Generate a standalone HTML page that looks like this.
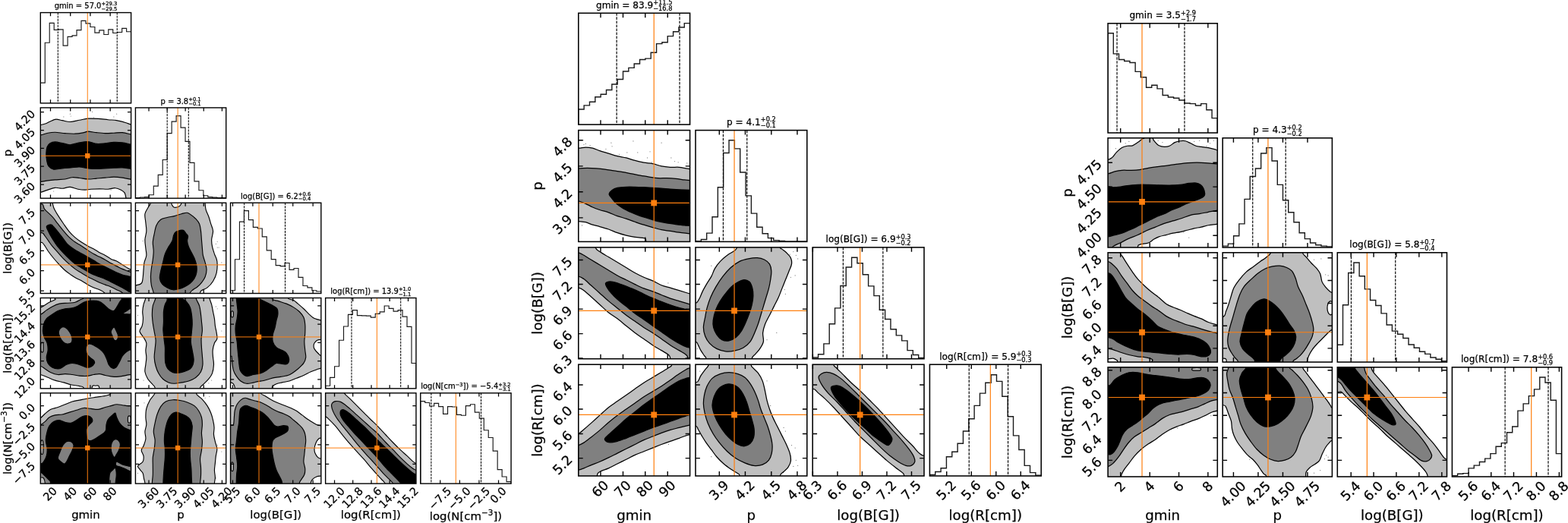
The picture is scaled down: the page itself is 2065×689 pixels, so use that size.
<!DOCTYPE html>
<html><head><meta charset="utf-8"><title>corner plots</title>
<style>
html,body{margin:0;padding:0;background:#fff;}
body{width:2065px;height:689px;overflow:hidden;}
svg{display:block;}
.t{font-family:"DejaVu Sans","Liberation Sans",sans-serif;fill:#000;stroke:#000;stroke-width:0.25px;}
</style></head><body>
<svg width="2065" height="689" viewBox="0 0 2065 689">
<defs><clipPath id="c1"><rect x="53.3" y="16.6" width="119.3" height="119.3"/></clipPath><clipPath id="c2"><rect x="178.42" y="141.9" width="119.3" height="119.3"/></clipPath><clipPath id="c3"><rect x="303.54" y="267.2" width="119.3" height="119.3"/></clipPath><clipPath id="c4"><rect x="428.66" y="392.5" width="119.3" height="119.3"/></clipPath><clipPath id="c5"><rect x="553.78" y="517.8" width="119.3" height="119.3"/></clipPath><clipPath id="c6"><rect x="53.3" y="141.9" width="119.3" height="119.3"/></clipPath><clipPath id="c7"><rect x="53.3" y="267.2" width="119.3" height="119.3"/></clipPath><clipPath id="c8"><rect x="53.3" y="392.5" width="119.3" height="119.3"/></clipPath><clipPath id="c9"><rect x="53.3" y="517.8" width="119.3" height="119.3"/></clipPath><clipPath id="c10"><rect x="178.42" y="267.2" width="119.3" height="119.3"/></clipPath><clipPath id="c11"><rect x="178.42" y="392.5" width="119.3" height="119.3"/></clipPath><clipPath id="c12"><rect x="178.42" y="517.8" width="119.3" height="119.3"/></clipPath><clipPath id="c13"><rect x="303.54" y="392.5" width="119.3" height="119.3"/></clipPath><clipPath id="c14"><rect x="303.54" y="517.8" width="119.3" height="119.3"/></clipPath><clipPath id="c15"><rect x="428.66" y="517.8" width="119.3" height="119.3"/></clipPath><clipPath id="c16"><rect x="761.8" y="17.3" width="146.8" height="146.8"/></clipPath><clipPath id="c17"><rect x="916" y="171.6" width="146.8" height="146.8"/></clipPath><clipPath id="c18"><rect x="1070.2" y="325.9" width="146.8" height="146.8"/></clipPath><clipPath id="c19"><rect x="1224.4" y="480.2" width="146.8" height="146.8"/></clipPath><clipPath id="c20"><rect x="761.8" y="171.6" width="146.8" height="146.8"/></clipPath><clipPath id="c21"><rect x="761.8" y="325.9" width="146.8" height="146.8"/></clipPath><clipPath id="c22"><rect x="761.8" y="480.2" width="146.8" height="146.8"/></clipPath><clipPath id="c23"><rect x="916" y="325.9" width="146.8" height="146.8"/></clipPath><clipPath id="c24"><rect x="916" y="480.2" width="146.8" height="146.8"/></clipPath><clipPath id="c25"><rect x="1070.2" y="480.2" width="146.8" height="146.8"/></clipPath><clipPath id="c26"><rect x="1459.1" y="30.8" width="144.2" height="144.2"/></clipPath><clipPath id="c27"><rect x="1610.2" y="181.8" width="144.2" height="144.2"/></clipPath><clipPath id="c28"><rect x="1761.3" y="332.8" width="144.2" height="144.2"/></clipPath><clipPath id="c29"><rect x="1912.4" y="483.8" width="144.2" height="144.2"/></clipPath><clipPath id="c30"><rect x="1459.1" y="181.8" width="144.2" height="144.2"/></clipPath><clipPath id="c31"><rect x="1459.1" y="332.8" width="144.2" height="144.2"/></clipPath><clipPath id="c32"><rect x="1459.1" y="483.8" width="144.2" height="144.2"/></clipPath><clipPath id="c33"><rect x="1610.2" y="332.8" width="144.2" height="144.2"/></clipPath><clipPath id="c34"><rect x="1610.2" y="483.8" width="144.2" height="144.2"/></clipPath><clipPath id="c35"><rect x="1761.3" y="483.8" width="144.2" height="144.2"/></clipPath></defs>
<g clip-path="url(#c1)">
<path d="M53.3,135.9 V109.11 H59.27 V56.28 H65.23 V30.43 H71.19 V39.3 H77.16 V38.92 H83.12 V60.06 H89.09 V48.36 H95.06 V46.85 H101.02 V39.68 H106.98 V27.42 H112.95 V30.81 H118.91 V35.53 H124.88 V43.08 H130.84 V39.87 H136.81 V45.53 H142.77 V38.92 H148.74 V43.45 H154.7 V42.51 H160.67 V37.42 H166.63 V41.75 H172.6 V135.9" fill="none" stroke="#1a1a1a" stroke-width="1.15" stroke-linejoin="miter"/>
<line x1="76.3" y1="16.6" x2="76.3" y2="135.9" stroke="#000" stroke-width="1.05" stroke-dasharray="2.9 1.19"/>
<line x1="154.23" y1="16.6" x2="154.23" y2="135.9" stroke="#000" stroke-width="1.05" stroke-dasharray="2.9 1.19"/>
<line x1="115.26" y1="16.6" x2="115.26" y2="135.9" stroke="#ff7f0e" stroke-width="1"/>
</g>
<path d="M66.49,135.9v-4.6 M66.49,16.6v4.6 M92.72,135.9v-4.6 M92.72,16.6v4.6 M118.94,135.9v-4.6 M118.94,16.6v4.6 M145.17,135.9v-4.6 M145.17,16.6v4.6" stroke="#000" stroke-width="1.26" fill="none"/>
<rect x="53.3" y="16.6" width="119.3" height="119.3" fill="none" stroke="#000" stroke-width="1.4"/>
<g clip-path="url(#c2)">
<path d="M178.42,261.2 V260.53 H184.39 V259.96 H190.35 V259.58 H196.32 V256.75 H202.28 V245.06 H208.25 V230.34 H214.21 V210.53 H220.18 V175.62 H226.14 V160.15 H232.11 V152.6 H238.07 V168.08 H244.04 V186.38 H250 V214.3 H255.97 V238.83 H261.93 V250.72 H267.9 V257.7 H273.86 V259.58 H279.83 V260.15 H285.79 V260.53 H291.75 V260.53 H297.72 V261.2" fill="none" stroke="#1a1a1a" stroke-width="1.15" stroke-linejoin="miter"/>
<line x1="220.17" y1="141.9" x2="220.17" y2="261.2" stroke="#000" stroke-width="1.05" stroke-dasharray="2.9 1.19"/>
<line x1="248.28" y1="141.9" x2="248.28" y2="261.2" stroke="#000" stroke-width="1.05" stroke-dasharray="2.9 1.19"/>
<line x1="234.13" y1="141.9" x2="234.13" y2="261.2" stroke="#ff7f0e" stroke-width="1"/>
</g>
<path d="M196.02,261.2v-4.6 M196.02,141.9v4.6 M220.17,261.2v-4.6 M220.17,141.9v4.6 M244.13,261.2v-4.6 M244.13,141.9v4.6 M268.28,261.2v-4.6 M268.28,141.9v4.6 M292.43,261.2v-4.6 M292.43,141.9v4.6" stroke="#000" stroke-width="1.26" fill="none"/>
<rect x="178.42" y="141.9" width="119.3" height="119.3" fill="none" stroke="#000" stroke-width="1.4"/>
<g clip-path="url(#c3)">
<path d="M303.54,386.5 V382.7 H309.5 V341.75 H315.47 V292.13 H321.44 V277.6 H327.4 V289.68 H333.37 V299.3 H339.33 V301 H345.3 V311.94 H351.26 V329.87 H357.23 V341.57 H363.19 V349.68 H369.16 V350.62 H375.12 V346.47 H381.09 V355.34 H387.05 V353.45 H393.02 V365.34 H398.98 V376.47 H404.95 V378.92 H410.91 V382.7 H416.88 V384.02 H422.84 V386.5" fill="none" stroke="#1a1a1a" stroke-width="1.15" stroke-linejoin="miter"/>
<line x1="321.58" y1="267.2" x2="321.58" y2="386.5" stroke="#000" stroke-width="1.05" stroke-dasharray="2.9 1.19"/>
<line x1="375.55" y1="267.2" x2="375.55" y2="386.5" stroke="#000" stroke-width="1.05" stroke-dasharray="2.9 1.19"/>
<line x1="341.02" y1="267.2" x2="341.02" y2="386.5" stroke="#ff7f0e" stroke-width="1"/>
</g>
<path d="M306.49,386.5v-4.6 M306.49,267.2v4.6 M332.91,386.5v-4.6 M332.91,267.2v4.6 M359.32,386.5v-4.6 M359.32,267.2v4.6 M385.74,386.5v-4.6 M385.74,267.2v4.6 M412.15,386.5v-4.6 M412.15,267.2v4.6" stroke="#000" stroke-width="1.26" fill="none"/>
<rect x="303.54" y="267.2" width="119.3" height="119.3" fill="none" stroke="#000" stroke-width="1.4"/>
<g clip-path="url(#c4)">
<path d="M428.66,511.8 V508.26 H434.62 V497.32 H440.59 V482.79 H446.56 V448.26 H452.52 V429.96 H458.49 V414.3 H464.45 V408.64 H470.42 V415.62 H476.38 V415.81 H482.35 V416.19 H488.31 V418.08 H494.28 V413.36 H500.24 V410.91 H506.21 V402.98 H512.17 V406.38 H518.13 V410.15 H524.1 V408.64 H530.07 V417.13 H536.03 V430.34 H542 V478.45 H547.96 V511.8" fill="none" stroke="#1a1a1a" stroke-width="1.15" stroke-linejoin="miter"/>
<line x1="463" y1="392.5" x2="463" y2="511.8" stroke="#000" stroke-width="1.05" stroke-dasharray="2.9 1.19"/>
<line x1="527.72" y1="392.5" x2="527.72" y2="511.8" stroke="#000" stroke-width="1.05" stroke-dasharray="2.9 1.19"/>
<line x1="496.4" y1="392.5" x2="496.4" y2="511.8" stroke="#ff7f0e" stroke-width="1"/>
</g>
<path d="M440.55,511.8v-4.6 M440.55,392.5v4.6 M464.7,511.8v-4.6 M464.7,392.5v4.6 M489.04,511.8v-4.6 M489.04,392.5v4.6 M513.19,511.8v-4.6 M513.19,392.5v4.6 M537.53,511.8v-4.6 M537.53,392.5v4.6" stroke="#000" stroke-width="1.26" fill="none"/>
<rect x="428.66" y="392.5" width="119.3" height="119.3" fill="none" stroke="#000" stroke-width="1.4"/>
<g clip-path="url(#c5)">
<path d="M553.78,637.1 V528.6 H559.75 V530.49 H565.71 V535.02 H571.67 V531.43 H577.64 V535.58 H583.61 V545.4 H589.57 V535.58 H595.53 V535.96 H601.5 V546.34 H607.46 V547.28 H613.43 V534.64 H619.39 V532.75 H625.36 V543.13 H631.32 V551.06 H637.29 V566.72 H643.25 V576.53 H649.22 V594.08 H655.18 V618.6 H661.15 V628.04 H667.11 V634.64 H673.08 V637.1" fill="none" stroke="#1a1a1a" stroke-width="1.15" stroke-linejoin="miter"/>
<line x1="567.87" y1="517.8" x2="567.87" y2="637.1" stroke="#000" stroke-width="1.05" stroke-dasharray="2.9 1.19"/>
<line x1="633.53" y1="517.8" x2="633.53" y2="637.1" stroke="#000" stroke-width="1.05" stroke-dasharray="2.9 1.19"/>
<line x1="600.32" y1="517.8" x2="600.32" y2="637.1" stroke="#ff7f0e" stroke-width="1"/>
</g>
<path d="M579.75,637.1v-4.6 M579.75,517.8v4.6 M605.42,637.1v-4.6 M605.42,517.8v4.6 M630.98,637.1v-4.6 M630.98,517.8v4.6 M656.55,637.1v-4.6 M656.55,517.8v4.6" stroke="#000" stroke-width="1.26" fill="none"/>
<rect x="553.78" y="517.8" width="119.3" height="119.3" fill="none" stroke="#000" stroke-width="1.4"/>
<g clip-path="url(#c6)">
<path d="M83.85,153.92h0.01 M92.34,150.15h0.01 M93.28,152.98h0.01 M121.58,147.32h0.01 M123.47,154.87h0.01 M149.89,153.92h0.01 M153.66,150.15h0.01 M146.11,250.15h0.01 M70.64,252.04h0.01" stroke="#000" stroke-opacity="0.5" stroke-width="1.12" stroke-linecap="round" fill="none"/>
<path d="M40.45,167.13 C42.59,151.79 49.82,165.47 53.28,164.68 C56.74,163.89 58,163.64 61.21,162.42 C64.42,161.19 69.07,157.95 72.53,157.32 C75.99,156.69 78.66,158.11 81.96,158.64 C85.26,159.18 88.57,160.59 92.34,160.53 C96.11,160.47 100.67,158.99 104.6,158.26 C108.53,157.54 111.84,156.5 115.92,156.19 C120.01,155.87 124.73,156.13 129.13,156.38 C133.53,156.63 138.25,157.32 142.34,157.7 C146.43,158.08 149.89,158.01 153.66,158.64 C157.43,159.27 161.77,160.53 164.98,161.47 C168.19,162.42 169.76,163.36 172.91,164.3 C176.05,165.25 182.03,149.21 183.85,167.13 C185.67,185.06 186.68,254.4 183.85,271.85 C181.02,289.3 169.86,273.67 166.87,271.85 C163.88,270.03 166.4,263.89 165.92,260.91 C165.45,257.92 165.14,255.72 164.04,253.92 C162.94,252.13 161.36,251.19 159.32,250.15 C157.28,249.11 154.6,247.86 151.77,247.7 C148.94,247.54 145.8,249.02 142.34,249.21 C138.88,249.4 134.79,248.83 131.02,248.83 C127.25,248.83 122.84,248.99 119.7,249.21 C116.55,249.43 114.98,250.15 112.15,250.15 C109.32,250.15 106.02,249.84 102.72,249.21 C99.42,248.58 95.8,246.53 92.34,246.38 C88.88,246.22 85.26,248.11 81.96,248.26 C78.66,248.42 75.67,247.01 72.53,247.32 C69.38,247.64 66.3,249.14 63.09,250.15 C59.89,251.16 57.06,252.26 53.28,253.36 C49.51,254.46 42.59,271.13 40.45,256.75 C38.31,242.38 38.31,182.48 40.45,167.13Z" fill="#bfbfbf" stroke="#000" stroke-width="1.15" stroke-linejoin="round"/>
<path d="M40.45,179.4 C42.59,168.92 49.51,178.58 53.28,177.89 C57.06,177.19 59.89,175.84 63.09,175.25 C66.3,174.65 68.75,174.24 72.53,174.3 C76.3,174.36 81.33,175.31 85.74,175.62 C90.14,175.94 94.86,176.35 98.94,176.19 C103.03,176.03 107.43,175.18 110.26,174.68 C113.09,174.18 113.09,173.17 115.92,173.17 C118.75,173.17 123.47,174.27 127.25,174.68 C131.02,175.09 134.79,175.53 138.57,175.62 C142.34,175.72 146.11,175.4 149.89,175.25 C153.66,175.09 157.37,174.36 161.21,174.68 C165.04,174.99 169.13,176.35 172.91,177.13 C176.68,177.92 182.03,169.11 183.85,179.4 C185.67,189.68 185.67,229.33 183.85,238.83 C182.03,248.33 176.68,237.16 172.91,236.38 C169.13,235.59 165.04,234.65 161.21,234.11 C157.37,233.58 153.66,233.17 149.89,233.17 C146.11,233.17 142.34,233.8 138.57,234.11 C134.79,234.43 131.02,234.74 127.25,235.06 C123.47,235.37 119.7,236.09 115.92,236 C112.15,235.91 108.06,234.87 104.6,234.49 C101.14,234.11 98.31,233.48 95.17,233.74 C92.03,233.99 89.51,235.47 85.74,236 C81.96,236.53 76.3,236.63 72.53,236.94 C68.75,237.26 66.3,237.48 63.09,237.89 C59.89,238.3 57.06,238.92 53.28,239.4 C49.51,239.87 42.59,250.72 40.45,240.72 C38.31,230.72 38.31,189.87 40.45,179.4Z" fill="#808080" stroke="#000" stroke-width="1.15" stroke-linejoin="round"/>
<path d="M183.85,192.6 C182.03,187.04 176.68,191.13 172.91,190.34 C169.13,189.55 165.04,188.39 161.21,187.89 C157.37,187.38 153.66,187.16 149.89,187.32 C146.11,187.48 142.34,188.48 138.57,188.83 C134.79,189.18 131.02,189.77 127.25,189.4 C123.47,189.02 119.7,186.82 115.92,186.57 C112.15,186.31 108.53,187.19 104.6,187.89 C100.67,188.58 96.11,190.62 92.34,190.72 C88.57,190.81 85.26,189.08 81.96,188.45 C78.66,187.82 75.2,186.88 72.53,186.94 C69.86,187.01 67.65,187.73 65.92,188.83 C64.19,189.93 63,191.35 62.15,193.55 C61.3,195.75 60.92,199.05 60.83,202.04 C60.74,205.03 61.05,208.64 61.58,211.47 C62.12,214.3 62.53,217.07 64.04,219.02 C65.55,220.97 67.65,222.7 70.64,223.17 C73.63,223.64 78.19,222.23 81.96,221.85 C85.74,221.47 89.51,221.22 93.28,220.91 C97.06,220.59 100.83,219.81 104.6,219.96 C108.38,220.12 112.15,221.44 115.92,221.85 C119.7,222.26 123.47,222.42 127.25,222.42 C131.02,222.42 134.79,222.04 138.57,221.85 C142.34,221.66 146.11,221.44 149.89,221.28 C153.66,221.13 157.37,220.72 161.21,220.91 C165.04,221.09 169.13,221.94 172.91,222.42 C176.68,222.89 182.03,228.7 183.85,223.74 C185.67,218.77 185.67,198.17 183.85,192.6Z" fill="#000000" stroke="#000" stroke-width="1.15" stroke-linejoin="round"/>
<path d="M115.26,141.9V261.2 M53.3,205.25H172.6" stroke="#ff7f0e" stroke-width="1" fill="none"/>
<rect x="112.06" y="202.05" width="6.4" height="6.4" fill="#ff7f0e"/>
</g>
<path d="M66.49,261.2v-4.6 M66.49,141.9v4.6 M92.72,261.2v-4.6 M92.72,141.9v4.6 M118.94,261.2v-4.6 M118.94,141.9v4.6 M145.17,261.2v-4.6 M145.17,141.9v4.6 M53.3,147.7h4.6 M172.6,147.7h-4.6 M53.3,171.66h4.6 M172.6,171.66h-4.6 M53.3,195.43h4.6 M172.6,195.43h-4.6 M53.3,219.21h4.6 M172.6,219.21h-4.6 M53.3,243.17h4.6 M172.6,243.17h-4.6" stroke="#000" stroke-width="1.26" fill="none"/>
<rect x="53.3" y="141.9" width="119.3" height="119.3" fill="none" stroke="#000" stroke-width="1.4"/>
<g clip-path="url(#c7)">
<path d="M40.45,253.45 C44.86,243.39 62.09,256.85 66.87,259.11 C71.65,261.38 68.44,264.52 69.13,267.04 C69.82,269.55 69.82,271.44 71.02,274.21 C72.21,276.97 74.16,280.18 76.3,283.64 C78.44,287.1 81.33,291.35 83.85,294.96 C86.36,298.58 88.88,302.35 91.4,305.34 C93.91,308.33 96.43,310.69 98.94,312.89 C101.46,315.09 103.66,316.66 106.49,318.55 C109.32,320.43 113.09,322.64 115.92,324.21 C118.75,325.78 120.96,326.57 123.47,327.98 C125.99,329.4 128.5,331.28 131.02,332.7 C133.53,334.11 136.05,335.06 138.57,336.47 C141.08,337.89 143.6,339.93 146.11,341.19 C148.63,342.45 151.14,342.76 153.66,344.02 C156.18,345.28 158.69,347.16 161.21,348.74 C163.72,350.31 166.81,352.35 168.75,353.45 C170.7,354.55 170.39,354.08 172.91,355.34 C175.42,356.6 182.03,354.08 183.85,361 C185.67,367.92 190.77,390.87 183.85,396.85 C176.93,402.82 150.04,398.67 142.34,396.85 C134.64,395.03 139.51,388.42 137.62,385.91 C135.74,383.39 133.38,382.92 131.02,381.75 C128.66,380.59 125.99,380.03 123.47,378.92 C120.96,377.82 118.44,376.57 115.92,375.15 C113.41,373.74 110.89,371.85 108.38,370.43 C105.86,369.02 103.35,368.08 100.83,366.66 C98.31,365.25 95.8,363.67 93.28,361.94 C90.77,360.21 88.25,358.48 85.74,356.28 C83.22,354.08 80.7,351.41 78.19,348.74 C75.67,346.06 73,343.08 70.64,340.25 C68.28,337.42 65.92,334.43 64.04,331.75 C62.15,329.08 60.67,326.19 59.32,324.21 C57.97,322.23 56.93,320.65 55.92,319.87 C54.92,319.08 55.86,319.55 53.28,319.49 C50.7,319.43 42.59,330.5 40.45,319.49 C38.31,308.48 36.05,263.52 40.45,253.45Z" fill="#bfbfbf" stroke="#000" stroke-width="1.15" stroke-linejoin="round"/>
<path d="M40.45,268.55 C42.59,262.26 50.61,268.77 53.28,268.92 C55.96,269.08 55.64,268.45 56.49,269.49 C57.34,270.53 57.28,273.42 58.38,275.15 C59.48,276.88 61.21,277.98 63.09,279.87 C64.98,281.75 67.5,283.96 69.7,286.47 C71.9,288.99 73.94,291.97 76.3,294.96 C78.66,297.95 81.49,301.57 83.85,304.4 C86.21,307.23 88.25,309.74 90.45,311.94 C92.65,314.14 94.7,315.87 97.06,317.6 C99.42,319.33 101.46,320.28 104.6,322.32 C107.75,324.36 112.78,327.82 115.92,329.87 C119.07,331.91 120.96,333.17 123.47,334.58 C125.99,336 128.5,337.1 131.02,338.36 C133.53,339.62 136.05,340.72 138.57,342.13 C141.08,343.55 143.6,345.43 146.11,346.85 C148.63,348.26 151.14,349.36 153.66,350.62 C156.18,351.88 158.69,353.3 161.21,354.4 C163.72,355.5 166.81,356.44 168.75,357.23 C170.7,358.01 170.39,358.01 172.91,359.11 C175.42,360.21 182.03,357.54 183.85,363.83 C185.67,370.12 186.99,391.35 183.85,396.85 C180.7,402.35 168.75,398.67 164.98,396.85 C161.21,395.03 163.09,388.42 161.21,385.91 C159.32,383.39 156.18,383.08 153.66,381.75 C151.14,380.43 148.63,379.08 146.11,377.98 C143.6,376.88 141.08,376.09 138.57,375.15 C136.05,374.21 133.53,373.42 131.02,372.32 C128.5,371.22 125.99,369.81 123.47,368.55 C120.96,367.29 118.75,366.35 115.92,364.77 C113.09,363.2 109.32,360.84 106.49,359.11 C103.66,357.38 101.46,356.22 98.94,354.4 C96.43,352.57 93.91,350.37 91.4,348.17 C88.88,345.97 86.36,343.77 83.85,341.19 C81.33,338.61 78.82,335.53 76.3,332.7 C73.79,329.87 70.8,326.72 68.75,324.21 C66.71,321.69 65.61,319.81 64.04,317.6 C62.47,315.4 60.58,312.73 59.32,311 C58.06,309.27 57.5,307.95 56.49,307.23 C55.48,306.5 55.96,306.75 53.28,306.66 C50.61,306.57 42.59,313.01 40.45,306.66 C38.31,300.31 38.31,274.84 40.45,268.55Z" fill="#808080" stroke="#000" stroke-width="1.15" stroke-linejoin="round"/>
<path d="M61.21,298.74 C61.27,297.57 62.37,296.91 63.47,296.47 C64.57,296.03 66.62,295.72 67.81,296.09 C69.01,296.47 69.23,297.19 70.64,298.74 C72.06,300.28 74.26,302.82 76.3,305.34 C78.35,307.86 80.86,311.16 82.91,313.83 C84.95,316.5 86.21,319.02 88.57,321.38 C90.92,323.74 93.75,325.78 97.06,327.98 C100.36,330.18 105.23,332.79 108.38,334.58 C111.52,336.38 113.41,337.32 115.92,338.74 C118.44,340.15 120.96,341.57 123.47,343.08 C125.99,344.58 128.5,346.38 131.02,347.79 C133.53,349.21 136.05,350.31 138.57,351.57 C141.08,352.82 143.6,354.08 146.11,355.34 C148.63,356.6 151.14,358.01 153.66,359.11 C156.18,360.21 158.69,361.16 161.21,361.94 C163.72,362.73 166.81,363.36 168.75,363.83 C170.7,364.3 170.39,363.99 172.91,364.77 C175.42,365.56 182.03,363.2 183.85,368.55 C185.67,373.89 185.11,392.76 183.85,396.85 C182.59,400.94 178.13,394.9 176.3,393.08 C174.48,391.25 174.16,387.48 172.91,385.91 C171.65,384.33 170.7,384.81 168.75,383.64 C166.81,382.48 163.72,380.34 161.21,378.92 C158.69,377.51 156.18,376.41 153.66,375.15 C151.14,373.89 148.63,372.64 146.11,371.38 C143.6,370.12 141.08,368.7 138.57,367.6 C136.05,366.5 133.53,365.72 131.02,364.77 C128.5,363.83 125.99,363.04 123.47,361.94 C120.96,360.84 118.75,359.74 115.92,358.17 C113.09,356.6 109.32,354.24 106.49,352.51 C103.66,350.78 101.46,349.68 98.94,347.79 C96.43,345.91 93.91,343.55 91.4,341.19 C88.88,338.83 86.36,336.31 83.85,333.64 C81.33,330.97 78.35,327.67 76.3,325.15 C74.26,322.64 73.16,320.91 71.58,318.55 C70.01,316.19 68.28,313.52 66.87,311 C65.45,308.48 64.04,305.5 63.09,303.45 C62.15,301.41 61.14,299.9 61.21,298.74Z" fill="#000000" stroke="#000" stroke-width="1.15" stroke-linejoin="round"/>
<path d="M115.26,267.2V386.5 M53.3,348.92H172.6" stroke="#ff7f0e" stroke-width="1" fill="none"/>
<rect x="112.06" y="345.72" width="6.4" height="6.4" fill="#ff7f0e"/>
</g>
<path d="M66.49,386.5v-4.6 M66.49,267.2v4.6 M92.72,386.5v-4.6 M92.72,267.2v4.6 M118.94,386.5v-4.6 M118.94,267.2v4.6 M145.17,386.5v-4.6 M145.17,267.2v4.6 M53.3,277.6h4.6 M172.6,277.6h-4.6 M53.3,304.02h4.6 M172.6,304.02h-4.6 M53.3,330.43h4.6 M172.6,330.43h-4.6 M53.3,356.66h4.6 M172.6,356.66h-4.6 M53.3,383.08h4.6 M172.6,383.08h-4.6" stroke="#000" stroke-width="1.26" fill="none"/>
<rect x="53.3" y="267.2" width="119.3" height="119.3" fill="none" stroke="#000" stroke-width="1.4"/>
<g clip-path="url(#c8)">
<path d="M40.45,378.45 C64.35,354.55 159.95,354.55 183.85,378.45 C207.75,402.35 207.75,497.95 183.85,521.85 C159.95,545.75 64.35,545.75 40.45,521.85 C16.55,497.95 16.55,402.35 40.45,378.45Z" fill="#bfbfbf" stroke="#000" stroke-width="1.15" stroke-linejoin="round"/>
<path d="M40.45,378.45 C45.64,373.74 66.4,376.19 71.58,378.45 C76.77,380.72 71.36,389.36 71.58,392.04 C71.81,394.71 74.01,393.45 72.91,394.49 C71.81,395.53 67.56,396.85 64.98,398.26 C62.4,399.68 59.38,401.88 57.43,402.98 C55.48,404.08 56.11,404.24 53.28,404.87 C50.45,405.5 42.59,411.16 40.45,406.75 C38.31,402.35 35.26,383.17 40.45,378.45Z" fill="#ffffff" stroke="#000" stroke-width="1.15" stroke-linejoin="round"/>
<path d="M40.45,491.66 C42.59,486.94 49.51,492.6 53.28,493.55 C57.06,494.49 59.89,496.06 63.09,497.32 C66.3,498.58 69.07,499.99 72.53,501.09 C75.99,502.19 80.39,502.98 83.85,503.92 C87.31,504.87 89.82,505.97 93.28,506.75 C96.74,507.54 101.77,507.95 104.6,508.64 C107.43,509.33 109.16,508.7 110.26,510.91 C111.36,513.11 122.84,520.03 111.21,521.85 C99.57,523.67 52.25,526.88 40.45,521.85 C28.66,516.82 38.31,496.38 40.45,491.66Z" fill="#ffffff" stroke="#000" stroke-width="1.15" stroke-linejoin="round"/>
<path d="M121.58,521.85 C120.14,519.71 120.89,511.28 121.58,509.02 C122.28,506.75 124.29,508.26 125.74,508.26 C127.18,508.26 129.51,506.75 130.26,509.02 C131.02,511.28 131.71,519.71 130.26,521.85 C128.82,523.99 123.03,523.99 121.58,521.85Z" fill="#ffffff" stroke="#000" stroke-width="1.15" stroke-linejoin="round"/>
<path d="M40.45,416.19 C42.59,405.18 49.82,415.56 53.28,414.3 C56.74,413.04 58.63,410.37 61.21,408.64 C63.79,406.91 65.92,405.34 68.75,403.92 C71.58,402.51 74.73,400.94 78.19,400.15 C81.65,399.36 86.05,399.52 89.51,399.21 C92.97,398.89 96.11,399.05 98.94,398.26 C101.77,397.48 104.6,395.53 106.49,394.49 C108.38,393.45 109.32,394.71 110.26,392.04 C111.21,389.36 99.89,380.72 112.15,378.45 C124.42,376.19 171.9,359.43 183.85,378.45 C195.8,397.48 185.67,473.42 183.85,492.6 C182.03,511.79 175.42,493.33 172.91,493.55 C170.39,493.77 170.7,493.61 168.75,493.92 C166.81,494.24 163.72,495.03 161.21,495.43 C158.69,495.84 156.18,496.31 153.66,496.38 C151.14,496.44 148.63,496.13 146.11,495.81 C143.6,495.5 141.08,495.03 138.57,494.49 C136.05,493.96 133.53,492.76 131.02,492.6 C128.5,492.45 126.3,493.08 123.47,493.55 C120.64,494.02 117.18,495.18 114.04,495.43 C110.89,495.69 107.75,495.37 104.6,495.06 C101.46,494.74 98.31,493.96 95.17,493.55 C92.03,493.14 88.88,492.6 85.74,492.6 C82.59,492.6 79.45,493.86 76.3,493.55 C73.16,493.23 69.7,491.97 66.87,490.72 C64.04,489.46 61.58,487.42 59.32,486 C57.06,484.58 56.43,483.17 53.28,482.23 C50.14,481.28 42.59,491.35 40.45,480.34 C38.31,469.33 38.31,427.19 40.45,416.19Z" fill="#808080" stroke="#000" stroke-width="1.15" stroke-linejoin="round"/>
<path d="M54.23,452.42 C54.64,450.59 56.21,451.16 56.68,452.04 C57.15,452.92 57.06,455.81 57.06,457.7 C57.06,459.58 57.15,462.48 56.68,463.36 C56.21,464.24 54.64,464.81 54.23,462.98 C53.82,461.16 53.82,454.24 54.23,452.42Z" fill="#bfbfbf" stroke="#000" stroke-width="1.15" stroke-linejoin="round"/>
<path d="M56.49,436.94 C56.33,434.11 56.65,430.34 57.43,427.51 C58.22,424.68 59.32,422.16 61.21,419.96 C63.09,417.76 66.24,416.03 68.75,414.3 C71.27,412.57 73.47,410.84 76.3,409.58 C79.13,408.33 82.59,407.38 85.74,406.75 C88.88,406.13 92.34,406.44 95.17,405.81 C98,405.18 100.2,404.24 102.72,402.98 C105.23,401.72 107.75,399.36 110.26,398.26 C112.78,397.16 114.98,396.69 117.81,396.38 C120.64,396.06 124.73,396.06 127.25,396.38 C129.76,396.69 131.02,397.16 132.91,398.26 C134.79,399.36 136.68,401.41 138.57,402.98 C140.45,404.55 142.34,406.6 144.23,407.7 C146.11,408.8 148.31,410.06 149.89,409.58 C151.46,409.11 152.4,406.75 153.66,404.87 C154.92,402.98 156.18,400.4 157.43,398.26 C158.69,396.13 160.26,395.34 161.21,392.04 C162.15,388.74 159.32,380.72 163.09,378.45 C166.87,376.19 180.39,364.93 183.85,378.45 C187.31,391.97 185.67,445.91 183.85,459.58 C182.03,473.26 175.74,459.9 172.91,460.53 C170.08,461.16 168.82,461.94 166.87,463.36 C164.92,464.77 162.78,466.82 161.21,469.02 C159.64,471.22 158.85,474.05 157.43,476.57 C156.02,479.08 154.29,482.7 152.72,484.11 C151.14,485.53 149.57,485.69 148,485.06 C146.43,484.43 144.54,482.38 143.28,480.34 C142.03,478.3 141.55,475.31 140.45,472.79 C139.35,470.28 138.25,467.45 136.68,465.25 C135.11,463.04 133.22,461.31 131.02,459.58 C128.82,457.86 125.67,455.97 123.47,454.87 C121.27,453.77 119.38,452.82 117.81,452.98 C116.24,453.14 114.82,454.4 114.04,455.81 C113.25,457.23 112.94,459.58 113.09,461.47 C113.25,463.36 113.88,465.4 114.98,467.13 C116.08,468.86 118.28,470.59 119.7,471.85 C121.11,473.11 122.69,473.58 123.47,474.68 C124.26,475.78 125.04,477.04 124.42,478.45 C123.79,479.87 121.43,482.23 119.7,483.17 C117.97,484.11 116.55,484.58 114.04,484.11 C111.52,483.64 107.75,481.28 104.6,480.34 C101.46,479.4 98,478.45 95.17,478.45 C92.34,478.45 89.82,479.4 87.62,480.34 C85.42,481.28 83.85,483.17 81.96,484.11 C80.08,485.06 78.5,486 76.3,486 C74.1,486 70.96,485.37 68.75,484.11 C66.55,482.86 64.35,480.65 63.09,478.45 C61.84,476.25 61.21,473.74 61.21,470.91 C61.21,468.08 62.94,464.62 63.09,461.47 C63.25,458.33 62.94,454.87 62.15,452.04 C61.36,449.21 59.32,447.01 58.38,444.49 C57.43,441.97 56.65,439.77 56.49,436.94Z" fill="#000000" stroke="#000" stroke-width="1.15" stroke-linejoin="round"/>
<path d="M77.25,436.94 C77.56,434.74 79.6,432.23 81.02,431.28 C82.43,430.34 84.01,430.34 85.74,431.28 C87.47,432.23 89.89,434.74 91.4,436.94 C92.91,439.14 94.32,442.13 94.79,444.49 C95.26,446.85 95.26,449.68 94.23,451.09 C93.19,452.51 90.45,453.14 88.57,452.98 C86.68,452.82 84.48,451.57 82.91,450.15 C81.33,448.74 80.08,446.69 79.13,444.49 C78.19,442.29 76.93,439.14 77.25,436.94Z" fill="#808080" stroke="#000" stroke-width="1.15" stroke-linejoin="round"/>
<path d="M146.11,436.94 C146.43,435.06 148.79,431.6 149.89,431.28 C150.99,430.97 151.77,433.17 152.72,435.06 C153.66,436.94 155.39,440.4 155.55,442.6 C155.7,444.81 154.6,447.48 153.66,448.26 C152.72,449.05 150.83,448.26 149.89,447.32 C148.94,446.38 148.63,444.33 148,442.6 C147.37,440.87 145.8,438.83 146.11,436.94Z" fill="#808080" stroke="#000" stroke-width="1.15" stroke-linejoin="round"/>
<path d="M183.85,404.87 C182.03,403.52 175.74,405.03 172.91,405.81 C170.08,406.6 168.66,408.33 166.87,409.58 C165.08,410.84 161.84,412.64 162.15,413.36 C162.47,414.08 166.96,413.83 168.75,413.92 C170.55,414.02 170.39,413.92 172.91,413.92 C175.42,413.92 182.03,415.43 183.85,413.92 C185.67,412.42 185.67,406.22 183.85,404.87Z" fill="#808080" stroke="#000" stroke-width="1.15" stroke-linejoin="round"/>
<path d="M115.26,392.5V511.8 M53.3,443.92H172.6" stroke="#ff7f0e" stroke-width="1" fill="none"/>
<rect x="112.06" y="440.72" width="6.4" height="6.4" fill="#ff7f0e"/>
</g>
<path d="M66.49,511.8v-4.6 M66.49,392.5v4.6 M92.72,511.8v-4.6 M92.72,392.5v4.6 M118.94,511.8v-4.6 M118.94,392.5v4.6 M145.17,511.8v-4.6 M145.17,392.5v4.6 M53.3,402.98h4.6 M172.6,402.98h-4.6 M53.3,427.13h4.6 M172.6,427.13h-4.6 M53.3,451.47h4.6 M172.6,451.47h-4.6 M53.3,475.62h4.6 M172.6,475.62h-4.6 M53.3,499.77h4.6 M172.6,499.77h-4.6" stroke="#000" stroke-width="1.26" fill="none"/>
<rect x="53.3" y="392.5" width="119.3" height="119.3" fill="none" stroke="#000" stroke-width="1.4"/>
<g clip-path="url(#c9)">
<path d="M40.45,504.45 C64.35,480.55 159.95,480.55 183.85,504.45 C207.75,528.35 207.75,623.95 183.85,647.85 C159.95,671.75 64.35,671.75 40.45,647.85 C16.55,623.95 16.55,528.35 40.45,504.45Z" fill="#bfbfbf" stroke="#000" stroke-width="1.15" stroke-linejoin="round"/>
<path d="M40.45,504.45 C58.38,495.33 130.39,502.25 148,504.45 C165.61,506.65 147.06,514.99 146.11,517.66 C145.17,520.33 144.54,519.7 142.34,520.49 C140.14,521.28 136.05,521.84 132.91,522.38 C129.76,522.91 126.62,523.23 123.47,523.7 C120.33,524.17 117.18,524.64 114.04,525.21 C110.89,525.77 107.75,526.47 104.6,527.09 C101.46,527.72 98.31,528.04 95.17,528.98 C92.03,529.92 88.88,531.5 85.74,532.75 C82.59,534.01 79.45,535.43 76.3,536.53 C73.16,537.63 69.7,537.94 66.87,539.36 C64.04,540.77 61.58,543.13 59.32,545.02 C57.06,546.91 56.43,548.32 53.28,550.68 C50.14,553.04 42.59,566.87 40.45,559.17 C38.31,551.47 22.53,513.57 40.45,504.45Z" fill="#ffffff" stroke="#000" stroke-width="1.15" stroke-linejoin="round"/>
<path d="M40.45,568.6 C42.59,557.13 50.14,562.31 53.28,560.11 C56.43,557.91 57.37,557.13 59.32,555.4 C61.27,553.67 62.78,551.15 64.98,549.74 C67.18,548.32 69.7,547.53 72.53,546.91 C75.36,546.28 78.82,546.59 81.96,545.96 C85.11,545.33 88.25,544.08 91.4,543.13 C94.54,542.19 97.69,541.25 100.83,540.3 C103.97,539.36 107.12,537.79 110.26,537.47 C113.41,537.16 116.55,538.1 119.7,538.42 C122.84,538.73 125.99,539.67 129.13,539.36 C132.28,539.04 135.74,537.31 138.57,536.53 C141.4,535.74 143.6,535.27 146.11,534.64 C148.63,534.01 151.14,532.91 153.66,532.75 C156.18,532.6 158.69,533.38 161.21,533.7 C163.72,534.01 166.81,534.48 168.75,534.64 C170.7,534.8 170.39,534.64 172.91,534.64 C175.42,534.64 182.03,515.77 183.85,534.64 C185.67,553.51 204.6,628.98 183.85,647.85 C163.09,666.72 80.08,649.74 59.32,647.85 C38.57,645.96 59.64,639.52 59.32,636.53 C59.01,633.54 58.44,631.18 57.43,629.92 C56.43,628.67 56.11,629.14 53.28,628.98 C50.45,628.82 42.59,639.04 40.45,628.98 C38.31,618.92 38.31,580.08 40.45,568.6Z" fill="#808080" stroke="#000" stroke-width="1.15" stroke-linejoin="round"/>
<path d="M54.04,581.81 C54.48,579.3 56.24,579.3 56.68,581.81 C57.12,584.33 57.12,594.39 56.68,596.91 C56.24,599.42 54.48,599.42 54.04,596.91 C53.6,594.39 53.6,584.33 54.04,581.81Z" fill="#bfbfbf" stroke="#000" stroke-width="1.15" stroke-linejoin="round"/>
<path d="M168.75,548.79 C169.26,547.53 171.27,547.53 171.77,548.79 C172.28,550.05 172.28,555.08 171.77,556.34 C171.27,557.6 169.26,557.6 168.75,556.34 C168.25,555.08 168.25,550.05 168.75,548.79Z" fill="#bfbfbf" stroke="#000" stroke-width="1.15" stroke-linejoin="round"/>
<path d="M62.15,568.6 C62.94,565.46 63.57,563.26 64.98,561.06 C66.4,558.86 68.44,556.65 70.64,555.4 C72.84,554.14 75.67,553.35 78.19,553.51 C80.7,553.67 83.22,555.71 85.74,556.34 C88.25,556.97 90.77,557.75 93.28,557.28 C95.8,556.81 98.31,554.92 100.83,553.51 C103.35,552.09 105.86,549.74 108.38,548.79 C110.89,547.85 113.88,547.53 115.92,547.85 C117.97,548.16 119.7,549.42 120.64,550.68 C121.58,551.94 122.06,553.98 121.58,555.4 C121.11,556.81 119.07,557.6 117.81,559.17 C116.55,560.74 114.67,562.63 114.04,564.83 C113.41,567.03 113.88,570.18 114.04,572.38 C114.19,574.58 114.19,576.62 114.98,578.04 C115.77,579.45 117.03,580.87 118.75,580.87 C120.48,580.87 123.31,579.14 125.36,578.04 C127.4,576.94 129.13,575.52 131.02,574.26 C132.91,573.01 135.26,571.75 136.68,570.49 C138.09,569.23 138.94,568.6 139.51,566.72 C140.08,564.83 139.6,561.53 140.08,559.17 C140.55,556.81 141.02,554.61 142.34,552.57 C143.66,550.52 146.43,548.32 148,546.91 C149.57,545.49 150.83,543.6 151.77,544.08 C152.72,544.55 152.72,547.53 153.66,549.74 C154.6,551.94 155.86,555.08 157.43,557.28 C159.01,559.48 161.21,561.53 163.09,562.94 C164.98,564.36 167.12,565.14 168.75,565.77 C170.39,566.4 170.39,566.4 172.91,566.72 C175.42,567.03 182.03,554.14 183.85,567.66 C185.67,581.18 203.19,634.48 183.85,647.85 C164.51,661.21 87.15,649.67 67.81,647.85 C48.47,646.03 68.6,639.74 67.81,636.91 C67.03,634.08 64.82,632.82 63.09,630.87 C61.36,628.92 59.07,626.62 57.43,625.21 C55.8,623.79 56.11,623.01 53.28,622.38 C50.45,621.75 42.59,623.48 40.45,621.43 C38.31,619.39 38.31,611.84 40.45,610.11 C42.59,608.38 50.45,611.37 53.28,611.06 C56.11,610.74 56.11,609.96 57.43,608.23 C58.75,606.5 60.42,603.51 61.21,600.68 C61.99,597.85 62.31,594.7 62.15,591.25 C61.99,587.79 60.26,583.7 60.26,579.92 C60.26,576.15 61.36,571.75 62.15,568.6Z" fill="#000000" stroke="#000" stroke-width="1.15" stroke-linejoin="round"/>
<path d="M76.3,603.51 C76.14,601.31 78.03,597.85 79.13,595.02 C80.23,592.19 81.49,588.73 82.91,586.53 C84.32,584.33 85.89,582.6 87.62,581.81 C89.35,581.03 91.71,581.03 93.28,581.81 C94.86,582.6 96.74,584.64 97.06,586.53 C97.37,588.42 96.11,590.77 95.17,593.13 C94.23,595.49 92.65,598.16 91.4,600.68 C90.14,603.19 88.72,606.5 87.62,608.23 C86.52,609.96 86.05,611.06 84.79,611.06 C83.53,611.06 81.49,609.48 80.08,608.23 C78.66,606.97 76.46,605.71 76.3,603.51Z" fill="#808080" stroke="#000" stroke-width="1.15" stroke-linejoin="round"/>
<path d="M146.11,591.25 C145.96,588.73 146.27,585.74 147.06,583.7 C147.84,581.65 149.42,579.61 150.83,578.98 C152.25,578.35 154.29,578.82 155.55,579.92 C156.81,581.03 158.22,583.38 158.38,585.58 C158.53,587.79 157.43,590.77 156.49,593.13 C155.55,595.49 153.66,598.16 152.72,599.74 C151.77,601.31 151.62,602.72 150.83,602.57 C150.04,602.41 148.79,600.68 148,598.79 C147.21,596.91 146.27,593.76 146.11,591.25Z" fill="#808080" stroke="#000" stroke-width="1.15" stroke-linejoin="round"/>
<path d="M153.66,608.23 C155.08,608.07 158.69,611.06 161.21,612 C163.72,612.94 166.81,613.42 168.75,613.89 C170.7,614.36 170.39,614.52 172.91,614.83 C175.42,615.14 182.03,614.36 183.85,615.77 C185.67,617.19 185.67,622.38 183.85,623.32 C182.03,624.26 176.05,622.38 172.91,621.43 C169.76,620.49 167.56,618.76 164.98,617.66 C162.4,616.56 159.48,615.62 157.43,614.83 C155.39,614.04 153.35,614.04 152.72,612.94 C152.09,611.84 152.25,608.38 153.66,608.23Z" fill="#808080" stroke="#000" stroke-width="1.15" stroke-linejoin="round"/>
<path d="M144.23,647.85 C142.91,644.08 143.6,629.92 144.23,625.21 C144.86,620.49 146.74,620.96 148,619.55 C149.26,618.13 150.89,615.77 151.77,616.72 C152.65,617.66 153.22,621.84 153.28,625.21 C153.35,628.57 152.34,633.13 152.15,636.91 C151.96,640.68 153.47,646.03 152.15,647.85 C150.83,649.67 145.55,651.62 144.23,647.85Z" fill="#808080" stroke="#000" stroke-width="1.15" stroke-linejoin="round"/>
<path d="M115.26,517.8V637.1 M53.3,590.11H172.6" stroke="#ff7f0e" stroke-width="1" fill="none"/>
<rect x="112.06" y="586.91" width="6.4" height="6.4" fill="#ff7f0e"/>
</g>
<path d="M66.49,637.1v-4.6 M66.49,517.8v4.6 M92.72,637.1v-4.6 M92.72,517.8v4.6 M118.94,637.1v-4.6 M118.94,517.8v4.6 M145.17,637.1v-4.6 M145.17,517.8v4.6 M53.3,534.64h4.6 M172.6,534.64h-4.6 M53.3,560.11h4.6 M172.6,560.11h-4.6 M53.3,585.77h4.6 M172.6,585.77h-4.6 M53.3,611.43h4.6 M172.6,611.43h-4.6" stroke="#000" stroke-width="1.26" fill="none"/>
<rect x="53.3" y="517.8" width="119.3" height="119.3" fill="none" stroke="#000" stroke-width="1.4"/>
<g clip-path="url(#c10)">
<path d="M211.3,281.75h0.01 M286.21,318.55h0.01 M284.32,321.38h0.01 M286.21,326.09h0.01 M288.09,326.09h0.01 M291.87,345.91h0.01 M188.09,317.6h0.01" stroke="#000" stroke-opacity="0.5" stroke-width="1.12" stroke-linecap="round" fill="none"/>
<path d="M198.47,253.45 C186.52,255.72 198.94,263.89 198.47,267.04 C198,270.18 196.9,269.87 195.64,272.32 C194.38,274.77 191.55,278.3 190.92,281.75 C190.3,285.21 191.55,289.3 191.87,293.08 C192.18,296.85 192.97,300.62 192.81,304.4 C192.65,308.17 191.08,311.94 190.92,315.72 C190.77,319.49 191.55,323.58 191.87,327.04 C192.18,330.5 193.13,333.33 192.81,336.47 C192.5,339.62 190.61,342.76 189.98,345.91 C189.35,349.05 189.35,351.88 189.04,355.34 C188.72,358.8 188.57,363.67 188.09,366.66 C187.62,369.65 187.84,371.69 186.21,373.26 C184.57,374.84 181.74,375.47 178.28,376.09 C174.82,376.72 167.59,373.58 165.45,377.04 C163.31,380.5 149.1,393.55 165.45,396.85 C181.81,400.15 247.21,398.67 263.57,396.85 C279.92,395.03 263.25,388.26 263.57,385.91 C263.88,383.55 263.88,383.86 265.45,382.7 C267.03,381.53 270.48,380.97 273,378.92 C275.52,376.88 278.5,373.74 280.55,370.43 C282.59,367.13 284.38,363.52 285.26,359.11 C286.14,354.71 286.3,348.11 285.83,344.02 C285.36,339.93 283.47,337.73 282.43,334.58 C281.4,331.44 280.23,328.3 279.6,325.15 C278.97,322.01 278.5,319.18 278.66,315.72 C278.82,312.26 280.7,307.86 280.55,304.4 C280.39,300.94 278.66,298.11 277.72,294.96 C276.77,291.82 275.99,288.67 274.89,285.53 C273.79,282.38 271.9,279.18 271.11,276.09 C270.33,273.01 270.33,270.81 270.17,267.04 C270.01,263.26 282.12,255.72 270.17,253.45 C258.22,251.19 210.42,251.19 198.47,253.45Z" fill="#bfbfbf" stroke="#000" stroke-width="1.15" stroke-linejoin="round"/>
<path d="M225.83,253.45 C223.69,255.72 225.67,264.21 225.83,267.04 C225.99,269.87 226.14,269.4 226.77,270.43 C227.4,271.47 228.19,272.95 229.6,273.26 C231.02,273.58 233.85,272.95 235.26,272.32 C236.68,271.69 237.53,270.37 238.09,269.49 C238.66,268.61 238.57,269.71 238.66,267.04 C238.75,264.36 240.8,255.72 238.66,253.45 C236.52,251.19 227.97,251.19 225.83,253.45Z" fill="#ffffff" stroke="#000" stroke-width="1.15" stroke-linejoin="round"/>
<path d="M211.68,289.3 C214.04,287.57 217.18,287.26 220.17,286.47 C223.16,285.69 226.46,285.37 229.6,284.58 C232.75,283.8 236.21,282.48 239.04,281.75 C241.87,281.03 244.38,279.93 246.58,280.25 C248.79,280.56 250.36,282.29 252.25,283.64 C254.13,284.99 256.18,286.47 257.91,288.36 C259.64,290.25 261.52,292.29 262.62,294.96 C263.72,297.64 264.04,300.94 264.51,304.4 C264.98,307.86 265.14,311.94 265.45,315.72 C265.77,319.49 266.08,323.58 266.4,327.04 C266.71,330.5 266.71,333.33 267.34,336.47 C267.97,339.62 269.38,342.76 270.17,345.91 C270.96,349.05 272.06,352.19 272.06,355.34 C272.06,358.48 271.27,361.94 270.17,364.77 C269.07,367.6 267.18,370.12 265.45,372.32 C263.72,374.52 261.68,376.41 259.79,377.98 C257.91,379.55 255.7,380.43 254.13,381.75 C252.56,383.08 251.14,383.39 250.36,385.91 C249.57,388.42 257.28,395.03 249.42,396.85 C241.55,398.67 211.05,398.67 203.19,396.85 C195.33,395.03 202.87,389.36 202.25,385.91 C201.62,382.45 200.04,379.62 199.42,376.09 C198.79,372.57 198.47,368.55 198.47,364.77 C198.47,361 198.94,357.23 199.42,353.45 C199.89,349.68 200.83,345.91 201.3,342.13 C201.77,338.36 202.25,334.58 202.25,330.81 C202.25,327.04 201.14,323.26 201.3,319.49 C201.46,315.72 202.4,311.94 203.19,308.17 C203.97,304.4 204.6,299.99 206.02,296.85 C207.43,293.7 209.32,291.03 211.68,289.3Z" fill="#808080" stroke="#000" stroke-width="1.15" stroke-linejoin="round"/>
<path d="M231.49,305.34 C232.91,304.24 235.42,303.77 237.15,303.45 C238.88,303.14 240.61,302.82 241.87,303.45 C243.13,304.08 243.75,305.97 244.7,307.23 C245.64,308.48 247.21,309.27 247.53,311 C247.84,312.73 246.43,315.25 246.58,317.6 C246.74,319.96 247.53,322.64 248.47,325.15 C249.42,327.67 250.99,330.18 252.25,332.7 C253.5,335.21 254.92,337.42 256.02,340.25 C257.12,343.08 258.38,346.53 258.85,349.68 C259.32,352.82 259.32,356.28 258.85,359.11 C258.38,361.94 257.43,364.3 256.02,366.66 C254.6,369.02 252.56,371.38 250.36,373.26 C248.16,375.15 245.33,376.72 242.81,377.98 C240.3,379.24 237.78,380.18 235.26,380.81 C232.75,381.44 230.23,382.07 227.72,381.75 C225.2,381.44 222.53,380.18 220.17,378.92 C217.81,377.67 215.2,376.25 213.57,374.21 C211.93,372.16 210.67,369.49 210.36,366.66 C210.04,363.83 210.99,360.69 211.68,357.23 C212.37,353.77 213.57,349.68 214.51,345.91 C215.45,342.13 216.08,338.04 217.34,334.58 C218.6,331.13 220.48,327.98 222.06,325.15 C223.63,322.32 225.67,320.12 226.77,317.6 C227.87,315.09 227.87,312.1 228.66,310.06 C229.45,308.01 230.08,306.44 231.49,305.34Z" fill="#000000" stroke="#000" stroke-width="1.15" stroke-linejoin="round"/>
<path d="M234.13,267.2V386.5 M178.42,348.92H297.72" stroke="#ff7f0e" stroke-width="1" fill="none"/>
<rect x="230.93" y="345.72" width="6.4" height="6.4" fill="#ff7f0e"/>
</g>
<path d="M196.02,386.5v-4.6 M196.02,267.2v4.6 M220.17,386.5v-4.6 M220.17,267.2v4.6 M244.13,386.5v-4.6 M244.13,267.2v4.6 M268.28,386.5v-4.6 M268.28,267.2v4.6 M292.43,386.5v-4.6 M292.43,267.2v4.6 M178.42,277.6h4.6 M297.72,277.6h-4.6 M178.42,304.02h4.6 M297.72,304.02h-4.6 M178.42,330.43h4.6 M297.72,330.43h-4.6 M178.42,356.66h4.6 M297.72,356.66h-4.6 M178.42,383.08h4.6 M297.72,383.08h-4.6" stroke="#000" stroke-width="1.26" fill="none"/>
<rect x="178.42" y="267.2" width="119.3" height="119.3" fill="none" stroke="#000" stroke-width="1.4"/>
<g clip-path="url(#c11)">
<path d="M181.49,415.25h0.01 M284.32,403.92h0.01 M286.21,406.75h0.01 M291.87,436h0.01 M278.66,501.09h0.01 M274.89,504.87h0.01 M189.04,501.09h0.01" stroke="#000" stroke-opacity="0.5" stroke-width="1.12" stroke-linecap="round" fill="none"/>
<path d="M191.87,378.45 C177.87,380.72 192.34,388.26 191.87,392.04 C191.4,395.81 189.73,398.01 189.04,401.09 C188.35,404.18 187.81,407.38 187.72,410.53 C187.62,413.67 188.57,416.82 188.47,419.96 C188.38,423.11 187.91,426.63 187.15,429.4 C186.4,432.16 183.63,434.05 183.94,436.57 C184.26,439.08 187.56,441.91 189.04,444.49 C190.52,447.07 192.34,449.21 192.81,452.04 C193.28,454.87 191.87,458.33 191.87,461.47 C191.87,464.62 192.81,467.76 192.81,470.91 C192.81,474.05 192.18,477.19 191.87,480.34 C191.55,483.48 190.45,486.63 190.92,489.77 C191.4,492.92 192.97,496.38 194.7,499.21 C196.43,502.04 199.73,504.81 201.3,506.75 C202.87,508.7 203.5,508.39 204.13,510.91 C204.76,513.42 195.33,520.03 205.08,521.85 C214.82,523.67 252.87,523.67 262.62,521.85 C272.37,520.03 262.78,513.42 263.57,510.91 C264.35,508.39 265.45,508.7 267.34,506.75 C269.23,504.81 272.84,501.72 274.89,499.21 C276.93,496.69 278.5,494.81 279.6,491.66 C280.7,488.52 281.33,483.8 281.49,480.34 C281.65,476.88 280.77,474.05 280.55,470.91 C280.33,467.76 279.86,464.62 280.17,461.47 C280.48,458.33 281.49,454.55 282.43,452.04 C283.38,449.52 285.36,448.58 285.83,446.38 C286.3,444.18 285.67,441.66 285.26,438.83 C284.86,436 283.85,432.54 283.38,429.4 C282.91,426.25 282.91,423.11 282.43,419.96 C281.96,416.82 281.18,413.67 280.55,410.53 C279.92,407.38 279.45,404.18 278.66,401.09 C277.87,398.01 276.3,395.81 275.83,392.04 C275.36,388.26 289.82,380.72 275.83,378.45 C261.84,376.19 205.86,376.19 191.87,378.45Z" fill="#bfbfbf" stroke="#000" stroke-width="1.15" stroke-linejoin="round"/>
<path d="M206.02,378.45 C197.37,380.72 205.86,387.95 205.08,392.04 C204.29,396.13 202.09,399.27 201.3,402.98 C200.52,406.69 200.36,410.53 200.36,414.3 C200.36,418.08 200.83,421.85 201.3,425.62 C201.77,429.4 202.56,433.17 203.19,436.94 C203.82,440.72 204.92,444.49 205.08,448.26 C205.23,452.04 204.45,455.81 204.13,459.58 C203.82,463.36 203.03,467.13 203.19,470.91 C203.35,474.68 204.13,478.77 205.08,482.23 C206.02,485.69 207.28,488.83 208.85,491.66 C210.42,494.49 212.31,497.16 214.51,499.21 C216.71,501.25 219.54,502.92 222.06,503.92 C224.57,504.93 226.77,505.25 229.6,505.25 C232.43,505.25 235.89,504.46 239.04,503.92 C242.18,503.39 245.33,503.14 248.47,502.04 C251.62,500.94 255.23,499.36 257.91,497.32 C260.58,495.28 263,492.6 264.51,489.77 C266.02,486.94 266.65,483.8 266.96,480.34 C267.28,476.88 266.65,472.79 266.4,469.02 C266.14,465.25 265.67,461.47 265.45,457.7 C265.23,453.92 264.92,450.15 265.08,446.38 C265.23,442.6 266.33,438.83 266.4,435.06 C266.46,431.28 265.77,427.19 265.45,423.74 C265.14,420.28 264.98,417.76 264.51,414.3 C264.04,410.84 263.72,406.69 262.62,402.98 C261.52,399.27 258.85,396.13 257.91,392.04 C256.96,387.95 265.61,380.72 256.96,378.45 C248.31,376.19 214.67,376.19 206.02,378.45Z" fill="#808080" stroke="#000" stroke-width="1.15" stroke-linejoin="round"/>
<path d="M223,378.45 C220.33,380.72 223,388.26 222.06,392.04 C221.11,395.81 218.44,398.01 217.34,401.09 C216.24,404.18 215.77,406.75 215.45,410.53 C215.14,414.3 215.55,419.65 215.45,423.74 C215.36,427.82 214.79,431.28 214.89,435.06 C214.98,438.83 215.61,442.6 216.02,446.38 C216.43,450.15 217.12,453.92 217.34,457.7 C217.56,461.47 217.25,465.56 217.34,469.02 C217.43,472.48 217.28,475.62 217.91,478.45 C218.53,481.28 219.48,483.96 221.11,486 C222.75,488.04 225.36,489.84 227.72,490.72 C230.08,491.6 232.75,491.5 235.26,491.28 C237.78,491.06 240.3,490.28 242.81,489.4 C245.33,488.52 248.47,487.51 250.36,486 C252.25,484.49 253.35,482.54 254.13,480.34 C254.92,478.14 255.23,475.94 255.08,472.79 C254.92,469.65 253.82,465.25 253.19,461.47 C252.56,457.7 251.46,453.92 251.3,450.15 C251.14,446.38 251.93,442.6 252.25,438.83 C252.56,435.06 253.13,431.28 253.19,427.51 C253.25,423.74 253.09,419.96 252.62,416.19 C252.15,412.42 251.68,408.17 250.36,404.87 C249.04,401.57 246.58,398.52 244.7,396.38 C242.81,394.24 240.14,395.03 239.04,392.04 C237.94,389.05 240.77,380.72 238.09,378.45 C235.42,376.19 225.67,376.19 223,378.45Z" fill="#000000" stroke="#000" stroke-width="1.15" stroke-linejoin="round"/>
<path d="M234.13,392.5V511.8 M178.42,443.92H297.72" stroke="#ff7f0e" stroke-width="1" fill="none"/>
<rect x="230.93" y="440.72" width="6.4" height="6.4" fill="#ff7f0e"/>
</g>
<path d="M196.02,511.8v-4.6 M196.02,392.5v4.6 M220.17,511.8v-4.6 M220.17,392.5v4.6 M244.13,511.8v-4.6 M244.13,392.5v4.6 M268.28,511.8v-4.6 M268.28,392.5v4.6 M292.43,511.8v-4.6 M292.43,392.5v4.6 M178.42,402.98h4.6 M297.72,402.98h-4.6 M178.42,427.13h4.6 M297.72,427.13h-4.6 M178.42,451.47h4.6 M297.72,451.47h-4.6 M178.42,475.62h4.6 M297.72,475.62h-4.6 M178.42,499.77h4.6 M297.72,499.77h-4.6" stroke="#000" stroke-width="1.26" fill="none"/>
<rect x="178.42" y="392.5" width="119.3" height="119.3" fill="none" stroke="#000" stroke-width="1.4"/>
<g clip-path="url(#c12)">
<path d="M270.17,524.26h0.01 M275.83,522.38h0.01 M286.21,586.53h0.01 M291.87,595.02h0.01 M181.49,623.32h0.01 M284.32,629.92h0.01 M189.98,530.87h0.01" stroke="#000" stroke-opacity="0.5" stroke-width="1.12" stroke-linecap="round" fill="none"/>
<path d="M205.08,504.45 C195.96,506.65 205.39,513.89 204.13,517.66 C202.87,521.43 199.42,523.64 197.53,527.09 C195.64,530.55 193.75,534.64 192.81,538.42 C191.87,542.19 191.87,546.28 191.87,549.74 C191.87,553.19 192.97,556.03 192.81,559.17 C192.65,562.31 191.08,565.46 190.92,568.6 C190.77,571.75 192.18,574.89 191.87,578.04 C191.55,581.18 189.98,584.96 189.04,587.47 C188.09,589.99 186.21,590.93 186.21,593.13 C186.21,595.33 188.72,598.16 189.04,600.68 C189.35,603.19 189.35,606.03 188.09,608.23 C186.84,610.43 182.12,612.16 181.49,613.89 C180.86,615.62 183.22,617.03 184.32,618.6 C185.42,620.18 187.21,621.28 188.09,623.32 C188.97,625.36 189.13,628.67 189.6,630.87 C190.08,633.07 190.7,633.7 190.92,636.53 C191.14,639.36 175.67,645.96 190.92,647.85 C206.18,649.74 267.18,649.74 282.43,647.85 C297.69,645.96 282.28,639.67 282.43,636.53 C282.59,633.38 283.38,631.81 283.38,628.98 C283.38,626.15 282.43,622.69 282.43,619.55 C282.43,616.4 283.06,613.26 283.38,610.11 C283.69,606.97 283.91,603.82 284.32,600.68 C284.73,597.53 285.99,594.39 285.83,591.25 C285.67,588.1 284.1,584.96 283.38,581.81 C282.65,578.67 281.71,575.52 281.49,572.38 C281.27,569.23 282.21,566.09 282.06,562.94 C281.9,559.8 281.27,556.65 280.55,553.51 C279.82,550.36 278.97,547.22 277.72,544.08 C276.46,540.93 275.04,537.79 273,534.64 C270.96,531.5 267.65,527.57 265.45,525.21 C263.25,522.85 260.89,521.75 259.79,520.49 C258.69,519.23 259.01,520.33 258.85,517.66 C258.69,514.99 267.81,506.65 258.85,504.45 C249.89,502.25 214.19,502.25 205.08,504.45Z" fill="#bfbfbf" stroke="#000" stroke-width="1.15" stroke-linejoin="round"/>
<path d="M200.36,647.85 C189.82,645.96 200.2,640.3 200.36,636.53 C200.52,632.75 201.14,628.98 201.3,625.21 C201.46,621.43 201.3,617.66 201.3,613.89 C201.3,610.11 200.99,606.34 201.3,602.57 C201.62,598.79 202.72,595.02 203.19,591.25 C203.66,587.47 204.29,583.7 204.13,579.92 C203.97,576.15 202.25,572.38 202.25,568.6 C202.25,564.83 203.35,561.06 204.13,557.28 C204.92,553.51 205.7,549.58 206.96,545.96 C208.22,542.35 209.79,538.42 211.68,535.58 C213.57,532.75 215.61,530.46 218.28,528.98 C220.96,527.5 224.57,526.97 227.72,526.72 C230.86,526.47 234.01,526.94 237.15,527.47 C240.3,528.01 243.44,528.73 246.58,529.92 C249.73,531.12 253.5,532.75 256.02,534.64 C258.53,536.53 260.11,538.73 261.68,541.25 C263.25,543.76 264.67,546.75 265.45,549.74 C266.24,552.72 266.4,555.71 266.4,559.17 C266.4,562.63 265.45,566.72 265.45,570.49 C265.45,574.26 266.4,578.04 266.4,581.81 C266.4,585.58 265.92,589.36 265.45,593.13 C264.98,596.91 263.72,600.68 263.57,604.45 C263.41,608.23 264.35,612 264.51,615.77 C264.67,619.55 264.67,623.64 264.51,627.09 C264.35,630.55 263.72,633.07 263.57,636.53 C263.41,639.99 274.1,645.96 263.57,647.85 C253.03,649.74 210.89,649.74 200.36,647.85Z" fill="#808080" stroke="#000" stroke-width="1.15" stroke-linejoin="round"/>
<path d="M214.89,647.85 C208.6,645.96 214.79,640.3 214.89,636.53 C214.98,632.75 215.2,628.98 215.45,625.21 C215.7,621.43 216.08,617.66 216.4,613.89 C216.71,610.11 217.18,606.34 217.34,602.57 C217.5,598.79 217.5,594.7 217.34,591.25 C217.18,587.79 216.49,584.96 216.4,581.81 C216.3,578.67 216.46,575.52 216.77,572.38 C217.09,569.23 217.56,566.09 218.28,562.94 C219.01,559.8 219.86,556.34 221.11,553.51 C222.37,550.68 224.1,547.69 225.83,545.96 C227.56,544.23 229.6,543.38 231.49,543.13 C233.38,542.88 234.95,543.67 237.15,544.45 C239.35,545.24 242.5,546.5 244.7,547.85 C246.9,549.2 248.94,550.36 250.36,552.57 C251.77,554.77 252.87,557.75 253.19,561.06 C253.5,564.36 252.56,568.6 252.25,572.38 C251.93,576.15 251.62,579.92 251.3,583.7 C250.99,587.47 250.45,591.25 250.36,595.02 C250.26,598.79 250.48,602.57 250.74,606.34 C250.99,610.11 251.62,613.89 251.87,617.66 C252.12,621.43 252.12,625.84 252.25,628.98 C252.37,632.13 252.56,633.38 252.62,636.53 C252.69,639.67 258.91,645.96 252.62,647.85 C246.33,649.74 221.18,649.74 214.89,647.85Z" fill="#000000" stroke="#000" stroke-width="1.15" stroke-linejoin="round"/>
<path d="M234.13,517.8V637.1 M178.42,590.11H297.72" stroke="#ff7f0e" stroke-width="1" fill="none"/>
<rect x="230.93" y="586.91" width="6.4" height="6.4" fill="#ff7f0e"/>
</g>
<path d="M196.02,637.1v-4.6 M196.02,517.8v4.6 M220.17,637.1v-4.6 M220.17,517.8v4.6 M244.13,637.1v-4.6 M244.13,517.8v4.6 M268.28,637.1v-4.6 M268.28,517.8v4.6 M292.43,637.1v-4.6 M292.43,517.8v4.6 M178.42,534.64h4.6 M297.72,534.64h-4.6 M178.42,560.11h4.6 M297.72,560.11h-4.6 M178.42,585.77h4.6 M297.72,585.77h-4.6 M178.42,611.43h4.6 M297.72,611.43h-4.6" stroke="#000" stroke-width="1.26" fill="none"/>
<rect x="178.42" y="517.8" width="119.3" height="119.3" fill="none" stroke="#000" stroke-width="1.4"/>
<g clip-path="url(#c13)">
<path d="M416.87,490.72h0.01" stroke="#000" stroke-opacity="0.5" stroke-width="1.12" stroke-linecap="round" fill="none"/>
<path d="M290.45,378.45 C314.35,354.55 409.95,354.55 433.85,378.45 C457.75,402.35 457.75,497.95 433.85,521.85 C409.95,545.75 314.35,545.75 290.45,521.85 C266.55,497.95 266.55,402.35 290.45,378.45Z" fill="#bfbfbf" stroke="#000" stroke-width="1.15" stroke-linejoin="round"/>
<path d="M379.13,378.45 C370.01,380.72 378.5,389.36 379.13,392.04 C379.76,394.71 381.65,393.92 382.91,394.49 C384.16,395.06 385.11,394.49 386.68,395.43 C388.25,396.38 390.14,398.26 392.34,400.15 C394.54,402.04 397.37,404.4 399.89,406.75 C402.4,409.11 405.23,412.26 407.43,414.3 C409.64,416.35 411.21,417.92 413.09,419.02 C414.98,420.12 417.03,420.43 418.75,420.91 C420.48,421.38 420.96,421.63 423.47,421.85 C425.99,422.07 432.12,429.46 433.85,422.23 C435.58,414.99 442.97,385.75 433.85,378.45 C424.73,371.16 388.25,376.19 379.13,378.45Z" fill="#ffffff" stroke="#000" stroke-width="1.15" stroke-linejoin="round"/>
<path d="M433.85,447.32 C432.12,443.7 426.14,447.16 423.47,447.32 C420.8,447.48 419.38,447.48 417.81,448.26 C416.24,449.05 414.82,450.78 414.04,452.04 C413.25,453.3 413.09,454.55 413.09,455.81 C413.09,457.07 413.09,458.01 414.04,459.58 C414.98,461.16 417.18,463.67 418.75,465.25 C420.33,466.82 420.96,468.39 423.47,469.02 C425.99,469.65 432.12,472.64 433.85,469.02 C435.58,465.4 435.58,450.94 433.85,447.32Z" fill="#ffffff" stroke="#000" stroke-width="1.15" stroke-linejoin="round"/>
<path d="M433.85,485.06 C432.12,478.92 426.3,484.74 423.47,485.06 C420.64,485.37 419.23,486.16 416.87,486.94 C414.51,487.73 412.15,488.52 409.32,489.77 C406.49,491.03 403.03,493.08 399.89,494.49 C396.74,495.91 393.6,497.01 390.45,498.26 C387.31,499.52 384.16,501.09 381.02,502.04 C377.87,502.98 374.42,503.3 371.58,503.92 C368.75,504.55 366.08,505.03 364.04,505.81 C361.99,506.6 360.26,507.79 359.32,508.64 C358.38,509.49 358.6,508.7 358.38,510.91 C358.16,513.11 345.42,520.03 358,521.85 C370.58,523.67 421.21,527.98 433.85,521.85 C446.49,515.72 435.58,491.19 433.85,485.06Z" fill="#ffffff" stroke="#000" stroke-width="1.15" stroke-linejoin="round"/>
<path d="M290.45,502.98 C292.65,499.99 300.83,503.45 303.66,503.92 C306.49,504.4 306.49,504.65 307.43,505.81 C308.38,506.97 308.94,508.23 309.32,510.91 C309.7,513.58 312.84,520.03 309.7,521.85 C306.55,523.67 293.66,524.99 290.45,521.85 C287.25,518.7 288.25,505.97 290.45,502.98Z" fill="#ffffff" stroke="#000" stroke-width="1.15" stroke-linejoin="round"/>
<path d="M290.45,378.45 C301.62,363.36 346.11,375.94 357.43,378.45 C368.75,380.97 356.96,390.56 358.38,393.55 C359.79,396.53 362.78,395.28 365.92,396.38 C369.07,397.48 373.79,398.74 377.25,400.15 C380.7,401.57 383.85,403.14 386.68,404.87 C389.51,406.6 392.03,408.33 394.23,410.53 C396.43,412.73 398.63,415.25 399.89,418.08 C401.14,420.91 401.46,424.05 401.77,427.51 C402.09,430.97 401.93,435.06 401.77,438.83 C401.62,442.6 400.83,446.38 400.83,450.15 C400.83,453.92 401.46,458.01 401.77,461.47 C402.09,464.93 403.03,468.08 402.72,470.91 C402.4,473.74 401.62,475.94 399.89,478.45 C398.16,480.97 394.86,483.8 392.34,486 C389.82,488.2 386.99,490.25 384.79,491.66 C382.59,493.08 381.65,493.7 379.13,494.49 C376.62,495.28 372.53,495.91 369.7,496.38 C366.87,496.85 364.67,496.85 362.15,497.32 C359.64,497.79 357.12,498.52 354.6,499.21 C352.09,499.9 349.57,500.91 347.06,501.47 C344.54,502.04 342.03,502.1 339.51,502.6 C336.99,503.11 334.48,504.05 331.96,504.49 C329.45,504.93 326.93,505.65 324.42,505.25 C321.9,504.84 319.07,503.67 316.87,502.04 C314.67,500.4 312.78,497.79 311.21,495.43 C309.64,493.08 308.31,490.72 307.43,487.89 C306.55,485.06 306.3,481.28 305.92,478.45 C305.55,475.62 305.55,472.48 305.17,470.91 C304.79,469.33 306.11,469.33 303.66,469.02 C301.21,468.7 292.65,484.11 290.45,469.02 C288.25,453.92 279.29,393.55 290.45,378.45Z" fill="#808080" stroke="#000" stroke-width="1.15" stroke-linejoin="round"/>
<path d="M304.6,410.53 C305.01,409.43 306.65,409.43 307.06,410.53 C307.47,411.63 307.47,416.03 307.06,417.13 C306.65,418.23 305.01,418.23 304.6,417.13 C304.19,416.03 304.19,411.63 304.6,410.53Z" fill="#bfbfbf" stroke="#000" stroke-width="1.15" stroke-linejoin="round"/>
<path d="M310.26,378.45 C305.39,380.72 310.89,388.26 311.21,392.04 C311.52,395.81 311.84,398.01 312.15,401.09 C312.47,404.18 313.09,407.38 313.09,410.53 C313.09,413.67 312.62,416.82 312.15,419.96 C311.68,423.11 310.58,426.25 310.26,429.4 C309.95,432.54 309.95,435.37 310.26,438.83 C310.58,442.29 311.68,446.38 312.15,450.15 C312.62,453.92 312.78,458.01 313.09,461.47 C313.41,464.93 313.72,467.76 314.04,470.91 C314.35,474.05 314.51,477.35 314.98,480.34 C315.45,483.33 315.3,486.31 316.87,488.83 C318.44,491.35 321.58,494.65 324.42,495.43 C327.25,496.22 330.7,494.18 333.85,493.55 C336.99,492.92 340.45,492.6 343.28,491.66 C346.11,490.72 348.31,489.46 350.83,487.89 C353.35,486.31 356.18,483.8 358.38,482.23 C360.58,480.65 361.84,478.92 364.04,478.45 C366.24,477.98 369.23,479.24 371.58,479.4 C373.94,479.55 376.68,480.5 378.19,479.4 C379.7,478.3 380.8,475.15 380.64,472.79 C380.48,470.43 378.75,467.13 377.25,465.25 C375.74,463.36 373.79,462.73 371.58,461.47 C369.38,460.21 366.08,459.58 364.04,457.7 C361.99,455.81 360.11,452.98 359.32,450.15 C358.53,447.32 358.85,443.86 359.32,440.72 C359.79,437.57 361.36,434.43 362.15,431.28 C362.94,428.14 363.41,424.68 364.04,421.85 C364.67,419.02 365.77,416.82 365.92,414.3 C366.08,411.79 366.24,408.8 364.98,406.75 C363.72,404.71 360.74,403.45 358.38,402.04 C356.02,400.62 353.35,399.52 350.83,398.26 C348.31,397.01 344.86,395.53 343.28,394.49 C341.71,393.45 341.87,394.71 341.4,392.04 C340.92,389.36 345.64,380.72 340.45,378.45 C335.26,376.19 315.14,376.19 310.26,378.45Z" fill="#000000" stroke="#000" stroke-width="1.15" stroke-linejoin="round"/>
<path d="M341.02,392.5V511.8 M303.54,443.92H422.84" stroke="#ff7f0e" stroke-width="1" fill="none"/>
<rect x="337.82" y="440.72" width="6.4" height="6.4" fill="#ff7f0e"/>
</g>
<path d="M306.49,511.8v-4.6 M306.49,392.5v4.6 M332.91,511.8v-4.6 M332.91,392.5v4.6 M359.32,511.8v-4.6 M359.32,392.5v4.6 M385.74,511.8v-4.6 M385.74,392.5v4.6 M412.15,511.8v-4.6 M412.15,392.5v4.6 M303.54,402.98h4.6 M422.84,402.98h-4.6 M303.54,427.13h4.6 M422.84,427.13h-4.6 M303.54,451.47h4.6 M422.84,451.47h-4.6 M303.54,475.62h4.6 M422.84,475.62h-4.6 M303.54,499.77h4.6 M422.84,499.77h-4.6" stroke="#000" stroke-width="1.26" fill="none"/>
<rect x="303.54" y="392.5" width="119.3" height="119.3" fill="none" stroke="#000" stroke-width="1.4"/>
<g clip-path="url(#c14)">
<path d="M416.87,557.28h0.01" stroke="#000" stroke-opacity="0.5" stroke-width="1.12" stroke-linecap="round" fill="none"/>
<path d="M290.45,504.45 C314.35,480.55 409.95,480.55 433.85,504.45 C457.75,528.35 457.75,623.95 433.85,647.85 C409.95,671.75 314.35,671.75 290.45,647.85 C266.55,623.95 266.55,528.35 290.45,504.45Z" fill="#bfbfbf" stroke="#000" stroke-width="1.15" stroke-linejoin="round"/>
<path d="M342.34,504.45 C327.25,506.65 342.18,514.83 343.28,517.66 C344.38,520.49 346.74,520.02 348.94,521.43 C351.14,522.85 353.97,524.74 356.49,526.15 C359.01,527.57 361.21,528.67 364.04,529.92 C366.87,531.18 370.33,532.44 373.47,533.7 C376.62,534.96 380.08,536.21 382.91,537.47 C385.74,538.73 387.94,539.67 390.45,541.25 C392.97,542.82 395.48,545.02 398,546.91 C400.52,548.79 403.03,550.84 405.55,552.57 C408.06,554.3 410.89,556.03 413.09,557.28 C415.3,558.54 417.03,559.55 418.75,560.11 C420.48,560.68 420.96,560.52 423.47,560.68 C425.99,560.84 432.12,570.43 433.85,561.06 C435.58,551.69 449.1,513.89 433.85,504.45 C418.6,495.02 357.43,502.25 342.34,504.45Z" fill="#ffffff" stroke="#000" stroke-width="1.15" stroke-linejoin="round"/>
<path d="M433.85,577.09 C432.12,572.53 425.83,576.94 423.47,577.09 C421.11,577.25 420.96,576.94 419.7,578.04 C418.44,579.14 416.87,581.5 415.92,583.7 C414.98,585.9 414.19,589.04 414.04,591.25 C413.88,593.45 414.19,595.02 414.98,596.91 C415.77,598.79 417.34,601.31 418.75,602.57 C420.17,603.82 420.96,604.14 423.47,604.45 C425.99,604.77 432.12,609.01 433.85,604.45 C435.58,599.89 435.58,581.65 433.85,577.09Z" fill="#ffffff" stroke="#000" stroke-width="1.15" stroke-linejoin="round"/>
<path d="M409.32,647.85 C405.23,645.96 409.01,639.2 409.32,636.53 C409.64,633.86 409.95,633.23 411.21,631.81 C412.47,630.4 414.82,628.82 416.87,628.04 C418.91,627.25 420.64,627.31 423.47,627.09 C426.3,626.87 432.12,623.26 433.85,626.72 C435.58,630.18 437.94,644.33 433.85,647.85 C429.76,651.37 413.41,649.74 409.32,647.85Z" fill="#ffffff" stroke="#000" stroke-width="1.15" stroke-linejoin="round"/>
<path d="M290.45,560.11 C292.65,545.49 300.83,560.27 303.66,560.11 C306.49,559.96 306.65,560.9 307.43,559.17 C308.22,557.44 308.06,552.88 308.38,549.74 C308.69,546.59 308.69,543.13 309.32,540.3 C309.95,537.47 310.89,534.96 312.15,532.75 C313.41,530.55 315.14,528.51 316.87,527.09 C318.6,525.68 320.48,524.42 322.53,524.26 C324.57,524.11 326.93,525.52 329.13,526.15 C331.33,526.78 333.38,527.41 335.74,528.04 C338.09,528.67 340.77,528.98 343.28,529.92 C345.8,530.87 348.31,532.28 350.83,533.7 C353.35,535.11 355.86,537 358.38,538.42 C360.89,539.83 363.41,541.09 365.92,542.19 C368.44,543.29 370.96,543.92 373.47,545.02 C375.99,546.12 378.82,547.38 381.02,548.79 C383.22,550.21 384.79,551.94 386.68,553.51 C388.57,555.08 390.45,556.5 392.34,558.23 C394.23,559.96 396.49,561.84 398,563.89 C399.51,565.93 400.61,567.82 401.4,570.49 C402.18,573.16 402.65,576.78 402.72,579.92 C402.78,583.07 402.09,586.21 401.77,589.36 C401.46,592.5 401.14,595.65 400.83,598.79 C400.52,601.94 399.73,605.08 399.89,608.23 C400.04,611.37 401.62,614.83 401.77,617.66 C401.93,620.49 401.77,622.69 400.83,625.21 C399.89,627.72 397.21,630.87 396.11,632.75 C395.01,634.64 394.6,634.01 394.23,636.53 C393.85,639.04 411.14,645.96 393.85,647.85 C376.55,649.74 307.69,662.47 290.45,647.85 C273.22,633.23 288.25,574.74 290.45,560.11Z" fill="#808080" stroke="#000" stroke-width="1.15" stroke-linejoin="round"/>
<path d="M304.6,610.11 C305.01,608.54 306.65,608.54 307.06,610.11 C307.47,611.69 307.47,617.97 307.06,619.55 C306.65,621.12 305.01,621.12 304.6,619.55 C304.19,617.97 304.19,611.69 304.6,610.11Z" fill="#bfbfbf" stroke="#000" stroke-width="1.15" stroke-linejoin="round"/>
<path d="M311.21,647.85 C301.08,645.96 311.14,640.3 311.21,636.53 C311.27,632.75 311.33,628.98 311.58,625.21 C311.84,621.43 312.72,617.66 312.72,613.89 C312.72,610.11 311.99,606.34 311.58,602.57 C311.18,598.79 310.26,595.02 310.26,591.25 C310.26,587.47 311.18,583.7 311.58,579.92 C311.99,576.15 312.21,572.38 312.72,568.6 C313.22,564.83 314.16,561.06 314.6,557.28 C315.04,553.51 314.98,549.11 315.36,545.96 C315.74,542.82 315.52,540.36 316.87,538.42 C318.22,536.47 321.27,534.58 323.47,534.26 C325.67,533.95 327.72,535.68 330.08,536.53 C332.43,537.38 335.11,538.26 337.62,539.36 C340.14,540.46 342.81,541.56 345.17,543.13 C347.53,544.7 349.89,546.91 351.77,548.79 C353.66,550.68 354.92,552.57 356.49,554.45 C358.06,556.34 359.64,558.86 361.21,560.11 C362.78,561.37 363.88,561.91 365.92,562 C367.97,562.09 371.27,560.68 373.47,560.68 C375.67,560.68 378.25,560.84 379.13,562 C380.01,563.16 379.7,566.09 378.75,567.66 C377.81,569.23 375.3,570.33 373.47,571.43 C371.65,572.53 369.7,573.32 367.81,574.26 C365.92,575.21 363.66,575.84 362.15,577.09 C360.64,578.35 359.45,579.45 358.75,581.81 C358.06,584.17 357.91,588.1 358,591.25 C358.09,594.39 358.79,597.53 359.32,600.68 C359.86,603.82 360.42,606.97 361.21,610.11 C361.99,613.26 362.94,616.72 364.04,619.55 C365.14,622.38 366.71,624.89 367.81,627.09 C368.91,629.3 370.01,631.18 370.64,632.75 C371.27,634.33 371.36,634.01 371.58,636.53 C371.81,639.04 382.03,645.96 371.96,647.85 C361.9,649.74 321.33,649.74 311.21,647.85Z" fill="#000000" stroke="#000" stroke-width="1.15" stroke-linejoin="round"/>
<path d="M341.02,517.8V637.1 M303.54,590.11H422.84" stroke="#ff7f0e" stroke-width="1" fill="none"/>
<rect x="337.82" y="586.91" width="6.4" height="6.4" fill="#ff7f0e"/>
</g>
<path d="M306.49,637.1v-4.6 M306.49,517.8v4.6 M332.91,637.1v-4.6 M332.91,517.8v4.6 M359.32,637.1v-4.6 M359.32,517.8v4.6 M385.74,637.1v-4.6 M385.74,517.8v4.6 M412.15,637.1v-4.6 M412.15,517.8v4.6 M303.54,534.64h4.6 M422.84,534.64h-4.6 M303.54,560.11h4.6 M422.84,560.11h-4.6 M303.54,585.77h4.6 M422.84,585.77h-4.6 M303.54,611.43h4.6 M422.84,611.43h-4.6" stroke="#000" stroke-width="1.26" fill="none"/>
<rect x="303.54" y="517.8" width="119.3" height="119.3" fill="none" stroke="#000" stroke-width="1.4"/>
<g clip-path="url(#c15)">
<path d="M415.45,504.45 C420.8,498.16 441.24,502.25 447.53,504.45 C453.82,506.65 450.99,514.2 453.19,517.66 C455.39,521.12 457.91,522.38 460.74,525.21 C463.57,528.04 467.03,531.5 470.17,534.64 C473.31,537.79 476.46,540.93 479.6,544.08 C482.75,547.22 486.21,550.74 489.04,553.51 C491.87,556.28 493.44,557.47 496.58,560.68 C499.73,563.89 504.45,569.08 507.91,572.75 C511.36,576.43 514.19,579.52 517.34,582.75 C520.48,585.99 523.63,589.2 526.77,592.19 C529.92,595.18 533.38,598.07 536.21,600.68 C539.04,603.29 541.71,606.12 543.75,607.85 C545.8,609.58 545.96,609.11 548.47,611.06 C550.99,613.01 557.12,613.42 558.85,619.55 C560.58,625.68 566.4,643.13 558.85,647.85 C551.3,652.57 522.21,649.74 513.57,647.85 C504.92,645.96 508.85,639.3 506.96,636.53 C505.08,633.76 503.97,633.13 502.25,631.25 C500.52,629.36 498.79,627.63 496.58,625.21 C494.38,622.79 491.87,620.02 489.04,616.72 C486.21,613.42 482.75,609.01 479.6,605.4 C476.46,601.78 473.31,598.48 470.17,595.02 C467.03,591.56 463.88,588.26 460.74,584.64 C457.59,581.03 454.45,577.19 451.3,573.32 C448.16,569.45 444.86,564.89 441.87,561.43 C438.88,557.97 435.58,554.67 433.38,552.57 C431.18,550.46 431.65,550.52 428.66,548.79 C425.67,547.06 417.65,549.58 415.45,542.19 C413.25,534.8 410.11,510.74 415.45,504.45Z" fill="#bfbfbf" stroke="#000" stroke-width="1.15" stroke-linejoin="round"/>
<path d="M436.58,534.64 C436.46,532.85 436.84,531.87 437.72,530.87 C438.6,529.86 440.08,528.86 441.87,528.6 C443.66,528.35 446.27,528.51 448.47,529.36 C450.67,530.21 453.03,532.19 455.08,533.7 C457.12,535.21 458.22,536.21 460.74,538.42 C463.25,540.62 467.03,544.08 470.17,546.91 C473.31,549.74 476.46,552.57 479.6,555.4 C482.75,558.23 486.21,561.37 489.04,563.89 C491.87,566.4 493.44,567.35 496.58,570.49 C499.73,573.64 504.45,579.14 507.91,582.75 C511.36,586.37 514.19,588.95 517.34,592.19 C520.48,595.43 523.63,599.04 526.77,602.19 C529.92,605.33 533.38,608.54 536.21,611.06 C539.04,613.57 541.71,615.81 543.75,617.28 C545.8,618.76 545.96,618.29 548.47,619.92 C550.99,621.56 557.12,622.44 558.85,627.09 C560.58,631.75 564.67,644.39 558.85,647.85 C553.03,651.31 530.86,649.74 523.94,647.85 C517.03,645.96 519.32,639.36 517.34,636.53 C515.36,633.7 514.19,633.07 512.06,630.87 C509.92,628.67 507.09,626.09 504.51,623.32 C501.93,620.55 499.16,617.16 496.58,614.26 C494.01,611.37 491.87,609.08 489.04,605.96 C486.21,602.85 482.43,598.76 479.6,595.58 C476.77,592.41 474.57,589.89 472.06,586.91 C469.54,583.92 467.03,580.77 464.51,577.66 C461.99,574.55 459.48,571.37 456.96,568.23 C454.45,565.08 451.77,561.87 449.42,558.79 C447.06,555.71 444.64,552.6 442.81,549.74 C440.99,546.87 439.51,544.14 438.47,541.62 C437.43,539.11 436.71,536.43 436.58,534.64Z" fill="#808080" stroke="#000" stroke-width="1.15" stroke-linejoin="round"/>
<path d="M448.09,543.13 C448.22,541.94 448.57,540.84 449.42,540.3 C450.26,539.77 451.3,539.14 453.19,539.92 C455.08,540.71 457.91,542.75 460.74,545.02 C463.57,547.28 467.03,550.68 470.17,553.51 C473.31,556.34 476.46,559.01 479.6,562 C482.75,564.99 486.21,568.6 489.04,571.43 C491.87,574.26 493.44,575.93 496.58,578.98 C499.73,582.03 504.45,586.43 507.91,589.74 C511.36,593.04 514.19,595.71 517.34,598.79 C520.48,601.87 523.63,605.24 526.77,608.23 C529.92,611.21 533.38,614.26 536.21,616.72 C539.04,619.17 541.71,621.43 543.75,622.94 C545.8,624.45 545.96,624.14 548.47,625.77 C550.99,627.41 557.12,629.08 558.85,632.75 C560.58,636.43 562.62,645.33 558.85,647.85 C555.08,650.36 541.4,649.74 536.21,647.85 C531.02,645.96 529.92,639.3 527.72,636.53 C525.52,633.76 525.04,633.38 523,631.25 C520.96,629.11 518.28,626.59 515.45,623.7 C512.62,620.81 509.16,617.41 506.02,613.89 C502.87,610.36 499.42,605.81 496.58,602.57 C493.75,599.33 491.55,597.13 489.04,594.45 C486.52,591.78 484.01,589.2 481.49,586.53 C478.97,583.86 476.46,581.09 473.94,578.42 C471.43,575.74 468.91,573.23 466.4,570.49 C463.88,567.75 461.21,564.77 458.85,562 C456.49,559.23 453.94,556.31 452.25,553.89 C450.55,551.47 449.35,549.26 448.66,547.47 C447.97,545.68 447.97,544.33 448.09,543.13Z" fill="#000000" stroke="#000" stroke-width="1.15" stroke-linejoin="round"/>
<path d="M496.4,517.8V637.1 M428.66,590.11H547.96" stroke="#ff7f0e" stroke-width="1" fill="none"/>
<rect x="493.2" y="586.91" width="6.4" height="6.4" fill="#ff7f0e"/>
</g>
<path d="M440.55,637.1v-4.6 M440.55,517.8v4.6 M464.7,637.1v-4.6 M464.7,517.8v4.6 M489.04,637.1v-4.6 M489.04,517.8v4.6 M513.19,637.1v-4.6 M513.19,517.8v4.6 M537.53,637.1v-4.6 M537.53,517.8v4.6 M428.66,534.64h4.6 M547.96,534.64h-4.6 M428.66,560.11h4.6 M547.96,560.11h-4.6 M428.66,585.77h4.6 M547.96,585.77h-4.6 M428.66,611.43h4.6 M547.96,611.43h-4.6" stroke="#000" stroke-width="1.26" fill="none"/>
<rect x="428.66" y="517.8" width="119.3" height="119.3" fill="none" stroke="#000" stroke-width="1.4"/>
<text x="71.63" y="11.2" font-size="9.95" class="t">gmin = 57.0</text>
<text x="133.53" y="7.42" font-size="6.77" class="t">+29.3</text>
<text x="133.53" y="13.89" font-size="6.77" class="t">−29.5</text>
<text x="211.45" y="136.5" font-size="9.95" class="t">p = 3.8</text>
<text x="248.26" y="132.72" font-size="6.77" class="t">+0.1</text>
<text x="248.26" y="139.19" font-size="6.77" class="t">−0.1</text>
<text x="317.12" y="261.8" font-size="9.95" class="t">log(B[G]) = 6.2</text>
<text x="392.83" y="258.02" font-size="6.77" class="t">+0.6</text>
<text x="392.83" y="264.49" font-size="6.77" class="t">−0.4</text>
<text x="435.3" y="387.1" font-size="9.95" class="t">log(R[cm]) = 13.9</text>
<text x="524.89" y="383.32" font-size="6.77" class="t">+1.0</text>
<text x="524.89" y="389.79" font-size="6.77" class="t">−1.1</text>
<text x="554.17" y="512.4" font-size="9.95" class="t">log(N[cm</text>
<text x="599.7" y="508.62" font-size="6.77" class="t">−3</text>
<text x="609.68" y="512.4" font-size="9.95" class="t">]) = −5.4</text>
<text x="656.26" y="508.62" font-size="6.77" class="t">+3.2</text>
<text x="656.26" y="515.09" font-size="6.77" class="t">−3.1</text>
<text transform="translate(65.79,650.59) rotate(-45)" x="-9.16" y="5.25" font-size="14.4" class="t">20</text>
<text transform="translate(92.02,650.59) rotate(-45)" x="-9.16" y="5.25" font-size="14.4" class="t">40</text>
<text transform="translate(118.24,650.59) rotate(-45)" x="-9.16" y="5.25" font-size="14.4" class="t">60</text>
<text transform="translate(144.47,650.59) rotate(-45)" x="-9.16" y="5.25" font-size="14.4" class="t">80</text>
<text x="94.17" y="683" font-size="14.9" class="t">gmin</text>
<text transform="translate(195.32,655.45) rotate(-45)" x="-16.03" y="5.25" font-size="14.4" class="t">3.60</text>
<text transform="translate(219.47,655.45) rotate(-45)" x="-16.03" y="5.25" font-size="14.4" class="t">3.75</text>
<text transform="translate(243.43,655.45) rotate(-45)" x="-16.03" y="5.25" font-size="14.4" class="t">3.90</text>
<text transform="translate(267.58,655.45) rotate(-45)" x="-16.03" y="5.25" font-size="14.4" class="t">4.05</text>
<text transform="translate(291.73,655.45) rotate(-45)" x="-16.03" y="5.25" font-size="14.4" class="t">4.20</text>
<text x="233.34" y="683" font-size="14.9" class="t">p</text>
<text transform="translate(305.79,652.21) rotate(-45)" x="-11.45" y="5.25" font-size="14.4" class="t">5.5</text>
<text transform="translate(332.21,652.21) rotate(-45)" x="-11.45" y="5.25" font-size="14.4" class="t">6.0</text>
<text transform="translate(358.62,652.21) rotate(-45)" x="-11.45" y="5.25" font-size="14.4" class="t">6.5</text>
<text transform="translate(385.04,652.21) rotate(-45)" x="-11.45" y="5.25" font-size="14.4" class="t">7.0</text>
<text transform="translate(411.45,652.21) rotate(-45)" x="-11.45" y="5.25" font-size="14.4" class="t">7.5</text>
<text x="329.32" y="683" font-size="14.9" class="t">log(B[G])</text>
<text transform="translate(439.85,655.45) rotate(-45)" x="-16.03" y="5.25" font-size="14.4" class="t">12.0</text>
<text transform="translate(464,655.45) rotate(-45)" x="-16.03" y="5.25" font-size="14.4" class="t">12.8</text>
<text transform="translate(488.34,655.45) rotate(-45)" x="-16.03" y="5.25" font-size="14.4" class="t">13.6</text>
<text transform="translate(512.49,655.45) rotate(-45)" x="-16.03" y="5.25" font-size="14.4" class="t">14.4</text>
<text transform="translate(536.83,655.45) rotate(-45)" x="-16.03" y="5.25" font-size="14.4" class="t">15.2</text>
<text x="448.8" y="683" font-size="14.9" class="t">log(R[cm])</text>
<text transform="translate(579.05,656.47) rotate(-45)" x="-17.48" y="5.25" font-size="14.4" class="t">−7.5</text>
<text transform="translate(604.72,656.47) rotate(-45)" x="-17.48" y="5.25" font-size="14.4" class="t">−5.0</text>
<text transform="translate(630.28,656.47) rotate(-45)" x="-17.48" y="5.25" font-size="14.4" class="t">−2.5</text>
<text transform="translate(655.85,652.21) rotate(-45)" x="-11.45" y="5.25" font-size="14.4" class="t">0.0</text>
<text x="565.83" y="685" font-size="14.9" class="t">log(N[cm</text>
<text x="634.03" y="679.34" font-size="10.43" class="t">−3</text>
<text x="649.4" y="685" font-size="14.9" class="t">])</text>
<text transform="translate(32.25,158.55) rotate(-45)" x="-16.03" y="5.25" font-size="14.4" class="t">4.20</text>
<text transform="translate(32.25,182.51) rotate(-45)" x="-16.03" y="5.25" font-size="14.4" class="t">4.05</text>
<text transform="translate(32.25,206.28) rotate(-45)" x="-16.03" y="5.25" font-size="14.4" class="t">3.90</text>
<text transform="translate(32.25,230.05) rotate(-45)" x="-16.03" y="5.25" font-size="14.4" class="t">3.75</text>
<text transform="translate(32.25,254.02) rotate(-45)" x="-16.03" y="5.25" font-size="14.4" class="t">3.60</text>
<g transform="translate(14.7,201.55) rotate(-90)">
<text x="-4.73" y="0" font-size="14.9" class="t">p</text>
</g>
<text transform="translate(35.49,285.21) rotate(-45)" x="-11.45" y="5.25" font-size="14.4" class="t">7.5</text>
<text transform="translate(35.49,311.63) rotate(-45)" x="-11.45" y="5.25" font-size="14.4" class="t">7.0</text>
<text transform="translate(35.49,338.04) rotate(-45)" x="-11.45" y="5.25" font-size="14.4" class="t">6.5</text>
<text transform="translate(35.49,364.27) rotate(-45)" x="-11.45" y="5.25" font-size="14.4" class="t">6.0</text>
<text transform="translate(35.49,390.68) rotate(-45)" x="-11.45" y="5.25" font-size="14.4" class="t">5.5</text>
<g transform="translate(14.7,326.85) rotate(-90)">
<text x="-33.87" y="0" font-size="14.9" class="t">log(B[G])</text>
</g>
<text transform="translate(32.25,413.83) rotate(-45)" x="-16.03" y="5.25" font-size="14.4" class="t">15.2</text>
<text transform="translate(32.25,437.98) rotate(-45)" x="-16.03" y="5.25" font-size="14.4" class="t">14.4</text>
<text transform="translate(32.25,462.32) rotate(-45)" x="-16.03" y="5.25" font-size="14.4" class="t">13.6</text>
<text transform="translate(32.25,486.47) rotate(-45)" x="-16.03" y="5.25" font-size="14.4" class="t">12.8</text>
<text transform="translate(32.25,510.62) rotate(-45)" x="-16.03" y="5.25" font-size="14.4" class="t">12.0</text>
<g transform="translate(14.7,452.15) rotate(-90)">
<text x="-39.51" y="0" font-size="14.9" class="t">log(R[cm])</text>
</g>
<text transform="translate(35.49,542.25) rotate(-45)" x="-11.45" y="5.25" font-size="14.4" class="t">0.0</text>
<text transform="translate(31.23,571.99) rotate(-45)" x="-17.48" y="5.25" font-size="14.4" class="t">−2.5</text>
<text transform="translate(31.23,597.65) rotate(-45)" x="-17.48" y="5.25" font-size="14.4" class="t">−5.0</text>
<text transform="translate(31.23,623.31) rotate(-45)" x="-17.48" y="5.25" font-size="14.4" class="t">−7.5</text>
<g transform="translate(14.7,577.45) rotate(-90)">
<text x="-47.6" y="0" font-size="14.9" class="t">log(N[cm</text>
<text x="20.6" y="-5.66" font-size="10.43" class="t">−3</text>
<text x="35.97" y="0" font-size="14.9" class="t">])</text>
</g>
<g clip-path="url(#c16)">
<path d="M761.8,164.1 V143.98 H769.14 V138.87 H776.48 V134.22 H783.82 V127.72 H791.16 V124.24 H798.5 V118.43 H805.84 V111 H813.18 V104.5 H820.52 V94.05 H827.86 V89.4 H835.2 V84.06 H842.54 V78.49 H849.88 V77.1 H857.22 V69.2 H864.56 V57.59 H871.9 V55.73 H879.24 V47.61 H886.58 V41.8 H893.92 V35.99 H901.26 V30.65 H908.6 V164.1" fill="none" stroke="#1a1a1a" stroke-width="1.4" stroke-linejoin="miter"/>
<line x1="812.13" y1="17.3" x2="812.13" y2="164.1" stroke="#000" stroke-width="1.16" stroke-dasharray="3.57 1.47"/>
<line x1="895.03" y1="17.3" x2="895.03" y2="164.1" stroke="#000" stroke-width="1.16" stroke-dasharray="3.57 1.47"/>
<line x1="861.24" y1="17.3" x2="861.24" y2="164.1" stroke="#ff7f0e" stroke-width="1.2"/>
</g>
<path d="M790.99,164.1v-5.9 M790.99,17.3v5.9 M820.49,164.1v-5.9 M820.49,17.3v5.9 M849.75,164.1v-5.9 M849.75,17.3v5.9 M879.24,164.1v-5.9 M879.24,17.3v5.9" stroke="#000" stroke-width="1.4" fill="none"/>
<rect x="761.8" y="17.3" width="146.8" height="146.8" fill="none" stroke="#000" stroke-width="1.55"/>
<g clip-path="url(#c17)">
<path d="M916,318.4 V317.8 H923.34 V315.48 H930.68 V307.12 H938.02 V285.75 H945.36 V246.74 H952.7 V201.46 H960.04 V184.74 H967.38 V195.89 H974.72 V227 H982.06 V257.89 H989.4 V281.11 H996.74 V299.22 H1004.08 V307.82 H1011.42 V313.62 H1018.76 V316.64 H1026.1 V317.57 H1033.44 V318.27 H1040.78 V318.27 H1048.12 V318.27 H1055.46 V318.27 H1062.8 V318.4" fill="none" stroke="#1a1a1a" stroke-width="1.4" stroke-linejoin="miter"/>
<line x1="952.43" y1="171.6" x2="952.43" y2="318.4" stroke="#000" stroke-width="1.16" stroke-dasharray="3.57 1.47"/>
<line x1="983.78" y1="171.6" x2="983.78" y2="318.4" stroke="#000" stroke-width="1.16" stroke-dasharray="3.57 1.47"/>
<line x1="967.06" y1="171.6" x2="967.06" y2="318.4" stroke="#ff7f0e" stroke-width="1.2"/>
</g>
<path d="M947.32,318.4v-5.9 M947.32,171.6v5.9 M981.45,318.4v-5.9 M981.45,171.6v5.9 M1015.82,318.4v-5.9 M1015.82,171.6v5.9 M1049.96,318.4v-5.9 M1049.96,171.6v5.9" stroke="#000" stroke-width="1.4" fill="none"/>
<rect x="916" y="171.6" width="146.8" height="146.8" fill="none" stroke="#000" stroke-width="1.55"/>
<g clip-path="url(#c18)">
<path d="M1070.2,472.7 V470.94 H1077.54 V466.76 H1084.88 V452.83 H1092.22 V426.82 H1099.56 V405.92 H1106.9 V376.43 H1114.24 V352.05 H1121.58 V339.27 H1128.92 V346.71 H1136.26 V361.8 H1143.6 V376.89 H1150.94 V389.67 H1158.28 V408.24 H1165.62 V420.55 H1172.96 V433.79 H1180.3 V441.92 H1187.64 V448.88 H1194.98 V461.65 H1202.32 V467.46 H1209.66 V471.41 H1217 V472.7" fill="none" stroke="#1a1a1a" stroke-width="1.4" stroke-linejoin="miter"/>
<line x1="1110.37" y1="325.9" x2="1110.37" y2="472.7" stroke="#000" stroke-width="1.16" stroke-dasharray="3.57 1.47"/>
<line x1="1162.85" y1="325.9" x2="1162.85" y2="472.7" stroke="#000" stroke-width="1.16" stroke-dasharray="3.57 1.47"/>
<line x1="1132.67" y1="325.9" x2="1132.67" y2="472.7" stroke="#ff7f0e" stroke-width="1.2"/>
</g>
<path d="M1070.43,472.7v-5.9 M1070.43,325.9v5.9 M1102.94,472.7v-5.9 M1102.94,325.9v5.9 M1135.45,472.7v-5.9 M1135.45,325.9v5.9 M1167.96,472.7v-5.9 M1167.96,325.9v5.9 M1200.47,472.7v-5.9 M1200.47,325.9v5.9" stroke="#000" stroke-width="1.4" fill="none"/>
<rect x="1070.2" y="325.9" width="146.8" height="146.8" fill="none" stroke="#000" stroke-width="1.55"/>
<g clip-path="url(#c19)">
<path d="M1224.4,627 V625.41 H1231.74 V621.46 H1239.08 V616.82 H1246.42 V601.72 H1253.76 V595.22 H1261.1 V584.3 H1268.44 V568.05 H1275.78 V551.79 H1283.12 V534.38 H1290.46 V518.12 H1297.8 V504.19 H1305.14 V493.74 H1312.48 V502.33 H1319.82 V522.3 H1327.16 V548.78 H1334.5 V573.85 H1341.84 V592.43 H1349.18 V613.33 H1356.52 V622.62 H1363.86 V626.1 H1371.2 V627" fill="none" stroke="#1a1a1a" stroke-width="1.4" stroke-linejoin="miter"/>
<line x1="1276.22" y1="480.2" x2="1276.22" y2="627" stroke="#000" stroke-width="1.16" stroke-dasharray="3.57 1.47"/>
<line x1="1327.54" y1="480.2" x2="1327.54" y2="627" stroke="#000" stroke-width="1.16" stroke-dasharray="3.57 1.47"/>
<line x1="1304.31" y1="480.2" x2="1304.31" y2="627" stroke="#ff7f0e" stroke-width="1.2"/>
</g>
<path d="M1246.72,627v-5.9 M1246.72,480.2v5.9 M1279.24,627v-5.9 M1279.24,480.2v5.9 M1311.75,627v-5.9 M1311.75,480.2v5.9 M1344.26,627v-5.9 M1344.26,480.2v5.9" stroke="#000" stroke-width="1.4" fill="none"/>
<rect x="1224.4" y="480.2" width="146.8" height="146.8" fill="none" stroke="#000" stroke-width="1.55"/>
<g clip-path="url(#c20)">
<path d="M767.77,184.74h0.01 M771.26,189.38h0.01 M777.06,191.71h0.01 M768.93,190.54h0.01 M804.93,188.22h0.01 M806.09,192.87h0.01 M797.96,196.35h0.01 M815.38,203.32h0.01 M825.83,200.99h0.01 M839.76,200.99h0.01 M852.53,207.96h0.01 M858.34,213.77h0.01 M856.02,199.83h0.01 M883.88,207.96h0.01 M888.53,212.61h0.01 M893.17,213.77h0.01 M904.78,214.93h0.01 M766.61,296.9h0.01 M833.96,185.9h0.01 M871.11,188.22h0.01" stroke="#000" stroke-opacity="0.5" stroke-width="1.24" stroke-linecap="round" fill="none"/>
<path d="M745.71,196.35 C748.42,180.48 757.71,195.58 761.97,195.19 C766.22,194.8 768.16,194.03 771.26,194.03 C774.35,194.03 777.45,194.41 780.54,195.19 C783.64,195.96 786.35,197.51 789.83,198.67 C793.32,199.83 797.57,200.99 801.44,202.16 C805.31,203.32 809.18,204.67 813.06,205.64 C816.93,206.61 820.8,206.99 824.67,207.96 C828.54,208.93 832.41,210.4 836.28,211.44 C840.15,212.49 844.02,213.53 847.89,214.23 C851.76,214.93 855.63,214.85 859.5,215.62 C863.37,216.4 867.24,218.1 871.11,218.88 C874.98,219.65 878.85,220.04 882.72,220.27 C886.59,220.5 890.85,220 894.33,220.27 C897.82,220.54 901.22,221.51 903.62,221.89 C906.02,222.28 905.63,222.2 908.73,222.59 C911.83,222.98 919.95,205.95 922.2,224.22 C924.44,242.48 934,314.2 922.2,332.2 C910.39,350.2 863.29,334.52 851.37,332.2 C839.45,329.88 850.87,321.17 850.67,318.27 C850.48,315.36 850.67,315.56 850.21,314.78 C849.75,314.01 850.21,314.01 847.89,313.62 C845.57,313.23 840.15,313.04 836.28,312.46 C832.41,311.88 828.54,311.11 824.67,310.14 C820.8,309.17 816.93,308.01 813.06,306.65 C809.18,305.3 805.31,303.36 801.44,302.01 C797.57,300.66 793.32,299.49 789.83,298.53 C786.35,297.56 783.64,297.17 780.54,296.2 C777.45,295.24 774.35,293.5 771.26,292.72 C768.16,291.95 766.22,291.95 761.97,291.56 C757.71,291.17 748.42,306.27 745.71,290.4 C743,274.53 743,212.22 745.71,196.35Z" fill="#bfbfbf" stroke="#000" stroke-width="1.25" stroke-linejoin="round"/>
<path d="M745.71,222.36 C748.42,215.97 757.32,222.05 761.97,221.89 C766.61,221.74 769.71,221.43 773.58,221.43 C777.45,221.43 781.32,221.62 785.19,221.89 C789.06,222.16 792.93,222.55 796.8,223.06 C800.67,223.56 804.54,224.33 808.41,224.91 C812.28,225.49 816.15,225.88 820.02,226.54 C823.89,227.2 827.76,228.09 831.63,228.86 C835.5,229.63 839.37,230.49 843.24,231.18 C847.11,231.88 850.98,232.46 854.85,233.04 C858.73,233.62 862.6,234.4 866.47,234.67 C870.34,234.94 874.21,234.55 878.08,234.67 C881.95,234.78 885.82,234.98 889.69,235.36 C893.56,235.75 898.13,236.6 901.3,236.99 C904.47,237.38 905.25,237.38 908.73,237.69 C912.21,237.99 919.95,226.89 922.2,238.85 C924.44,250.81 924.44,297.95 922.2,309.44 C919.95,320.94 913.37,308.36 908.73,307.82 C904.09,307.27 898.67,306.77 894.33,306.19 C890,305.61 886.59,304.91 882.72,304.33 C878.85,303.75 874.98,303.48 871.11,302.71 C867.24,301.93 863.37,300.77 859.5,299.69 C855.63,298.6 851.76,297.44 847.89,296.2 C844.02,294.97 840.15,293.61 836.28,292.26 C832.41,290.9 828.54,289.35 824.67,288.08 C820.8,286.8 816.93,285.95 813.06,284.59 C809.18,283.24 805.31,281.3 801.44,279.95 C797.57,278.59 793.32,277.63 789.83,276.47 C786.35,275.3 783.64,274.34 780.54,272.98 C777.45,271.63 774.35,269.69 771.26,268.34 C768.16,266.98 766.22,266.21 761.97,264.85 C757.71,263.5 748.42,267.29 745.71,260.21 C743,253.13 743,228.74 745.71,222.36Z" fill="#808080" stroke="#000" stroke-width="1.25" stroke-linejoin="round"/>
<path d="M802.14,255.57 C802.33,253.94 804.27,251.81 806.09,250.46 C807.91,249.1 809.96,248.13 813.06,247.44 C816.15,246.74 820.8,246.47 824.67,246.28 C828.54,246.08 832.41,246.2 836.28,246.28 C840.15,246.35 844.02,246.55 847.89,246.74 C851.76,246.94 855.63,247.21 859.5,247.44 C863.37,247.67 867.24,247.86 871.11,248.13 C874.98,248.41 878.85,248.79 882.72,249.06 C886.59,249.33 890,249.53 894.33,249.76 C898.67,249.99 904.09,250.26 908.73,250.46 C913.37,250.65 919.95,242.91 922.2,250.92 C924.44,258.93 924.44,290.79 922.2,298.53 C919.95,306.27 912.21,297.64 908.73,297.37 C905.25,297.09 904.47,297.21 901.3,296.9 C898.13,296.59 893.56,296.01 889.69,295.51 C885.82,295 881.95,294.54 878.08,293.88 C874.21,293.22 870.34,292.53 866.47,291.56 C862.6,290.59 858.73,289.24 854.85,288.08 C850.98,286.92 847.11,285.95 843.24,284.59 C839.37,283.24 835.5,281.69 831.63,279.95 C827.76,278.21 823.51,276.27 820.02,274.14 C816.54,272.01 813.25,269.5 810.73,267.18 C808.22,264.85 806.36,262.15 804.93,260.21 C803.5,258.28 801.95,257.19 802.14,255.57Z" fill="#000000" stroke="#000" stroke-width="1.25" stroke-linejoin="round"/>
<path d="M861.24,171.6V318.4 M761.8,267.41H908.6" stroke="#ff7f0e" stroke-width="1.2" fill="none"/>
<rect x="857.34" y="263.51" width="7.8" height="7.8" fill="#ff7f0e"/>
</g>
<path d="M790.99,318.4v-5.9 M790.99,171.6v5.9 M820.49,318.4v-5.9 M820.49,171.6v5.9 M849.75,318.4v-5.9 M849.75,171.6v5.9 M879.24,318.4v-5.9 M879.24,171.6v5.9 M761.8,184.74h5.9 M908.6,184.74h-5.9 M761.8,218.88h5.9 M908.6,218.88h-5.9 M761.8,252.78h5.9 M908.6,252.78h-5.9 M761.8,286.92h5.9 M908.6,286.92h-5.9" stroke="#000" stroke-width="1.4" fill="none"/>
<rect x="761.8" y="171.6" width="146.8" height="146.8" fill="none" stroke="#000" stroke-width="1.55"/>
<g clip-path="url(#c21)">
<path d="M879.93,372.95h0.01" stroke="#000" stroke-opacity="0.5" stroke-width="1.24" stroke-linecap="round" fill="none"/>
<path d="M745.71,310.71 C751.9,299.49 776.48,308.2 782.87,310.71 C789.25,313.23 782.87,322.32 784.03,325.81 C785.19,329.29 786.93,329.48 789.83,331.61 C792.74,333.74 797.57,336.26 801.44,338.58 C805.31,340.9 809.18,343.22 813.06,345.54 C816.93,347.87 820.8,350.19 824.67,352.51 C828.54,354.83 832.41,357.35 836.28,359.48 C840.15,361.61 844.02,363.54 847.89,365.28 C851.76,367.02 855.63,368.19 859.5,369.93 C863.37,371.67 867.24,374.18 871.11,375.73 C874.98,377.28 878.85,378.06 882.72,379.22 C886.59,380.38 890.85,381.65 894.33,382.7 C897.82,383.74 901.22,384.79 903.62,385.49 C906.02,386.18 905.63,386.18 908.73,386.88 C911.83,387.58 919.95,372.95 922.2,389.67 C924.44,406.39 928.58,470.94 922.2,487.2 C915.81,503.45 890.46,489.71 883.88,487.2 C877.3,484.68 883.3,475.39 882.72,472.1 C882.14,468.81 882.33,469.2 880.4,467.46 C878.46,465.72 874.59,463.78 871.11,461.65 C867.63,459.53 863.37,457.2 859.5,454.69 C855.63,452.17 851.76,449.27 847.89,446.56 C844.02,443.85 840.15,441.34 836.28,438.43 C832.41,435.53 828.54,432.24 824.67,429.14 C820.8,426.05 816.93,422.76 813.06,419.85 C809.18,416.95 805.31,414.82 801.44,411.73 C797.57,408.63 793.7,404.76 789.83,401.28 C785.96,397.79 781.71,393.92 778.22,390.83 C774.74,387.73 771.64,384.63 768.93,382.7 C766.22,380.76 765.84,379.99 761.97,379.22 C758.1,378.44 748.42,389.47 745.71,378.06 C743,366.64 739.52,321.94 745.71,310.71Z" fill="#bfbfbf" stroke="#000" stroke-width="1.25" stroke-linejoin="round"/>
<path d="M745.71,326.97 C748.42,322.13 758.1,331.22 761.97,332.77 C765.84,334.32 766.22,334.71 768.93,336.26 C771.64,337.8 774.74,339.93 778.22,342.06 C781.71,344.19 785.96,346.71 789.83,349.03 C793.7,351.35 797.57,353.67 801.44,355.99 C805.31,358.32 809.18,360.83 813.06,362.96 C816.93,365.09 820.8,366.83 824.67,368.77 C828.54,370.7 832.41,372.71 836.28,374.57 C840.15,376.43 844.02,378.36 847.89,379.91 C851.76,381.46 855.63,382.43 859.5,383.86 C863.37,385.29 867.24,386.96 871.11,388.51 C874.98,390.05 878.85,391.79 882.72,393.15 C886.59,394.5 890.85,395.59 894.33,396.63 C897.82,397.68 901.22,398.72 903.62,399.42 C906.02,400.12 905.63,400.12 908.73,400.81 C911.83,401.51 919.95,389.2 922.2,403.6 C924.44,418 924.71,473.27 922.2,487.2 C919.68,501.13 909.81,489.71 907.1,487.2 C904.4,484.68 906.52,475.39 905.94,472.1 C905.36,468.81 905.56,469.2 903.62,467.46 C901.69,465.72 897.82,463.78 894.33,461.65 C890.85,459.53 886.59,457.2 882.72,454.69 C878.85,452.17 874.98,449.27 871.11,446.56 C867.24,443.85 863.37,440.95 859.5,438.43 C855.63,435.92 851.76,433.98 847.89,431.47 C844.02,428.95 840.15,426.05 836.28,423.34 C832.41,420.63 828.54,418.11 824.67,415.21 C820.8,412.31 816.93,409.02 813.06,405.92 C809.18,402.83 805.31,399.92 801.44,396.63 C797.57,393.34 793.7,389.67 789.83,386.18 C785.96,382.7 781.71,378.83 778.22,375.73 C774.74,372.64 771.64,369.54 768.93,367.61 C766.22,365.67 765.84,365.09 761.97,364.12 C758.1,363.15 748.42,367.99 745.71,361.8 C743,355.61 743,331.8 745.71,326.97Z" fill="#808080" stroke="#000" stroke-width="1.25" stroke-linejoin="round"/>
<path d="M797.5,373.41 C797.88,372.25 799.63,371.4 801.44,371.09 C803.26,370.78 805.31,370.86 808.41,371.55 C811.51,372.25 816.15,373.88 820.02,375.27 C823.89,376.66 827.76,378.29 831.63,379.91 C835.5,381.54 839.37,383.2 843.24,385.02 C847.11,386.84 850.98,389.09 854.85,390.83 C858.73,392.57 862.6,393.92 866.47,395.47 C870.34,397.02 874.21,398.68 878.08,400.12 C881.95,401.55 885.82,402.9 889.69,404.06 C893.56,405.22 898.13,406.31 901.3,407.08 C904.47,407.86 905.25,408.13 908.73,408.71 C912.21,409.29 919.95,401.74 922.2,410.57 C924.44,419.39 924.44,453.72 922.2,461.65 C919.95,469.59 911.83,458.95 908.73,458.17 C905.63,457.4 906.02,457.98 903.62,457.01 C901.22,456.04 897.82,454.3 894.33,452.37 C890.85,450.43 886.59,447.91 882.72,445.4 C878.85,442.88 874.98,439.98 871.11,437.27 C867.24,434.56 863.37,431.85 859.5,429.14 C855.63,426.43 851.76,423.73 847.89,421.02 C844.02,418.31 840.15,415.79 836.28,412.89 C832.41,409.99 828.54,406.7 824.67,403.6 C820.8,400.5 816.34,397.21 813.06,394.31 C809.77,391.41 807.25,388.89 804.93,386.18 C802.61,383.47 800.36,380.18 799.12,378.06 C797.88,375.93 797.11,374.57 797.5,373.41Z" fill="#000000" stroke="#000" stroke-width="1.25" stroke-linejoin="round"/>
<path d="M861.24,325.9V472.7 M761.8,409.4H908.6" stroke="#ff7f0e" stroke-width="1.2" fill="none"/>
<rect x="857.34" y="405.5" width="7.8" height="7.8" fill="#ff7f0e"/>
</g>
<path d="M790.99,472.7v-5.9 M790.99,325.9v5.9 M820.49,472.7v-5.9 M820.49,325.9v5.9 M849.75,472.7v-5.9 M849.75,325.9v5.9 M879.24,472.7v-5.9 M879.24,325.9v5.9 M761.8,342.53h5.9 M908.6,342.53h-5.9 M761.8,374.57h5.9 M908.6,374.57h-5.9 M761.8,407.08h5.9 M908.6,407.08h-5.9 M761.8,439.59h5.9 M908.6,439.59h-5.9 M761.8,471.87h5.9 M908.6,471.87h-5.9" stroke="#000" stroke-width="1.4" fill="none"/>
<rect x="761.8" y="325.9" width="146.8" height="146.8" fill="none" stroke="#000" stroke-width="1.55"/>
<g clip-path="url(#c22)">
<path d="M880.4,585.47h0.01" stroke="#000" stroke-opacity="0.5" stroke-width="1.24" stroke-linecap="round" fill="none"/>
<path d="M745.71,583.14 C748.42,571.53 758.1,574.44 761.97,571.53 C765.84,568.63 766.22,568.05 768.93,565.73 C771.64,563.4 774.74,560.7 778.22,557.6 C781.71,554.5 785.96,550.63 789.83,547.15 C793.7,543.67 797.57,539.8 801.44,536.7 C805.31,533.6 809.18,531.28 813.06,528.57 C816.93,525.86 820.8,523.15 824.67,520.44 C828.54,517.73 832.41,515.03 836.28,512.32 C840.15,509.61 844.02,506.7 847.89,504.19 C851.76,501.67 855.63,499.54 859.5,497.22 C863.37,494.9 867.63,492.38 871.11,490.26 C874.59,488.13 878.08,486.11 880.4,484.45 C882.72,482.79 883.88,483.56 885.04,480.27 C886.2,476.98 881.17,467.3 887.37,464.71 C893.56,462.12 916.39,447.29 922.2,464.71 C928,482.13 924.44,551.21 922.2,569.21 C919.95,587.21 911.83,571.92 908.73,572.69 C905.63,573.47 906.02,573.08 903.62,573.85 C901.22,574.63 897.82,576.1 894.33,577.34 C890.85,578.58 886.59,579.93 882.72,581.29 C878.85,582.64 874.98,584 871.11,585.47 C867.24,586.94 863.37,588.56 859.5,590.11 C855.63,591.66 851.76,593.21 847.89,594.75 C844.02,596.3 840.15,597.66 836.28,599.4 C832.41,601.14 828.54,603.27 824.67,605.2 C820.8,607.14 816.93,609.07 813.06,611.01 C809.18,612.95 805.31,615.07 801.44,616.82 C797.57,618.56 792.35,619.83 789.83,621.46 C787.32,623.09 787.12,623.28 786.35,626.57 C785.58,629.86 791.96,638.76 785.19,641.2 C778.42,643.64 752.29,650.87 745.71,641.2 C739.13,631.52 743,594.75 745.71,583.14Z" fill="#bfbfbf" stroke="#000" stroke-width="1.25" stroke-linejoin="round"/>
<path d="M745.71,594.75 C748.42,588.76 758.1,588.56 761.97,586.63 C765.84,584.69 766.22,584.89 768.93,583.14 C771.64,581.4 774.74,578.89 778.22,576.18 C781.71,573.47 785.96,570.18 789.83,566.89 C793.7,563.6 797.57,559.73 801.44,556.44 C805.31,553.15 809.18,550.05 813.06,547.15 C816.93,544.25 820.8,541.73 824.67,539.02 C828.54,536.31 832.41,533.6 836.28,530.89 C840.15,528.18 844.02,525.28 847.89,522.77 C851.76,520.25 855.63,518.12 859.5,515.8 C863.37,513.48 867.24,511.35 871.11,508.83 C874.98,506.32 878.85,503.41 882.72,500.71 C886.59,498 890.85,494.9 894.33,492.58 C897.82,490.26 901.22,488.13 903.62,486.77 C906.02,485.42 905.63,485.8 908.73,484.45 C911.83,483.1 919.95,466.65 922.2,478.64 C924.44,490.64 924.44,542.89 922.2,556.44 C919.95,569.98 911.83,559.15 908.73,559.92 C905.63,560.7 906.02,560.5 903.62,561.08 C901.22,561.66 897.82,562.51 894.33,563.4 C890.85,564.3 886.59,565.26 882.72,566.42 C878.85,567.58 874.98,568.94 871.11,570.37 C867.24,571.8 863.37,573.47 859.5,575.02 C855.63,576.56 851.76,577.92 847.89,579.66 C844.02,581.4 840.15,583.53 836.28,585.47 C832.41,587.4 828.54,589.34 824.67,591.27 C820.8,593.21 816.93,595.14 813.06,597.08 C809.18,599.01 805.31,601.02 801.44,602.88 C797.57,604.74 793.7,606.56 789.83,608.22 C785.96,609.89 781.71,611.44 778.22,612.87 C774.74,614.3 771.64,615.77 768.93,616.82 C766.22,617.86 765.84,618.17 761.97,619.14 C758.1,620.11 748.42,626.69 745.71,622.62 C743,618.56 743,600.75 745.71,594.75Z" fill="#808080" stroke="#000" stroke-width="1.25" stroke-linejoin="round"/>
<path d="M796.34,578.5 C796.34,576.84 798.66,575.4 801.44,572.69 C804.23,569.98 809.18,565.73 813.06,562.24 C816.93,558.76 820.8,555.08 824.67,551.79 C828.54,548.5 832.41,545.6 836.28,542.51 C840.15,539.41 844.02,536.12 847.89,533.22 C851.76,530.31 855.63,527.8 859.5,525.09 C863.37,522.38 867.24,519.67 871.11,516.96 C874.98,514.25 878.85,511.35 882.72,508.83 C886.59,506.32 890.85,503.61 894.33,501.87 C897.82,500.12 901.22,499.16 903.62,498.38 C906.02,497.61 905.63,497.8 908.73,497.22 C911.83,496.64 919.95,487.35 922.2,494.9 C924.44,502.45 924.44,533.91 922.2,542.51 C919.95,551.1 911.83,545.56 908.73,546.45 C905.63,547.34 906.02,547.07 903.62,547.85 C901.22,548.62 897.82,549.86 894.33,551.1 C890.85,552.34 886.59,553.88 882.72,555.28 C878.85,556.67 874.98,558.1 871.11,559.46 C867.24,560.81 863.37,561.97 859.5,563.4 C855.63,564.84 851.76,566.5 847.89,568.05 C844.02,569.6 840.15,571.15 836.28,572.69 C832.41,574.24 828.54,575.91 824.67,577.34 C820.8,578.77 816.93,580.4 813.06,581.29 C809.18,582.18 804.23,583.14 801.44,582.68 C798.66,582.21 796.34,580.16 796.34,578.5Z" fill="#000000" stroke="#000" stroke-width="1.25" stroke-linejoin="round"/>
<path d="M861.24,480.2V627 M761.8,546.45H908.6" stroke="#ff7f0e" stroke-width="1.2" fill="none"/>
<rect x="857.34" y="542.55" width="7.8" height="7.8" fill="#ff7f0e"/>
</g>
<path d="M790.99,627v-5.9 M790.99,480.2v5.9 M820.49,627v-5.9 M820.49,480.2v5.9 M849.75,627v-5.9 M849.75,480.2v5.9 M879.24,627v-5.9 M879.24,480.2v5.9 M761.8,506.98h5.9 M908.6,506.98h-5.9 M761.8,539.02h5.9 M908.6,539.02h-5.9 M761.8,571.53h5.9 M908.6,571.53h-5.9 M761.8,603.58h5.9 M908.6,603.58h-5.9" stroke="#000" stroke-width="1.4" fill="none"/>
<rect x="761.8" y="480.2" width="146.8" height="146.8" fill="none" stroke="#000" stroke-width="1.55"/>
<g clip-path="url(#c23)">
<path d="M936.87,350.19h0.01 M1040.2,335.09h0.01 M1044.85,331.61h0.01 M1048.33,336.26h0.01 M1050.65,340.9h0.01 M1047.17,362.96h0.01 M1041.37,365.28h0.01 M1033.24,381.54h0.01 M1034.4,387.34h0.01 M1022.79,438.43h0.01 M1010.02,447.72h0.01 M918.29,459.33h0.01" stroke="#000" stroke-opacity="0.5" stroke-width="1.24" stroke-linecap="round" fill="none"/>
<path d="M971.7,310.71 C962.41,313.23 971.31,322.52 970.54,325.81 C969.76,329.1 969.18,328.71 967.06,330.45 C964.93,332.19 960.86,333.93 957.77,336.26 C954.67,338.58 951.19,341.48 948.48,344.38 C945.77,347.29 943.45,350.38 941.51,353.67 C939.58,356.96 938.61,360.83 936.87,364.12 C935.12,367.41 933,370.12 931.06,373.41 C929.13,376.7 926.8,380.76 925.26,383.86 C923.71,386.96 922.93,389.67 921.77,391.99 C920.61,394.31 919.26,396.63 918.29,397.79 C917.32,398.96 919.06,398.57 915.97,398.96 C912.87,399.34 902.42,391.79 899.71,400.12 C897,408.44 897,440.56 899.71,448.88 C902.42,457.2 912.68,449.08 915.97,450.04 C919.26,451.01 918.29,452.75 919.45,454.69 C920.61,456.62 921.58,459.33 922.93,461.65 C924.29,463.98 926.42,466.88 927.58,468.62 C928.74,470.36 929.32,469.01 929.9,472.1 C930.48,475.2 921.19,484.68 931.06,487.2 C940.93,489.71 979.25,489.71 989.12,487.2 C998.99,484.68 989.31,475.59 990.28,472.1 C991.24,468.62 993.18,468.43 994.92,466.3 C996.66,464.17 998.99,462.04 1000.73,459.33 C1002.47,456.62 1004.71,453.53 1005.37,450.04 C1006.03,446.56 1004.29,442.3 1004.67,438.43 C1005.06,434.56 1006.22,430.69 1007.69,426.82 C1009.16,422.95 1011.56,419.08 1013.5,415.21 C1015.43,411.34 1017.37,407.47 1019.3,403.6 C1021.24,399.73 1023.37,395.86 1025.11,391.99 C1026.85,388.12 1028.21,384.25 1029.75,380.38 C1031.3,376.51 1032.85,372.64 1034.4,368.77 C1035.95,364.9 1037.69,360.64 1039.04,357.16 C1040.4,353.67 1042.14,350.77 1042.53,347.87 C1042.91,344.96 1042.53,342.25 1041.37,339.74 C1040.2,337.22 1037.5,334.71 1035.56,332.77 C1033.63,330.84 1031.11,329.29 1029.75,328.13 C1028.4,326.97 1028.01,328.71 1027.43,325.81 C1026.85,322.9 1035.56,313.23 1026.27,310.71 C1016.98,308.2 980.99,308.2 971.7,310.71Z" fill="#bfbfbf" stroke="#000" stroke-width="1.25" stroke-linejoin="round"/>
<path d="M928.74,417.53 C929.51,413.28 929.9,410.18 931.06,405.92 C932.22,401.66 933.77,396.63 935.71,391.99 C937.64,387.34 939.96,382.7 942.67,378.06 C945.38,373.41 948.67,368.38 951.96,364.12 C955.25,359.86 958.73,355.8 962.41,352.51 C966.09,349.22 970.15,346.32 974.02,344.38 C977.89,342.45 981.76,341.67 985.63,340.9 C989.5,340.13 993.76,339.55 997.24,339.74 C1000.73,339.93 1003.82,340.71 1006.53,342.06 C1009.24,343.42 1011.95,345.35 1013.5,347.87 C1015.05,350.38 1015.63,353.67 1015.82,357.16 C1016.01,360.64 1015.24,364.9 1014.66,368.77 C1014.08,372.64 1013.31,376.51 1012.34,380.38 C1011.37,384.25 1010.02,388.12 1008.85,391.99 C1007.69,395.86 1006.53,399.73 1005.37,403.6 C1004.21,407.47 1003.05,411.34 1001.89,415.21 C1000.73,419.08 999.76,422.95 998.4,426.82 C997.05,430.69 995.5,434.56 993.76,438.43 C992.02,442.3 990.47,446.75 987.96,450.04 C985.44,453.33 982.15,456.16 978.67,458.17 C975.18,460.18 970.93,461.34 967.06,462.12 C963.18,462.89 959.31,463.28 955.44,462.82 C951.57,462.35 947.32,461.07 943.83,459.33 C940.35,457.59 937.06,455.07 934.54,452.37 C932.03,449.66 930.09,446.56 928.74,443.08 C927.38,439.59 926.42,435.72 926.42,431.47 C926.42,427.21 927.96,421.79 928.74,417.53Z" fill="#808080" stroke="#000" stroke-width="1.25" stroke-linejoin="round"/>
<path d="M939.19,422.18 C939.69,418.31 941.12,412.5 942.67,408.24 C944.22,403.99 945.96,400.7 948.48,396.63 C950.99,392.57 954.67,387.54 957.77,383.86 C960.86,380.18 963.57,377.09 967.06,374.57 C970.54,372.06 975.38,369.35 978.67,368.77 C981.96,368.19 984.78,369.35 986.79,371.09 C988.81,372.83 989.89,376.12 990.74,379.22 C991.59,382.31 991.98,385.99 991.9,389.67 C991.83,393.34 991.13,397.41 990.28,401.28 C989.43,405.15 988.15,409.02 986.79,412.89 C985.44,416.76 983.89,420.63 982.15,424.5 C980.41,428.37 978.47,432.82 976.34,436.11 C974.22,439.4 972.09,442.11 969.38,444.24 C966.67,446.37 963.18,448.3 960.09,448.88 C956.99,449.46 953.51,449.08 950.8,447.72 C948.09,446.37 945.69,443.46 943.83,440.75 C941.98,438.05 940.43,434.56 939.65,431.47 C938.88,428.37 938.69,426.05 939.19,422.18Z" fill="#000000" stroke="#000" stroke-width="1.25" stroke-linejoin="round"/>
<path d="M967.06,325.9V472.7 M916,409.4H1062.8" stroke="#ff7f0e" stroke-width="1.2" fill="none"/>
<rect x="963.16" y="405.5" width="7.8" height="7.8" fill="#ff7f0e"/>
</g>
<path d="M947.32,472.7v-5.9 M947.32,325.9v5.9 M981.45,472.7v-5.9 M981.45,325.9v5.9 M1015.82,472.7v-5.9 M1015.82,325.9v5.9 M1049.96,472.7v-5.9 M1049.96,325.9v5.9 M916,342.53h5.9 M1062.8,342.53h-5.9 M916,374.57h5.9 M1062.8,374.57h-5.9 M916,407.08h5.9 M1062.8,407.08h-5.9 M916,439.59h5.9 M1062.8,439.59h-5.9 M916,471.87h5.9 M1062.8,471.87h-5.9" stroke="#000" stroke-width="1.4" fill="none"/>
<rect x="916" y="325.9" width="146.8" height="146.8" fill="none" stroke="#000" stroke-width="1.55"/>
<g clip-path="url(#c24)">
<path d="M1010.02,501.87h0.01 M1014.66,534.38h0.01 M1032.08,563.4h0.01 M1034.4,568.05h0.01 M1042.53,586.63h0.01 M1047.17,590.11h0.01 M1041.37,600.56h0.01 M1048.33,606.37h0.01 M1050.65,613.33h0.01 M1044.85,614.49h0.01 M936.87,601.72h0.01 M921.77,489.09h0.01" stroke="#000" stroke-opacity="0.5" stroke-width="1.24" stroke-linecap="round" fill="none"/>
<path d="M934.54,464.71 C925.45,467.3 934.35,476.59 933.38,480.27 C932.42,483.95 930.48,484.33 928.74,486.77 C927,489.21 924.48,492.38 922.93,494.9 C921.39,497.42 920.61,500.4 919.45,501.87 C918.29,503.34 919.26,503.34 915.97,503.72 C912.68,504.11 902.42,494.82 899.71,504.19 C897,513.55 897,550.44 899.71,559.92 C902.42,569.4 912.68,560.12 915.97,561.08 C919.26,562.05 918.1,563.6 919.45,565.73 C920.8,567.86 922.35,570.95 924.09,573.85 C925.84,576.76 927.77,580.05 929.9,583.14 C932.03,586.24 934.54,589.34 936.87,592.43 C939.19,595.53 941.12,598.63 943.83,601.72 C946.54,604.82 950.03,608.3 953.12,611.01 C956.22,613.72 959.31,615.85 962.41,617.98 C965.51,620.11 969.76,622.35 971.7,623.78 C973.63,625.21 973.44,623.67 974.02,626.57 C974.6,629.47 966.47,638.76 975.18,641.2 C983.89,643.64 1017.56,643.64 1026.27,641.2 C1034.98,638.76 1026.46,629.86 1027.43,626.57 C1028.4,623.28 1030.34,623.28 1032.08,621.46 C1033.82,619.64 1036.33,617.98 1037.88,615.65 C1039.43,613.33 1040.98,610.62 1041.37,607.53 C1041.75,604.43 1041.17,600.75 1040.2,597.08 C1039.24,593.4 1037.3,589.34 1035.56,585.47 C1033.82,581.6 1031.69,577.73 1029.75,573.85 C1027.82,569.98 1025.88,566.11 1023.95,562.24 C1022.01,558.37 1019.89,554.5 1018.14,550.63 C1016.4,546.76 1014.85,542.89 1013.5,539.02 C1012.14,535.15 1010.98,531.28 1010.02,527.41 C1009.05,523.54 1008.66,520.06 1007.69,515.8 C1006.73,511.54 1005.76,505.93 1004.21,501.87 C1002.66,497.8 1000.53,494.32 998.4,491.42 C996.28,488.51 992.99,486.31 991.44,484.45 C989.89,482.59 989.7,483.56 989.12,480.27 C988.54,476.98 997.05,467.3 987.96,464.71 C978.86,462.12 943.64,462.12 934.54,464.71Z" fill="#bfbfbf" stroke="#000" stroke-width="1.25" stroke-linejoin="round"/>
<path d="M926.42,532.06 C926.34,528.18 926.8,524.31 927.58,520.44 C928.35,516.57 929.32,512.51 931.06,508.83 C932.8,505.16 935.12,501.09 938.03,498.38 C940.93,495.67 944.8,493.85 948.48,492.58 C952.15,491.3 956.22,490.72 960.09,490.72 C963.96,490.72 968.22,491.49 971.7,492.58 C975.18,493.66 978.28,495.09 980.99,497.22 C983.7,499.35 985.83,502.25 987.96,505.35 C990.08,508.45 992.02,512.12 993.76,515.8 C995.5,519.48 997.05,523.54 998.4,527.41 C999.76,531.28 1000.53,535.15 1001.89,539.02 C1003.24,542.89 1004.98,546.76 1006.53,550.63 C1008.08,554.5 1009.82,558.37 1011.18,562.24 C1012.53,566.11 1013.69,569.98 1014.66,573.85 C1015.63,577.73 1016.71,581.6 1016.98,585.47 C1017.25,589.34 1017.06,593.59 1016.29,597.08 C1015.51,600.56 1014.35,603.85 1012.34,606.37 C1010.33,608.88 1007.5,611.01 1004.21,612.17 C1000.92,613.33 996.47,613.72 992.6,613.33 C988.73,612.95 984.86,611.4 980.99,609.85 C977.12,608.3 973.25,606.56 969.38,604.04 C965.51,601.53 961.44,598.24 957.77,594.75 C954.09,591.27 950.41,587.01 947.32,583.14 C944.22,579.27 941.7,575.79 939.19,571.53 C936.67,567.28 934.08,562.24 932.22,557.6 C930.36,552.96 929.01,547.92 928.04,543.67 C927.07,539.41 926.49,535.93 926.42,532.06Z" fill="#808080" stroke="#000" stroke-width="1.25" stroke-linejoin="round"/>
<path d="M938.03,534.38 C937.83,530.12 939,526.44 940.35,522.77 C941.7,519.09 943.64,515.03 946.16,512.32 C948.67,509.61 952.35,507.48 955.44,506.51 C958.54,505.54 961.83,505.74 964.73,506.51 C967.64,507.28 970.54,509.03 972.86,511.16 C975.18,513.28 976.92,516.19 978.67,519.28 C980.41,522.38 981.96,526.06 983.31,529.73 C984.67,533.41 985.63,537.47 986.79,541.34 C987.96,545.21 989.23,549.08 990.28,552.96 C991.32,556.83 992.68,560.7 993.06,564.57 C993.45,568.44 993.45,572.89 992.6,576.18 C991.75,579.47 990.08,582.37 987.96,584.3 C985.83,586.24 982.54,587.59 979.83,587.79 C977.12,587.98 974.41,586.82 971.7,585.47 C968.99,584.11 966.28,581.98 963.57,579.66 C960.86,577.34 958.15,574.82 955.44,571.53 C952.73,568.24 949.64,563.79 947.32,559.92 C944.99,556.05 943.06,552.57 941.51,548.31 C939.96,544.05 938.22,538.63 938.03,534.38Z" fill="#000000" stroke="#000" stroke-width="1.25" stroke-linejoin="round"/>
<path d="M967.06,480.2V627 M916,546.45H1062.8" stroke="#ff7f0e" stroke-width="1.2" fill="none"/>
<rect x="963.16" y="542.55" width="7.8" height="7.8" fill="#ff7f0e"/>
</g>
<path d="M947.32,627v-5.9 M947.32,480.2v5.9 M981.45,627v-5.9 M981.45,480.2v5.9 M1015.82,627v-5.9 M1015.82,480.2v5.9 M1049.96,627v-5.9 M1049.96,480.2v5.9 M916,506.98h5.9 M1062.8,506.98h-5.9 M916,539.02h5.9 M1062.8,539.02h-5.9 M916,571.53h5.9 M1062.8,571.53h-5.9 M916,603.58h5.9 M1062.8,603.58h-5.9" stroke="#000" stroke-width="1.4" fill="none"/>
<rect x="916" y="480.2" width="146.8" height="146.8" fill="none" stroke="#000" stroke-width="1.55"/>
<g clip-path="url(#c25)">
<path d="M1053.71,464.71 C1060.87,456.85 1089.32,462.12 1096.67,464.71 C1104.03,467.3 1097.06,476.98 1097.83,480.27 C1098.61,483.56 1099.38,482.4 1101.32,484.45 C1103.25,486.5 1106.15,489.29 1109.44,492.58 C1112.73,495.87 1117.18,500.51 1121.06,504.19 C1124.93,507.87 1128.8,510.96 1132.67,514.64 C1136.54,518.32 1140.41,522.38 1144.28,526.25 C1148.15,530.12 1152.02,533.8 1155.89,537.86 C1159.76,541.92 1163.63,546.38 1167.5,550.63 C1171.37,554.89 1175.24,559.15 1179.11,563.4 C1182.98,567.66 1186.85,572.11 1190.72,576.18 C1194.59,580.24 1199.24,584.5 1202.33,587.79 C1205.43,591.08 1207.36,593.98 1209.3,595.92 C1211.23,597.85 1212.7,598.7 1213.94,599.4 C1215.18,600.1 1214.02,599.9 1216.73,600.1 C1219.44,600.29 1227.95,593.71 1230.2,600.56 C1232.44,607.41 1236.58,634.43 1230.2,641.2 C1223.81,647.97 1198.46,643.64 1191.88,641.2 C1185.3,638.76 1191.3,629.67 1190.72,626.57 C1190.14,623.47 1190.33,624.44 1188.4,622.62 C1186.46,620.8 1182.59,618.36 1179.11,615.65 C1175.63,612.95 1171.37,609.66 1167.5,606.37 C1163.63,603.08 1159.76,599.4 1155.89,595.92 C1152.02,592.43 1148.15,588.95 1144.28,585.47 C1140.41,581.98 1136.54,578.89 1132.67,575.02 C1128.8,571.15 1124.93,566.5 1121.06,562.24 C1117.18,557.99 1113.31,553.73 1109.44,549.47 C1105.57,545.21 1101.7,540.76 1097.83,536.7 C1093.96,532.64 1089.51,528.18 1086.22,525.09 C1082.93,521.99 1080.22,520.06 1078.09,518.12 C1075.97,516.19 1074.8,514.45 1073.45,513.48 C1072.1,512.51 1073.26,512.59 1069.97,512.32 C1066.68,512.05 1056.42,519.79 1053.71,511.85 C1051,503.92 1046.55,472.57 1053.71,464.71Z" fill="#bfbfbf" stroke="#000" stroke-width="1.25" stroke-linejoin="round"/>
<path d="M1078.09,497.22 C1077.9,494.71 1079.84,493.74 1081.58,492.58 C1083.32,491.42 1085.84,490.26 1088.54,490.26 C1091.25,490.26 1094.74,491.22 1097.83,492.58 C1100.93,493.93 1103.64,495.67 1107.12,498.38 C1110.61,501.09 1114.86,505.16 1118.73,508.83 C1122.6,512.51 1126.47,516.57 1130.34,520.44 C1134.21,524.31 1138.08,528.18 1141.96,532.06 C1145.83,535.93 1149.7,539.8 1153.57,543.67 C1157.44,547.54 1161.31,551.21 1165.18,555.28 C1169.05,559.34 1172.92,563.79 1176.79,568.05 C1180.66,572.31 1184.92,576.76 1188.4,580.82 C1191.88,584.89 1195.17,588.95 1197.69,592.43 C1200.2,595.92 1202.33,599.01 1203.49,601.72 C1204.65,604.43 1205.24,606.75 1204.65,608.69 C1204.07,610.62 1201.95,612.56 1200.01,613.33 C1198.07,614.11 1195.75,614.11 1193.04,613.33 C1190.33,612.56 1187.24,610.82 1183.75,608.69 C1180.27,606.56 1176.01,603.66 1172.14,600.56 C1168.27,597.46 1164.4,593.79 1160.53,590.11 C1156.66,586.43 1152.79,582.37 1148.92,578.5 C1145.05,574.63 1141.18,570.76 1137.31,566.89 C1133.44,563.02 1129.57,559.34 1125.7,555.28 C1121.83,551.21 1117.96,546.76 1114.09,542.51 C1110.22,538.25 1106.35,533.8 1102.48,529.73 C1098.61,525.67 1094.16,521.8 1090.87,518.12 C1087.58,514.45 1084.87,511.16 1082.74,507.67 C1080.61,504.19 1078.29,499.74 1078.09,497.22Z" fill="#808080" stroke="#000" stroke-width="1.25" stroke-linejoin="round"/>
<path d="M1094.35,511.16 C1094.16,508.95 1096.09,508.83 1097.83,508.37 C1099.57,507.9 1102.09,507.52 1104.8,508.37 C1107.51,509.22 1110.61,511.08 1114.09,513.48 C1117.57,515.88 1121.83,519.48 1125.7,522.77 C1129.57,526.06 1133.44,529.54 1137.31,533.22 C1141.18,536.89 1145.05,540.76 1148.92,544.83 C1152.79,548.89 1157.05,553.54 1160.53,557.6 C1164.02,561.66 1167.42,565.73 1169.82,569.21 C1172.22,572.69 1174.93,575.6 1174.93,578.5 C1174.93,581.4 1171.83,585.85 1169.82,586.63 C1167.81,587.4 1165.95,585.08 1162.85,583.14 C1159.76,581.21 1155.11,578.11 1151.24,575.02 C1147.37,571.92 1143.5,568.05 1139.63,564.57 C1135.76,561.08 1131.89,557.79 1128.02,554.12 C1124.15,550.44 1119.89,546.18 1116.41,542.51 C1112.93,538.83 1110.02,535.54 1107.12,532.06 C1104.22,528.57 1101.12,525.09 1098.99,521.61 C1096.87,518.12 1094.54,513.36 1094.35,511.16Z" fill="#000000" stroke="#000" stroke-width="1.25" stroke-linejoin="round"/>
<path d="M1132.67,480.2V627 M1070.2,546.45H1217" stroke="#ff7f0e" stroke-width="1.2" fill="none"/>
<rect x="1128.77" y="542.55" width="7.8" height="7.8" fill="#ff7f0e"/>
</g>
<path d="M1070.43,627v-5.9 M1070.43,480.2v5.9 M1102.94,627v-5.9 M1102.94,480.2v5.9 M1135.45,627v-5.9 M1135.45,480.2v5.9 M1167.96,627v-5.9 M1167.96,480.2v5.9 M1200.47,627v-5.9 M1200.47,480.2v5.9 M1070.2,506.98h5.9 M1217,506.98h-5.9 M1070.2,539.02h5.9 M1217,539.02h-5.9 M1070.2,571.53h5.9 M1217,571.53h-5.9 M1070.2,603.58h5.9 M1217,603.58h-5.9" stroke="#000" stroke-width="1.4" fill="none"/>
<rect x="1070.2" y="480.2" width="146.8" height="146.8" fill="none" stroke="#000" stroke-width="1.55"/>
<text x="784.96" y="10.7" font-size="12.1" class="t">gmin = 83.9</text>
<text x="860.23" y="6.1" font-size="8.23" class="t">+11.5</text>
<text x="860.23" y="13.97" font-size="8.23" class="t">−16.8</text>
<text x="957.03" y="165" font-size="12.1" class="t">p = 4.1</text>
<text x="1001.79" y="160.4" font-size="8.23" class="t">+0.2</text>
<text x="1001.79" y="168.27" font-size="8.23" class="t">−0.1</text>
<text x="1087.57" y="319.3" font-size="12.1" class="t">log(B[G]) = 6.9</text>
<text x="1179.65" y="314.7" font-size="8.23" class="t">+0.3</text>
<text x="1179.65" y="322.57" font-size="8.23" class="t">−0.2</text>
<text x="1237.19" y="473.6" font-size="12.1" class="t">log(R[cm]) = 5.9</text>
<text x="1338.43" y="469" font-size="8.23" class="t">+0.3</text>
<text x="1338.43" y="476.87" font-size="8.23" class="t">−0.3</text>
<text transform="translate(790.19,643.68) rotate(-45)" x="-11.13" y="6.38" font-size="17.5" class="t">60</text>
<text transform="translate(819.69,643.68) rotate(-45)" x="-11.13" y="6.38" font-size="17.5" class="t">70</text>
<text transform="translate(848.95,643.68) rotate(-45)" x="-11.13" y="6.38" font-size="17.5" class="t">80</text>
<text transform="translate(878.44,643.68) rotate(-45)" x="-11.13" y="6.38" font-size="17.5" class="t">90</text>
<text x="812.26" y="684.8" font-size="18.2" class="t">gmin</text>
<text transform="translate(946.52,645.65) rotate(-45)" x="-13.92" y="6.38" font-size="17.5" class="t">3.9</text>
<text transform="translate(980.65,645.65) rotate(-45)" x="-13.92" y="6.38" font-size="17.5" class="t">4.2</text>
<text transform="translate(1015.02,645.65) rotate(-45)" x="-13.92" y="6.38" font-size="17.5" class="t">4.5</text>
<text transform="translate(1049.16,645.65) rotate(-45)" x="-13.92" y="6.38" font-size="17.5" class="t">4.8</text>
<text x="983.62" y="684.8" font-size="18.2" class="t">p</text>
<text transform="translate(1069.63,645.65) rotate(-45)" x="-13.92" y="6.38" font-size="17.5" class="t">6.3</text>
<text transform="translate(1102.14,645.65) rotate(-45)" x="-13.92" y="6.38" font-size="17.5" class="t">6.6</text>
<text transform="translate(1134.65,645.65) rotate(-45)" x="-13.92" y="6.38" font-size="17.5" class="t">6.9</text>
<text transform="translate(1167.16,645.65) rotate(-45)" x="-13.92" y="6.38" font-size="17.5" class="t">7.2</text>
<text transform="translate(1199.67,645.65) rotate(-45)" x="-13.92" y="6.38" font-size="17.5" class="t">7.5</text>
<text x="1102.23" y="684.8" font-size="18.2" class="t">log(B[G])</text>
<text transform="translate(1245.92,645.65) rotate(-45)" x="-13.92" y="6.38" font-size="17.5" class="t">5.2</text>
<text transform="translate(1278.44,645.65) rotate(-45)" x="-13.92" y="6.38" font-size="17.5" class="t">5.6</text>
<text transform="translate(1310.95,645.65) rotate(-45)" x="-13.92" y="6.38" font-size="17.5" class="t">6.0</text>
<text transform="translate(1343.46,645.65) rotate(-45)" x="-13.92" y="6.38" font-size="17.5" class="t">6.4</text>
<text x="1249.54" y="684.8" font-size="18.2" class="t">log(R[cm])</text>
<text transform="translate(740.55,193.29) rotate(-45)" x="-13.92" y="6.38" font-size="17.5" class="t">4.8</text>
<text transform="translate(740.55,227.43) rotate(-45)" x="-13.92" y="6.38" font-size="17.5" class="t">4.5</text>
<text transform="translate(740.55,261.33) rotate(-45)" x="-13.92" y="6.38" font-size="17.5" class="t">4.2</text>
<text transform="translate(740.55,295.47) rotate(-45)" x="-13.92" y="6.38" font-size="17.5" class="t">3.9</text>
<g transform="translate(713.9,245) rotate(-90)">
<text x="-5.78" y="0" font-size="18.2" class="t">p</text>
</g>
<text transform="translate(740.55,351.08) rotate(-45)" x="-13.92" y="6.38" font-size="17.5" class="t">7.5</text>
<text transform="translate(740.55,383.12) rotate(-45)" x="-13.92" y="6.38" font-size="17.5" class="t">7.2</text>
<text transform="translate(740.55,415.63) rotate(-45)" x="-13.92" y="6.38" font-size="17.5" class="t">6.9</text>
<text transform="translate(740.55,448.14) rotate(-45)" x="-13.92" y="6.38" font-size="17.5" class="t">6.6</text>
<text transform="translate(740.55,480.42) rotate(-45)" x="-13.92" y="6.38" font-size="17.5" class="t">6.3</text>
<g transform="translate(713.9,399.3) rotate(-90)">
<text x="-41.37" y="0" font-size="18.2" class="t">log(B[G])</text>
</g>
<text transform="translate(740.55,515.53) rotate(-45)" x="-13.92" y="6.38" font-size="17.5" class="t">6.4</text>
<text transform="translate(740.55,547.57) rotate(-45)" x="-13.92" y="6.38" font-size="17.5" class="t">6.0</text>
<text transform="translate(740.55,580.08) rotate(-45)" x="-13.92" y="6.38" font-size="17.5" class="t">5.6</text>
<text transform="translate(740.55,612.13) rotate(-45)" x="-13.92" y="6.38" font-size="17.5" class="t">5.2</text>
<g transform="translate(713.9,553.6) rotate(-90)">
<text x="-48.26" y="0" font-size="18.2" class="t">log(R[cm])</text>
</g>
<g clip-path="url(#c26)">
<path d="M1459.1,175 V43.74 H1466.31 V70.91 H1473.52 V78.57 H1480.73 V80.43 H1487.94 V82.52 H1495.15 V94.36 H1502.36 V101.79 H1509.57 V115.26 H1516.78 V112.24 H1523.99 V116.89 H1531.2 V125.48 H1538.41 V128.03 H1545.62 V129.2 H1552.83 V131.98 H1560.04 V135.93 H1567.25 V136.63 H1574.46 V138.95 H1581.67 V136.63 H1588.88 V144.75 H1596.09 V155.67 H1603.3 V175" fill="none" stroke="#1a1a1a" stroke-width="1.4" stroke-linejoin="miter"/>
<line x1="1471.04" y1="30.8" x2="1471.04" y2="175" stroke="#000" stroke-width="1.16" stroke-dasharray="3.5 1.44"/>
<line x1="1559.98" y1="30.8" x2="1559.98" y2="175" stroke="#000" stroke-width="1.16" stroke-dasharray="3.5 1.44"/>
<line x1="1504.02" y1="30.8" x2="1504.02" y2="175" stroke="#ff7f0e" stroke-width="1.2"/>
</g>
<path d="M1475.69,175v-5.9 M1475.69,30.8v5.9 M1514.24,175v-5.9 M1514.24,30.8v5.9 M1552.55,175v-5.9 M1552.55,30.8v5.9 M1590.87,175v-5.9 M1590.87,30.8v5.9" stroke="#000" stroke-width="1.4" fill="none"/>
<rect x="1459.1" y="30.8" width="144.2" height="144.2" fill="none" stroke="#000" stroke-width="1.55"/>
<g clip-path="url(#c27)">
<path d="M1610.2,326 V324.16 H1617.41 V321.14 H1624.62 V310.69 H1631.83 V294.9 H1639.04 V262.39 H1646.25 V232.43 H1653.46 V221.98 H1660.67 V202.01 H1667.88 V194.58 H1675.09 V211.99 H1682.3 V243.34 H1689.51 V263.78 H1696.72 V279.8 H1703.93 V292.81 H1711.14 V306.74 H1718.35 V314.64 H1725.56 V319.98 H1732.77 V322.76 H1739.98 V324.16 H1747.19 V324.85 H1754.4 V326" fill="none" stroke="#1a1a1a" stroke-width="1.4" stroke-linejoin="miter"/>
<line x1="1649.75" y1="181.8" x2="1649.75" y2="326" stroke="#000" stroke-width="1.16" stroke-dasharray="3.5 1.44"/>
<line x1="1693.17" y1="181.8" x2="1693.17" y2="326" stroke="#000" stroke-width="1.16" stroke-dasharray="3.5 1.44"/>
<line x1="1669.95" y1="181.8" x2="1669.95" y2="326" stroke="#ff7f0e" stroke-width="1.2"/>
</g>
<path d="M1624.44,326v-5.9 M1624.44,181.8v5.9 M1656.95,326v-5.9 M1656.95,181.8v5.9 M1689.46,326v-5.9 M1689.46,181.8v5.9 M1721.97,326v-5.9 M1721.97,181.8v5.9" stroke="#000" stroke-width="1.4" fill="none"/>
<rect x="1610.2" y="181.8" width="144.2" height="144.2" fill="none" stroke="#000" stroke-width="1.55"/>
<g clip-path="url(#c28)">
<path d="M1761.3,477 V454.26 H1768.51 V401.78 H1775.72 V359.51 H1782.93 V346.04 H1790.14 V363.69 H1797.35 V380.88 H1804.56 V395.51 H1811.77 V402.47 H1818.98 V412.92 H1826.19 V428.02 H1833.4 V436.14 H1840.61 V440.32 H1847.82 V445.43 H1855.03 V454.02 H1862.24 V458.2 H1869.45 V463.31 H1876.66 V466.33 H1883.87 V470.98 H1891.08 V473.3 H1898.29 V475.62 H1905.5 V477" fill="none" stroke="#1a1a1a" stroke-width="1.4" stroke-linejoin="miter"/>
<line x1="1779.45" y1="332.8" x2="1779.45" y2="477" stroke="#000" stroke-width="1.16" stroke-dasharray="3.5 1.44"/>
<line x1="1837.74" y1="332.8" x2="1837.74" y2="477" stroke="#000" stroke-width="1.16" stroke-dasharray="3.5 1.44"/>
<line x1="1800.35" y1="332.8" x2="1800.35" y2="477" stroke="#ff7f0e" stroke-width="1.2"/>
</g>
<path d="M1779.22,477v-5.9 M1779.22,332.8v5.9 M1809.06,477v-5.9 M1809.06,332.8v5.9 M1838.9,477v-5.9 M1838.9,332.8v5.9 M1868.86,477v-5.9 M1868.86,332.8v5.9 M1898.82,477v-5.9 M1898.82,332.8v5.9" stroke="#000" stroke-width="1.4" fill="none"/>
<rect x="1761.3" y="332.8" width="144.2" height="144.2" fill="none" stroke="#000" stroke-width="1.55"/>
<g clip-path="url(#c29)">
<path d="M1912.4,628 V626.62 H1919.61 V624.3 H1926.82 V623.6 H1934.03 V616.87 H1941.24 V613.15 H1948.45 V608.51 H1955.66 V604.1 H1962.87 V597.59 H1970.08 V588.3 H1977.29 V583.66 H1984.5 V569.73 H1991.71 V562.06 H1998.92 V541.16 H2006.13 V531.88 H2013.34 V521.66 H2020.55 V512.83 H2027.76 V497.04 H2034.97 V504.01 H2042.18 V527.23 H2049.39 V597.59 H2056.6 V628" fill="none" stroke="#1a1a1a" stroke-width="1.4" stroke-linejoin="miter"/>
<line x1="1982.1" y1="483.8" x2="1982.1" y2="628" stroke="#000" stroke-width="1.16" stroke-dasharray="3.5 1.44"/>
<line x1="2038.99" y1="483.8" x2="2038.99" y2="628" stroke="#000" stroke-width="1.16" stroke-dasharray="3.5 1.44"/>
<line x1="2016.7" y1="483.8" x2="2016.7" y2="628" stroke="#ff7f0e" stroke-width="1.2"/>
</g>
<path d="M1934.03,628v-5.9 M1934.03,483.8v5.9 M1963.75,628v-5.9 M1963.75,483.8v5.9 M1993.48,628v-5.9 M1993.48,483.8v5.9 M2023.43,628v-5.9 M2023.43,483.8v5.9 M2053.39,628v-5.9 M2053.39,483.8v5.9" stroke="#000" stroke-width="1.4" fill="none"/>
<rect x="1912.4" y="483.8" width="144.2" height="144.2" fill="none" stroke="#000" stroke-width="1.55"/>
<g clip-path="url(#c30)">
<path d="M1482.19,188.77h0.01 M1486.83,186.45h0.01 M1469.42,195.74h0.01 M1525.15,185.29h0.01 M1530.96,187.61h0.01 M1572.75,186.45h0.01 M1579.72,185.29h0.01 M1598.3,185.29h0.01 M1565.79,313.01h0.01 M1558.82,306.04h0.01 M1593.65,188.77h0.01 M1589.01,192.26h0.01" stroke="#000" stroke-opacity="0.5" stroke-width="1.24" stroke-linecap="round" fill="none"/>
<path d="M1442.71,211.99 C1445.42,189.86 1455.29,211.14 1458.97,210.37 C1462.64,209.59 1462.84,209.01 1464.77,207.35 C1466.71,205.69 1468.45,202.51 1470.58,200.38 C1472.71,198.25 1475.22,195.93 1477.54,194.58 C1479.87,193.22 1482.19,192.72 1484.51,192.26 C1486.83,191.79 1489.16,192.57 1491.48,191.79 C1493.8,191.02 1496.32,189.08 1498.44,187.61 C1500.57,186.14 1502.7,184.13 1504.25,182.97 C1505.8,181.81 1506.96,183.35 1507.73,180.64 C1508.51,177.94 1507.35,169.03 1508.89,166.71 C1510.44,164.39 1515.47,164.2 1517.02,166.71 C1518.57,169.23 1517.41,178.32 1518.18,181.81 C1518.96,185.29 1520.31,185.95 1521.67,187.61 C1523.02,189.28 1524.38,190.82 1526.31,191.79 C1528.25,192.76 1530.96,193.34 1533.28,193.42 C1535.6,193.49 1537.92,193.22 1540.24,192.26 C1542.57,191.29 1544.89,188.69 1547.21,187.61 C1549.53,186.53 1551.85,186.06 1554.18,185.75 C1556.5,185.44 1558.82,185.25 1561.14,185.75 C1563.47,186.26 1565.79,187.69 1568.11,188.77 C1570.43,189.86 1572.75,191.48 1575.08,192.26 C1577.4,193.03 1579.33,193.03 1582.04,193.42 C1584.75,193.8 1588.24,194 1591.33,194.58 C1594.43,195.16 1598.61,196.32 1600.62,196.9 C1602.63,197.48 1600.31,197.29 1603.41,198.06 C1606.5,198.84 1616.57,185.68 1619.2,201.54 C1621.83,217.41 1621.83,277.67 1619.2,293.27 C1616.57,308.87 1606.5,294.74 1603.41,295.13 C1600.31,295.52 1602.63,295.32 1600.62,295.59 C1598.61,295.86 1594.43,296.17 1591.33,296.75 C1588.24,297.34 1585.14,298.38 1582.04,299.08 C1578.95,299.77 1575.85,300.24 1572.75,300.93 C1569.66,301.63 1566.56,302.48 1563.47,303.26 C1560.37,304.03 1557.27,304.92 1554.18,305.58 C1551.08,306.24 1547.98,306.55 1544.89,307.2 C1541.79,307.86 1538.7,308.75 1535.6,309.53 C1532.5,310.3 1529.02,310.88 1526.31,311.85 C1523.6,312.82 1521.67,313.98 1519.34,315.33 C1517.02,316.69 1515.47,318.82 1512.38,319.98 C1509.28,321.14 1503.09,321.33 1500.77,322.3 C1498.44,323.27 1499.02,322.3 1498.44,325.78 C1497.86,329.27 1506.57,340.3 1497.28,343.2 C1487.99,346.1 1451.81,365.07 1442.71,343.2 C1433.62,321.33 1440,234.13 1442.71,211.99Z" fill="#bfbfbf" stroke="#000" stroke-width="1.25" stroke-linejoin="round"/>
<path d="M1442.71,230.57 C1445.42,211.53 1454.71,229.72 1458.97,228.95 C1463.22,228.17 1465.16,226.7 1468.26,225.93 C1471.35,225.15 1474.06,224.57 1477.54,224.3 C1481.03,224.03 1485.28,224.42 1489.16,224.3 C1493.03,224.19 1496.9,224.11 1500.77,223.61 C1504.64,223.1 1508.51,221.94 1512.38,221.28 C1516.25,220.63 1520.12,220.16 1523.99,219.66 C1527.86,219.15 1531.73,218.77 1535.6,218.26 C1539.47,217.76 1543.34,217.18 1547.21,216.64 C1551.08,216.1 1554.95,215.4 1558.82,215.01 C1562.69,214.63 1566.56,214.43 1570.43,214.32 C1574.3,214.2 1578.17,214.2 1582.04,214.32 C1585.91,214.43 1590.09,214.74 1593.65,215.01 C1597.22,215.28 1599.15,215.55 1603.41,215.94 C1607.67,216.33 1616.57,207.54 1619.2,217.34 C1621.83,227.13 1621.83,264.75 1619.2,274.69 C1616.57,284.64 1608.05,276.24 1603.41,277.02 C1598.76,277.79 1595.28,278.56 1591.33,279.34 C1587.38,280.11 1583.59,281 1579.72,281.66 C1575.85,282.32 1571.98,282.32 1568.11,283.29 C1564.24,284.25 1560.37,286.19 1556.5,287.47 C1552.63,288.74 1548.76,289.79 1544.89,290.95 C1541.02,292.11 1537.15,293.08 1533.28,294.43 C1529.41,295.79 1525.54,297.53 1521.67,299.08 C1517.8,300.63 1513.93,301.98 1510.06,303.72 C1506.18,305.46 1502.31,307.79 1498.44,309.53 C1494.57,311.27 1490.7,312.43 1486.83,314.17 C1482.96,315.91 1478.71,318.24 1475.22,319.98 C1471.74,321.72 1467.87,323.07 1465.93,324.62 C1464,326.17 1464.19,326.17 1463.61,329.27 C1463.03,332.36 1465.93,340.88 1462.45,343.2 C1458.97,345.52 1446,361.97 1442.71,343.2 C1439.42,324.43 1440,249.61 1442.71,230.57Z" fill="#808080" stroke="#000" stroke-width="1.25" stroke-linejoin="round"/>
<path d="M1442.71,245.2 C1445.42,233.78 1455.1,245.4 1458.97,245.67 C1462.84,245.94 1463.22,246.75 1465.93,246.83 C1468.64,246.9 1472.13,246.52 1475.22,246.13 C1478.32,245.74 1480.64,244.97 1484.51,244.51 C1488.38,244.04 1493.8,243.54 1498.44,243.34 C1503.09,243.15 1507.73,243.27 1512.38,243.34 C1517.02,243.42 1521.67,243.69 1526.31,243.81 C1530.96,243.92 1535.6,244.12 1540.24,244.04 C1544.89,243.96 1549.92,243.77 1554.18,243.34 C1558.43,242.92 1562.3,241.87 1565.79,241.49 C1569.27,241.1 1572.56,240.71 1575.08,241.02 C1577.59,241.33 1579.26,242.18 1580.88,243.34 C1582.51,244.51 1583.86,246.05 1584.83,247.99 C1585.8,249.92 1586.57,253.21 1586.69,254.96 C1586.8,256.7 1586.69,257.28 1585.53,258.44 C1584.37,259.6 1582.24,260.76 1579.72,261.92 C1577.21,263.08 1573.53,264.24 1570.43,265.4 C1567.34,266.57 1564.24,267.53 1561.14,268.89 C1558.05,270.24 1554.95,272.18 1551.85,273.53 C1548.76,274.89 1545.66,275.66 1542.57,277.02 C1539.47,278.37 1536.37,280.31 1533.28,281.66 C1530.18,283.01 1527.08,283.79 1523.99,285.14 C1520.89,286.5 1517.8,288.24 1514.7,289.79 C1511.6,291.34 1508.51,292.88 1505.41,294.43 C1502.31,295.98 1499.22,297.61 1496.12,299.08 C1493.03,300.55 1489.93,301.9 1486.83,303.26 C1483.74,304.61 1480.64,306.16 1477.54,307.2 C1474.45,308.25 1471.35,308.75 1468.26,309.53 C1465.16,310.3 1463.22,311.07 1458.97,311.85 C1454.71,312.62 1445.42,325.28 1442.71,314.17 C1440,303.06 1440,256.62 1442.71,245.2Z" fill="#000000" stroke="#000" stroke-width="1.25" stroke-linejoin="round"/>
<path d="M1504.02,181.8V326 M1459.1,265.87H1603.3" stroke="#ff7f0e" stroke-width="1.2" fill="none"/>
<rect x="1500.12" y="261.97" width="7.8" height="7.8" fill="#ff7f0e"/>
</g>
<path d="M1475.69,326v-5.9 M1475.69,181.8v5.9 M1514.24,326v-5.9 M1514.24,181.8v5.9 M1552.55,326v-5.9 M1552.55,181.8v5.9 M1590.87,326v-5.9 M1590.87,181.8v5.9 M1459.1,214.32h5.9 M1603.3,214.32h-5.9 M1459.1,246.13h5.9 M1603.3,246.13h-5.9 M1459.1,278.18h5.9 M1603.3,278.18h-5.9 M1459.1,310.22h5.9 M1603.3,310.22h-5.9" stroke="#000" stroke-width="1.4" fill="none"/>
<rect x="1459.1" y="181.8" width="144.2" height="144.2" fill="none" stroke="#000" stroke-width="1.55"/>
<g clip-path="url(#c31)">
<path d="M1594.82,423.37h0.01" stroke="#000" stroke-opacity="0.5" stroke-width="1.24" stroke-linecap="round" fill="none"/>
<path d="M1442.71,317.71 C1447.94,288.3 1468.64,315.2 1474.06,317.71 C1479.48,320.23 1474.45,329.32 1475.22,332.81 C1476,336.29 1477.16,336.1 1478.71,338.61 C1480.25,341.13 1482.38,344.61 1484.51,347.9 C1486.64,351.19 1489.16,355.06 1491.48,358.35 C1493.8,361.64 1495.73,364.54 1498.44,367.64 C1501.15,370.73 1504.64,374.02 1507.73,376.93 C1510.83,379.83 1513.93,382.54 1517.02,385.06 C1520.12,387.57 1523.21,389.51 1526.31,392.02 C1529.41,394.54 1532.5,398.02 1535.6,400.15 C1538.7,402.28 1541.79,403.44 1544.89,404.79 C1547.98,406.15 1551.08,407 1554.18,408.28 C1557.27,409.55 1560.37,411.1 1563.47,412.46 C1566.56,413.81 1569.66,415.17 1572.75,416.4 C1575.85,417.64 1578.95,418.53 1582.04,419.89 C1585.14,421.24 1588.24,423.29 1591.33,424.53 C1594.43,425.77 1598.61,426.74 1600.62,427.32 C1602.63,427.9 1600.31,427.32 1603.41,428.02 C1606.5,428.71 1616.57,420.47 1619.2,431.5 C1621.83,442.53 1648.61,483.75 1619.2,494.2 C1589.78,504.65 1472.13,523.61 1442.71,494.2 C1413.3,464.78 1437.49,347.13 1442.71,317.71Z" fill="#bfbfbf" stroke="#000" stroke-width="1.25" stroke-linejoin="round"/>
<path d="M1442.71,472.83 C1445.42,469.27 1455.1,472.95 1458.97,472.83 C1462.84,472.72 1464,471.87 1465.93,472.14 C1467.87,472.41 1469.61,473.69 1470.58,474.46 C1471.55,475.23 1471.43,473.49 1471.74,476.78 C1472.05,480.07 1477.27,491.3 1472.44,494.2 C1467.6,497.1 1447.67,497.76 1442.71,494.2 C1437.76,490.64 1440,476.4 1442.71,472.83Z" fill="#ffffff" stroke="#000" stroke-width="1.25" stroke-linejoin="round"/>
<path d="M1442.71,340.93 C1445.42,321.97 1455.29,343.26 1458.97,344.42 C1462.64,345.58 1462.84,346.35 1464.77,347.9 C1466.71,349.45 1468.45,351 1470.58,353.71 C1472.71,356.41 1475.22,360.87 1477.54,364.16 C1479.87,367.45 1482.19,370.35 1484.51,373.44 C1486.83,376.54 1489.16,380.02 1491.48,382.73 C1493.8,385.44 1495.73,387.38 1498.44,389.7 C1501.15,392.02 1504.64,394.34 1507.73,396.67 C1510.83,398.99 1513.93,401.5 1517.02,403.63 C1520.12,405.76 1523.21,407.31 1526.31,409.44 C1529.41,411.57 1532.5,414.47 1535.6,416.4 C1538.7,418.34 1541.79,419.69 1544.89,421.05 C1547.98,422.4 1551.08,423.37 1554.18,424.53 C1557.27,425.69 1560.37,427.05 1563.47,428.02 C1566.56,428.98 1569.66,429.45 1572.75,430.34 C1575.85,431.23 1578.95,432.39 1582.04,433.36 C1585.14,434.32 1588.24,435.29 1591.33,436.14 C1594.43,437 1598.61,437.96 1600.62,438.47 C1602.63,438.97 1600.31,438.58 1603.41,439.16 C1606.5,439.74 1616.57,432.78 1619.2,441.95 C1621.83,451.12 1636.31,485.49 1619.2,494.2 C1602.09,502.91 1533.59,497.1 1516.56,494.2 C1499.53,491.3 1516.75,480.07 1517.02,476.78 C1517.29,473.49 1518.57,475.23 1518.18,474.46 C1517.8,473.69 1516.44,472.8 1514.7,472.14 C1512.96,471.48 1510.44,470.9 1507.73,470.51 C1505.02,470.13 1501.93,470.32 1498.44,469.82 C1494.96,469.31 1490.7,468.46 1486.83,467.49 C1482.96,466.53 1478.71,465.17 1475.22,464.01 C1471.74,462.85 1468.64,461.3 1465.93,460.53 C1463.22,459.75 1462.84,459.75 1458.97,459.37 C1455.1,458.98 1445.42,477.94 1442.71,458.2 C1440,438.47 1440,359.9 1442.71,340.93Z" fill="#808080" stroke="#000" stroke-width="1.25" stroke-linejoin="round"/>
<path d="M1442.71,358.35 C1445.42,344.42 1455.48,358.93 1458.97,359.51 C1462.45,360.09 1461.87,360.09 1463.61,361.83 C1465.35,363.57 1467.48,366.86 1469.42,369.96 C1471.35,373.06 1473.09,376.73 1475.22,380.41 C1477.35,384.09 1479.87,388.93 1482.19,392.02 C1484.51,395.12 1486.45,396.47 1489.16,398.99 C1491.86,401.5 1495.35,404.6 1498.44,407.12 C1501.54,409.63 1504.64,411.57 1507.73,414.08 C1510.83,416.6 1514.31,419.69 1517.02,422.21 C1519.73,424.73 1521.28,427.24 1523.99,429.18 C1526.7,431.11 1529.79,432.35 1533.28,433.82 C1536.76,435.29 1541.02,436.84 1544.89,438 C1548.76,439.16 1552.63,439.94 1556.5,440.79 C1560.37,441.64 1564.24,442.14 1568.11,443.11 C1571.98,444.08 1576.24,445.05 1579.72,446.59 C1583.2,448.14 1586.69,450.27 1589.01,452.4 C1591.33,454.53 1592.8,457.24 1593.65,459.37 C1594.51,461.49 1594.7,463.55 1594.12,465.17 C1593.54,466.8 1592.18,468.34 1590.17,469.12 C1588.16,469.89 1584.95,470.09 1582.04,469.82 C1579.14,469.54 1575.85,468.07 1572.75,467.49 C1569.66,466.91 1566.95,466.41 1563.47,466.33 C1559.98,466.25 1555.73,467.03 1551.85,467.03 C1547.98,467.03 1544.11,466.64 1540.24,466.33 C1536.37,466.02 1532.5,465.56 1528.63,465.17 C1524.76,464.78 1520.89,464.4 1517.02,464.01 C1513.15,463.62 1509.28,463.43 1505.41,462.85 C1501.54,462.27 1497.67,461.69 1493.8,460.53 C1489.93,459.37 1485.67,457.43 1482.19,455.88 C1478.71,454.33 1475.61,452.79 1472.9,451.24 C1470.19,449.69 1468.26,447.75 1465.93,446.59 C1463.61,445.43 1462.84,444.85 1458.97,444.27 C1455.1,443.69 1445.42,457.43 1442.71,443.11 C1440,428.79 1440,372.28 1442.71,358.35Z" fill="#000000" stroke="#000" stroke-width="1.25" stroke-linejoin="round"/>
<path d="M1504.02,332.8V477 M1459.1,437.77H1603.3" stroke="#ff7f0e" stroke-width="1.2" fill="none"/>
<rect x="1500.12" y="433.87" width="7.8" height="7.8" fill="#ff7f0e"/>
</g>
<path d="M1475.69,477v-5.9 M1475.69,332.8v5.9 M1514.24,477v-5.9 M1514.24,332.8v5.9 M1552.55,477v-5.9 M1552.55,332.8v5.9 M1590.87,477v-5.9 M1590.87,332.8v5.9 M1459.1,339.77h5.9 M1603.3,339.77h-5.9 M1459.1,369.5h5.9 M1603.3,369.5h-5.9 M1459.1,399.45h5.9 M1603.3,399.45h-5.9 M1459.1,429.18h5.9 M1603.3,429.18h-5.9 M1459.1,458.9h5.9 M1603.3,458.9h-5.9" stroke="#000" stroke-width="1.4" fill="none"/>
<rect x="1459.1" y="332.8" width="144.2" height="144.2" fill="none" stroke="#000" stroke-width="1.55"/>
<g clip-path="url(#c32)">
<path d="M1550.69,563.92h0.01 M1594.82,547.67h0.01" stroke="#000" stroke-opacity="0.5" stroke-width="1.24" stroke-linecap="round" fill="none"/>
<path d="M1442.71,468.71 C1472.13,439.3 1589.78,457.29 1619.2,468.71 C1648.61,480.13 1621.83,525.14 1619.2,537.22 C1616.57,549.29 1607.28,540.2 1603.41,541.16 C1599.54,542.13 1598.76,541.94 1595.98,543.02 C1593.19,544.11 1589.78,546.2 1586.69,547.67 C1583.59,549.14 1580.5,550.61 1577.4,551.85 C1574.3,553.08 1571.21,553.94 1568.11,555.1 C1565.01,556.26 1561.92,557.65 1558.82,558.81 C1555.73,559.97 1552.63,560.83 1549.53,562.06 C1546.44,563.3 1543.34,564.58 1540.24,566.24 C1537.15,567.91 1534.05,569.92 1530.96,572.05 C1527.86,574.18 1524.76,576.89 1521.67,579.02 C1518.57,581.14 1515.47,582.69 1512.38,584.82 C1509.28,586.95 1506.18,589.08 1503.09,591.79 C1499.99,594.5 1496.51,597.98 1493.8,601.08 C1491.09,604.17 1489.16,607.27 1486.83,610.37 C1484.51,613.46 1481.61,616.75 1479.87,619.65 C1478.12,622.56 1477.16,623.52 1476.38,627.78 C1475.61,632.04 1480.83,642.3 1475.22,645.2 C1469.61,648.1 1448.13,674.61 1442.71,645.2 C1437.29,615.78 1413.3,498.13 1442.71,468.71Z" fill="#bfbfbf" stroke="#000" stroke-width="1.25" stroke-linejoin="round"/>
<path d="M1442.71,468.71 C1472.13,443.17 1589.78,459.62 1619.2,468.71 C1648.61,477.81 1621.83,513.68 1619.2,523.28 C1616.57,532.88 1607.28,525.53 1603.41,526.3 C1599.54,527.08 1598.76,527 1595.98,527.93 C1593.19,528.86 1589.78,530.52 1586.69,531.88 C1583.59,533.23 1580.5,534.89 1577.4,536.06 C1574.3,537.22 1571.21,537.87 1568.11,538.84 C1565.01,539.81 1561.92,540.97 1558.82,541.86 C1555.73,542.75 1552.63,543.41 1549.53,544.18 C1546.44,544.96 1543.34,545.34 1540.24,546.51 C1537.15,547.67 1534.05,549.21 1530.96,551.15 C1527.86,553.08 1524.76,555.99 1521.67,558.12 C1518.57,560.24 1515.47,561.99 1512.38,563.92 C1509.28,565.86 1506.18,567.79 1503.09,569.73 C1499.99,571.66 1496.51,573.4 1493.8,575.53 C1491.09,577.66 1489.16,579.79 1486.83,582.5 C1484.51,585.21 1482.19,588.5 1479.87,591.79 C1477.54,595.08 1475.22,599.14 1472.9,602.24 C1470.58,605.33 1468.26,608.24 1465.93,610.37 C1463.61,612.49 1462.84,613.07 1458.97,615.01 C1455.1,616.95 1445.42,646.36 1442.71,621.98 C1440,597.59 1413.3,494.26 1442.71,468.71Z" fill="#808080" stroke="#000" stroke-width="1.25" stroke-linejoin="round"/>
<path d="M1570.43,484.97 C1571.4,484.39 1574.5,484.27 1576.24,484.27 C1577.98,484.27 1580.11,484.39 1580.88,484.97 C1581.66,485.55 1581.66,487.21 1580.88,487.75 C1580.11,488.3 1577.98,488.22 1576.24,488.22 C1574.5,488.22 1571.4,488.3 1570.43,487.75 C1569.46,487.21 1569.46,485.55 1570.43,484.97Z" fill="#bfbfbf" stroke="#000" stroke-width="1.25" stroke-linejoin="round"/>
<path d="M1442.71,509.35 C1445.42,494.18 1455.68,508.58 1458.97,508.19 C1462.26,507.8 1460.9,508.38 1462.45,507.03 C1464,505.67 1465.74,502.19 1468.26,500.06 C1470.77,497.93 1474.45,495.8 1477.54,494.26 C1480.64,492.71 1483.35,491.35 1486.83,490.77 C1490.32,490.19 1494.57,490.39 1498.44,490.77 C1502.31,491.16 1506.18,492.44 1510.06,493.09 C1513.93,493.75 1517.8,494.22 1521.67,494.72 C1525.54,495.22 1529.41,495.61 1533.28,496.11 C1537.15,496.62 1541.02,497.2 1544.89,497.74 C1548.76,498.28 1552.63,499.09 1556.5,499.36 C1560.37,499.64 1564.63,499.64 1568.11,499.36 C1571.59,499.09 1574.5,498.01 1577.4,497.74 C1580.3,497.47 1583.2,497.16 1585.53,497.74 C1587.85,498.32 1589.9,499.67 1591.33,501.22 C1592.76,502.77 1594.12,504.9 1594.12,507.03 C1594.12,509.16 1592.96,512.06 1591.33,513.99 C1589.71,515.93 1587.07,517.28 1584.37,518.64 C1581.66,519.99 1578.56,521.15 1575.08,522.12 C1571.59,523.09 1567.34,523.67 1563.47,524.44 C1559.6,525.22 1555.73,525.99 1551.85,526.77 C1547.98,527.54 1544.11,528.24 1540.24,529.09 C1536.37,529.94 1532.12,530.52 1528.63,531.88 C1525.15,533.23 1522.05,535.16 1519.34,537.22 C1516.63,539.27 1514.7,542.05 1512.38,544.18 C1510.06,546.31 1507.73,548.05 1505.41,549.99 C1503.09,551.92 1500.77,554.05 1498.44,555.79 C1496.12,557.54 1493.8,558.89 1491.48,560.44 C1489.16,561.99 1486.64,563.15 1484.51,565.08 C1482.38,567.02 1480.25,569.53 1478.71,572.05 C1477.16,574.57 1476.38,577.47 1475.22,580.18 C1474.06,582.89 1473.09,585.79 1471.74,588.3 C1470.38,590.82 1468.64,593.53 1467.09,595.27 C1465.55,597.01 1463.8,598.17 1462.45,598.75 C1461.1,599.34 1462.26,598.68 1458.97,598.75 C1455.68,598.83 1445.42,614.12 1442.71,599.22 C1440,584.32 1440,524.52 1442.71,509.35Z" fill="#000000" stroke="#000" stroke-width="1.25" stroke-linejoin="round"/>
<path d="M1504.02,483.8V628 M1459.1,523.52H1603.3" stroke="#ff7f0e" stroke-width="1.2" fill="none"/>
<rect x="1500.12" y="519.62" width="7.8" height="7.8" fill="#ff7f0e"/>
</g>
<path d="M1475.69,628v-5.9 M1475.69,483.8v5.9 M1514.24,628v-5.9 M1514.24,483.8v5.9 M1552.55,628v-5.9 M1552.55,483.8v5.9 M1590.87,628v-5.9 M1590.87,483.8v5.9 M1459.1,487.75h5.9 M1603.3,487.75h-5.9 M1459.1,517.48h5.9 M1603.3,517.48h-5.9 M1459.1,547.2h5.9 M1603.3,547.2h-5.9 M1459.1,576.69h5.9 M1603.3,576.69h-5.9 M1459.1,606.42h5.9 M1603.3,606.42h-5.9" stroke="#000" stroke-width="1.4" fill="none"/>
<rect x="1459.1" y="483.8" width="144.2" height="144.2" fill="none" stroke="#000" stroke-width="1.55"/>
<g clip-path="url(#c33)">
<path d="M1730.56,342.09h0.01 M1739.85,340.93h0.01 M1745.65,361.83h0.01 M1749.14,362.99h0.01" stroke="#000" stroke-opacity="0.5" stroke-width="1.24" stroke-linecap="round" fill="none"/>
<path d="M1674.83,317.71 C1668.05,320.23 1675.02,329.13 1673.67,332.81 C1672.31,336.48 1669.02,337.84 1666.7,339.77 C1664.38,341.71 1662.44,342.48 1659.73,344.42 C1657.02,346.35 1653.54,349.06 1650.44,351.38 C1647.35,353.71 1644.25,355.45 1641.16,358.35 C1638.06,361.25 1634.58,365.32 1631.87,368.8 C1629.16,372.28 1626.64,375.77 1624.9,379.25 C1623.16,382.73 1622.58,386.02 1621.42,389.7 C1620.26,393.38 1619.09,397.83 1617.93,401.31 C1616.77,404.79 1615.61,407.89 1614.45,410.6 C1613.29,413.31 1614.26,415.24 1610.97,417.57 C1607.68,419.89 1597.42,411.76 1594.71,424.53 C1592,437.3 1573.81,482.59 1594.71,494.2 C1615.61,505.81 1699.02,497.1 1720.11,494.2 C1741.2,491.3 1720.69,481.04 1721.27,476.78 C1721.85,472.52 1722.43,471.36 1723.59,468.65 C1724.75,465.95 1726.3,463.24 1728.24,460.53 C1730.17,457.82 1732.69,455.11 1735.2,452.4 C1737.72,449.69 1740.82,446.79 1743.33,444.27 C1745.85,441.76 1748.36,438.97 1750.3,437.3 C1752.23,435.64 1751.46,435.25 1754.94,434.29 C1758.43,433.32 1768.49,439.7 1771.2,431.5 C1773.91,423.29 1773.91,392.8 1771.2,385.06 C1768.49,377.31 1758.23,385.25 1754.94,385.06 C1751.65,384.86 1753.01,385.06 1751.46,383.89 C1749.91,382.73 1747.4,380.22 1745.65,378.09 C1743.91,375.96 1742.17,374.02 1741.01,371.12 C1739.85,368.22 1739.85,363.57 1738.69,360.67 C1737.53,357.77 1735.98,356.03 1734.04,353.71 C1732.11,351.38 1729.4,349.25 1727.08,346.74 C1724.75,344.22 1722.05,340.93 1720.11,338.61 C1718.18,336.29 1716.43,336.29 1715.47,332.81 C1714.5,329.32 1721.08,320.23 1714.3,317.71 C1707.53,315.2 1681.6,315.2 1674.83,317.71Z" fill="#bfbfbf" stroke="#000" stroke-width="1.25" stroke-linejoin="round"/>
<path d="M1771.2,396.67 C1768.49,393.88 1758.12,397.36 1754.94,397.36 C1751.77,397.36 1753.12,396.32 1752.16,396.67 C1751.19,397.01 1749.83,397.9 1749.14,399.45 C1748.44,401 1747.98,403.9 1747.98,405.96 C1747.98,408.01 1748.48,410.29 1749.14,411.76 C1749.8,413.23 1750.96,414.39 1751.92,414.78 C1752.89,415.17 1751.73,414.2 1754.94,414.08 C1758.16,413.97 1768.49,416.99 1771.2,414.08 C1773.91,411.18 1773.91,399.45 1771.2,396.67Z" fill="#ffffff" stroke="#000" stroke-width="1.25" stroke-linejoin="round"/>
<path d="M1608.64,472.83 C1609.61,471.79 1613.48,471.79 1614.45,472.83 C1615.42,473.88 1615.42,478.06 1614.45,479.1 C1613.48,480.15 1609.61,480.15 1608.64,479.1 C1607.68,478.06 1607.68,473.88 1608.64,472.83Z" fill="#ffffff" stroke="#000" stroke-width="1.25" stroke-linejoin="round"/>
<path d="M1616.77,447.75 C1616.97,443.88 1617.93,438.85 1619.09,433.82 C1620.26,428.79 1622.19,422.98 1623.74,417.57 C1625.29,412.15 1626.84,406.34 1628.38,401.31 C1629.93,396.28 1631.29,391.44 1633.03,387.38 C1634.77,383.31 1636.32,380.22 1638.83,376.93 C1641.35,373.64 1645.03,370.54 1648.12,367.64 C1651.22,364.74 1654.31,361.83 1657.41,359.51 C1660.51,357.19 1663.6,355.14 1666.7,353.71 C1669.8,352.27 1672.89,351.5 1675.99,350.92 C1679.08,350.34 1682.18,349.95 1685.28,350.22 C1688.37,350.49 1691.86,351.38 1694.57,352.54 C1697.28,353.71 1699.6,354.87 1701.53,357.19 C1703.47,359.51 1704.82,362.99 1706.18,366.48 C1707.53,369.96 1708.11,374.22 1709.66,378.09 C1711.21,381.96 1713.72,385.83 1715.47,389.7 C1717.21,393.57 1718.56,397.44 1720.11,401.31 C1721.66,405.18 1723.4,409.05 1724.75,412.92 C1726.11,416.79 1727.39,421.05 1728.24,424.53 C1729.09,428.02 1729.86,430.73 1729.86,433.82 C1729.86,436.92 1729.28,440.01 1728.24,443.11 C1727.19,446.21 1725.34,449.3 1723.59,452.4 C1721.85,455.5 1719.72,458.98 1717.79,461.69 C1715.85,464.4 1713.92,466.72 1711.98,468.65 C1710.05,470.59 1707.73,471.94 1706.18,473.3 C1704.63,474.65 1703.47,473.3 1702.69,476.78 C1701.92,480.27 1713.34,491.3 1701.53,494.2 C1689.73,497.1 1643.67,497.1 1631.87,494.2 C1620.06,491.3 1631.67,480.65 1630.71,476.78 C1629.74,472.91 1627.61,473.11 1626.06,470.98 C1624.51,468.85 1622.77,466.33 1621.42,464.01 C1620.06,461.69 1618.71,459.75 1617.93,457.04 C1617.16,454.33 1616.58,451.63 1616.77,447.75Z" fill="#808080" stroke="#000" stroke-width="1.25" stroke-linejoin="round"/>
<path d="M1633.03,450.08 C1632.83,446.59 1634.38,442.72 1635.35,438.47 C1636.32,434.21 1637.67,428.79 1638.83,424.53 C1639.99,420.28 1640.77,416.21 1642.32,412.92 C1643.86,409.63 1645.99,407.31 1648.12,404.79 C1650.25,402.28 1652.38,399.65 1655.09,397.83 C1657.8,396.01 1661.67,394.15 1664.38,393.88 C1667.09,393.61 1669.02,394.96 1671.34,396.2 C1673.67,397.44 1675.99,399.3 1678.31,401.31 C1680.63,403.32 1682.96,405.57 1685.28,408.28 C1687.6,410.99 1690.12,414.47 1692.24,417.57 C1694.37,420.66 1696.11,423.95 1698.05,426.85 C1699.98,429.76 1702.42,432.27 1703.85,434.98 C1705.29,437.69 1706.45,440.21 1706.64,443.11 C1706.84,446.01 1706.06,449.5 1705.02,452.4 C1703.97,455.3 1702.31,458.01 1700.37,460.53 C1698.44,463.04 1695.53,465.56 1693.4,467.49 C1691.28,469.43 1688.95,470.59 1687.6,472.14 C1686.24,473.69 1685.74,473.11 1685.28,476.78 C1684.81,480.46 1690.15,491.3 1684.81,494.2 C1679.47,497.1 1658.57,497.1 1653.23,494.2 C1647.89,491.3 1653.23,480.46 1652.77,476.78 C1652.3,473.11 1651.99,473.88 1650.44,472.14 C1648.9,470.4 1645.8,468.46 1643.48,466.33 C1641.16,464.2 1638.25,462.07 1636.51,459.37 C1634.77,456.66 1633.22,453.56 1633.03,450.08Z" fill="#000000" stroke="#000" stroke-width="1.25" stroke-linejoin="round"/>
<path d="M1669.95,332.8V477 M1610.2,437.77H1754.4" stroke="#ff7f0e" stroke-width="1.2" fill="none"/>
<rect x="1666.05" y="433.87" width="7.8" height="7.8" fill="#ff7f0e"/>
</g>
<path d="M1624.44,477v-5.9 M1624.44,332.8v5.9 M1656.95,477v-5.9 M1656.95,332.8v5.9 M1689.46,477v-5.9 M1689.46,332.8v5.9 M1721.97,477v-5.9 M1721.97,332.8v5.9 M1610.2,339.77h5.9 M1754.4,339.77h-5.9 M1610.2,369.5h5.9 M1754.4,369.5h-5.9 M1610.2,399.45h5.9 M1754.4,399.45h-5.9 M1610.2,429.18h5.9 M1754.4,429.18h-5.9 M1610.2,458.9h5.9 M1754.4,458.9h-5.9" stroke="#000" stroke-width="1.4" fill="none"/>
<rect x="1610.2" y="332.8" width="144.2" height="144.2" fill="none" stroke="#000" stroke-width="1.55"/>
<g clip-path="url(#c34)">
<path d="M1750.3,530.25h0.01 M1743.33,590.63h0.01 M1746.82,599.92h0.01 M1749.14,602.24h0.01 M1744.49,604.56h0.01 M1738.69,619.65h0.01 M1730.56,623.14h0.01 M1645.8,605.26h0.01" stroke="#000" stroke-opacity="0.5" stroke-width="1.24" stroke-linecap="round" fill="none"/>
<path d="M1594.71,468.71 C1614.64,458.07 1694.18,466.2 1714.3,468.71 C1734.43,471.23 1714.5,480.13 1715.47,483.81 C1716.43,487.48 1718.18,488.06 1720.11,490.77 C1722.05,493.48 1724.75,496.96 1727.08,500.06 C1729.4,503.16 1731.72,506.25 1734.04,509.35 C1736.37,512.45 1738.69,515.54 1741.01,518.64 C1743.33,521.73 1746.04,525.22 1747.98,527.93 C1749.91,530.64 1751.46,533.35 1752.62,534.89 C1753.78,536.44 1751.85,536.44 1754.94,537.22 C1758.04,537.99 1768.49,532.57 1771.2,539.54 C1773.91,546.51 1773.91,572.24 1771.2,579.02 C1768.49,585.79 1758.43,579.4 1754.94,580.18 C1751.46,580.95 1751.85,582.11 1750.3,583.66 C1748.75,585.21 1747.2,586.95 1745.65,589.47 C1744.11,591.98 1742.36,595.85 1741.01,598.75 C1739.66,601.66 1739.07,604.75 1737.53,606.88 C1735.98,609.01 1733.85,609.98 1731.72,611.53 C1729.59,613.07 1726.69,614.43 1724.75,616.17 C1722.82,617.91 1720.96,620.04 1720.11,621.98 C1719.26,623.91 1719.84,623.91 1719.65,627.78 C1719.45,631.65 1727.39,642.3 1718.95,645.2 C1710.51,648.1 1677.54,648.1 1669.02,645.2 C1660.51,642.3 1668.63,631.27 1667.86,627.78 C1667.09,624.3 1665.54,625.65 1664.38,624.3 C1663.22,622.94 1662.25,621.59 1660.89,619.65 C1659.54,617.72 1657.99,615.01 1656.25,612.69 C1654.51,610.37 1652.57,607.85 1650.44,605.72 C1648.32,603.59 1645.8,602.24 1643.48,599.92 C1641.16,597.59 1638.83,594.69 1636.51,591.79 C1634.19,588.89 1631.48,585.6 1629.54,582.5 C1627.61,579.4 1626.06,576.11 1624.9,573.21 C1623.74,570.31 1623.16,568.18 1622.58,565.08 C1622,561.99 1622.19,557.92 1621.42,554.63 C1620.64,551.34 1619.09,548.44 1617.93,545.34 C1616.77,542.25 1615.61,537.99 1614.45,536.06 C1613.29,534.12 1614.26,534.31 1610.97,533.73 C1607.68,533.15 1597.42,543.41 1594.71,532.57 C1592,521.73 1574.78,479.35 1594.71,468.71Z" fill="#bfbfbf" stroke="#000" stroke-width="1.25" stroke-linejoin="round"/>
<path d="M1618.4,468.71 C1605.24,471.23 1618.4,479.94 1617.93,483.81 C1617.47,487.68 1615.8,489.03 1615.61,491.93 C1615.42,494.84 1616.19,497.74 1616.77,501.22 C1617.35,504.71 1617.93,508.96 1619.09,512.83 C1620.26,516.7 1622.38,520.57 1623.74,524.44 C1625.09,528.31 1626.06,532.18 1627.22,536.06 C1628.38,539.93 1629.54,543.8 1630.71,547.67 C1631.87,551.54 1632.64,555.41 1634.19,559.28 C1635.74,563.15 1637.87,567.21 1639.99,570.89 C1642.12,574.57 1644.45,577.85 1646.96,581.34 C1649.48,584.82 1652.19,588.69 1655.09,591.79 C1657.99,594.88 1661.28,597.67 1664.38,599.92 C1667.47,602.16 1670.57,603.98 1673.67,605.26 C1676.76,606.53 1679.86,607.42 1682.96,607.58 C1686.05,607.73 1689.34,607.08 1692.24,606.19 C1695.15,605.3 1698.05,604.06 1700.37,602.24 C1702.69,600.42 1704.63,597.98 1706.18,595.27 C1707.73,592.56 1708.5,589.27 1709.66,585.98 C1710.82,582.69 1711.79,578.82 1713.14,575.53 C1714.5,572.24 1716.24,569.34 1717.79,566.24 C1719.34,563.15 1720.96,560.05 1722.43,556.96 C1723.9,553.86 1725.53,551.15 1726.61,547.67 C1727.7,544.18 1728.86,539.93 1728.93,536.06 C1729.01,532.18 1728.16,528.31 1727.08,524.44 C1725.99,520.57 1724.37,516.51 1722.43,512.83 C1720.5,509.16 1717.79,505.48 1715.47,502.38 C1713.14,499.29 1710.82,496.77 1708.5,494.26 C1706.18,491.74 1703.27,489.03 1701.53,487.29 C1699.79,485.55 1698.82,486.9 1698.05,483.81 C1697.28,480.71 1710.16,471.23 1696.89,468.71 C1683.61,466.2 1631.56,466.2 1618.4,468.71Z" fill="#808080" stroke="#000" stroke-width="1.25" stroke-linejoin="round"/>
<path d="M1642.32,468.71 C1636.12,471.23 1642.32,479.94 1641.16,483.81 C1639.99,487.68 1636.82,489.03 1635.35,491.93 C1633.88,494.84 1632.52,497.74 1632.33,501.22 C1632.14,504.71 1633.3,508.96 1634.19,512.83 C1635.08,516.7 1636.51,520.57 1637.67,524.44 C1638.83,528.31 1639.61,532.38 1641.16,536.06 C1642.7,539.73 1644.64,543.22 1646.96,546.51 C1649.28,549.79 1652.19,553.28 1655.09,555.79 C1657.99,558.31 1661.28,560.63 1664.38,561.6 C1667.47,562.57 1670.57,562.18 1673.67,561.6 C1676.76,561.02 1679.86,559.86 1682.96,558.12 C1686.05,556.37 1689.53,553.67 1692.24,551.15 C1694.95,548.63 1697.28,545.92 1699.21,543.02 C1701.15,540.12 1702.89,536.83 1703.85,533.73 C1704.82,530.64 1705.21,527.54 1705.02,524.44 C1704.82,521.35 1704.05,518.45 1702.69,515.16 C1701.34,511.87 1699.02,507.8 1696.89,504.71 C1694.76,501.61 1692.24,499.09 1689.92,496.58 C1687.6,494.06 1684.7,491.74 1682.96,489.61 C1681.21,487.48 1680.25,487.29 1679.47,483.81 C1678.7,480.32 1684.5,471.23 1678.31,468.71 C1672.12,466.2 1648.51,466.2 1642.32,468.71Z" fill="#000000" stroke="#000" stroke-width="1.25" stroke-linejoin="round"/>
<path d="M1669.95,483.8V628 M1610.2,523.52H1754.4" stroke="#ff7f0e" stroke-width="1.2" fill="none"/>
<rect x="1666.05" y="519.62" width="7.8" height="7.8" fill="#ff7f0e"/>
</g>
<path d="M1624.44,628v-5.9 M1624.44,483.8v5.9 M1656.95,628v-5.9 M1656.95,483.8v5.9 M1689.46,628v-5.9 M1689.46,483.8v5.9 M1721.97,628v-5.9 M1721.97,483.8v5.9 M1610.2,487.75h5.9 M1754.4,487.75h-5.9 M1610.2,517.48h5.9 M1754.4,517.48h-5.9 M1610.2,547.2h5.9 M1754.4,547.2h-5.9 M1610.2,576.69h5.9 M1754.4,576.69h-5.9 M1610.2,606.42h5.9 M1754.4,606.42h-5.9" stroke="#000" stroke-width="1.4" fill="none"/>
<rect x="1610.2" y="483.8" width="144.2" height="144.2" fill="none" stroke="#000" stroke-width="1.55"/>
<g clip-path="url(#c35)">
<path d="M1746.71,468.71 C1756.46,460.78 1795.36,466.2 1805.23,468.71 C1815.1,471.23 1805.42,480.32 1805.93,483.81 C1806.43,487.29 1806.9,487.48 1808.25,489.61 C1809.6,491.74 1811.54,493.67 1814.06,496.58 C1816.57,499.48 1820.25,503.35 1823.34,507.03 C1826.44,510.7 1829.54,514.77 1832.63,518.64 C1835.73,522.51 1838.83,526.38 1841.92,530.25 C1845.02,534.12 1848.11,538.18 1851.21,541.86 C1854.31,545.54 1857.4,548.83 1860.5,552.31 C1863.6,555.79 1866.69,559.08 1869.79,562.76 C1872.88,566.44 1875.98,570.69 1879.08,574.37 C1882.17,578.05 1885.66,581.53 1888.37,584.82 C1891.07,588.11 1893.2,591.21 1895.33,594.11 C1897.46,597.01 1899.4,600.3 1901.14,602.24 C1902.88,604.17 1902.11,603.59 1905.78,605.72 C1909.46,607.85 1920.3,608.43 1923.2,615.01 C1926.1,621.59 1930.17,640.17 1923.2,645.2 C1916.23,650.23 1888.56,648.1 1881.4,645.2 C1874.24,642.3 1880.82,631.65 1880.24,627.78 C1879.66,623.91 1879.27,624.11 1877.92,621.98 C1876.56,619.85 1874.63,617.72 1872.11,615.01 C1869.59,612.3 1865.92,608.62 1862.82,605.72 C1859.73,602.82 1856.63,600.3 1853.53,597.59 C1850.44,594.88 1847.34,592.18 1844.24,589.47 C1841.15,586.76 1838.05,584.05 1834.96,581.34 C1831.86,578.63 1828.76,576.11 1825.67,573.21 C1822.57,570.31 1819.47,566.82 1816.38,563.92 C1813.28,561.02 1810.18,558.7 1807.09,555.79 C1803.99,552.89 1800.9,549.6 1797.8,546.51 C1794.7,543.41 1791.61,540.12 1788.51,537.22 C1785.41,534.31 1781.93,531.6 1779.22,529.09 C1776.51,526.57 1774.38,524.25 1772.26,522.12 C1770.13,519.99 1768.19,517.28 1766.45,516.32 C1764.71,515.35 1765.1,516.32 1761.81,516.32 C1758.52,516.32 1749.23,524.25 1746.71,516.32 C1744.2,508.38 1736.96,476.65 1746.71,468.71Z" fill="#bfbfbf" stroke="#000" stroke-width="1.25" stroke-linejoin="round"/>
<path d="M1746.71,468.71 C1754.92,464.07 1787.62,466.2 1795.94,468.71 C1804.26,471.23 1796.14,479.94 1796.64,483.81 C1797.14,487.68 1797.61,489.22 1798.96,491.93 C1800.32,494.64 1802.44,496.96 1804.77,500.06 C1807.09,503.16 1809.99,507.03 1812.89,510.51 C1815.8,513.99 1819.09,517.28 1822.18,520.96 C1825.28,524.64 1828.38,528.9 1831.47,532.57 C1834.57,536.25 1837.66,539.54 1840.76,543.02 C1843.86,546.51 1846.95,550.18 1850.05,553.47 C1853.15,556.76 1856.24,559.47 1859.34,562.76 C1862.43,566.05 1865.72,569.73 1868.63,573.21 C1871.53,576.69 1874.43,580.37 1876.75,583.66 C1879.08,586.95 1881.09,590.24 1882.56,592.95 C1884.03,595.66 1885.39,597.98 1885.58,599.92 C1885.77,601.85 1884.81,603.28 1883.72,604.56 C1882.64,605.84 1881.01,607.19 1879.08,607.58 C1877.14,607.97 1874.82,608.16 1872.11,606.88 C1869.4,605.61 1865.92,602.24 1862.82,599.92 C1859.73,597.59 1856.63,595.46 1853.53,592.95 C1850.44,590.43 1847.34,587.53 1844.24,584.82 C1841.15,582.11 1838.05,579.4 1834.96,576.69 C1831.86,573.98 1828.76,571.28 1825.67,568.57 C1822.57,565.86 1819.47,563.15 1816.38,560.44 C1813.28,557.73 1810.18,555.21 1807.09,552.31 C1803.99,549.41 1800.9,546.12 1797.8,543.02 C1794.7,539.93 1791.61,537.02 1788.51,533.73 C1785.41,530.44 1781.93,526.38 1779.22,523.28 C1776.51,520.19 1774.38,518.06 1772.26,515.16 C1770.13,512.25 1768.19,508 1766.45,505.87 C1764.71,503.74 1765.1,503.93 1761.81,502.38 C1758.52,500.84 1749.23,502.19 1746.71,496.58 C1744.2,490.97 1738.51,473.36 1746.71,468.71Z" fill="#808080" stroke="#000" stroke-width="1.25" stroke-linejoin="round"/>
<path d="M1746.71,468.71 C1752.71,465.23 1776.51,466.2 1782.71,468.71 C1788.9,471.23 1782.9,480.13 1783.87,483.81 C1784.83,487.48 1786.58,488.26 1788.51,490.77 C1790.45,493.29 1793.16,496.19 1795.48,498.9 C1797.8,501.61 1799.93,504.12 1802.44,507.03 C1804.96,509.93 1807.86,513.03 1810.57,516.32 C1813.28,519.61 1816.18,523.48 1818.7,526.77 C1821.22,530.06 1823.34,532.96 1825.67,536.06 C1827.99,539.15 1830.7,542.25 1832.63,545.34 C1834.57,548.44 1836.43,552.31 1837.28,554.63 C1838.13,556.96 1838.52,558.5 1837.74,559.28 C1836.97,560.05 1834.65,559.86 1832.63,559.28 C1830.62,558.7 1828.38,557.34 1825.67,555.79 C1822.96,554.25 1819.47,552.12 1816.38,549.99 C1813.28,547.86 1810.18,545.73 1807.09,543.02 C1803.99,540.31 1800.9,536.83 1797.8,533.73 C1794.7,530.64 1791.61,527.54 1788.51,524.44 C1785.41,521.35 1781.93,518.06 1779.22,515.16 C1776.51,512.25 1774.38,509.54 1772.26,507.03 C1770.13,504.51 1768.19,501.8 1766.45,500.06 C1764.71,498.32 1765.1,498.32 1761.81,496.58 C1758.52,494.84 1749.23,494.26 1746.71,489.61 C1744.2,484.97 1740.71,472.19 1746.71,468.71Z" fill="#000000" stroke="#000" stroke-width="1.25" stroke-linejoin="round"/>
<path d="M1800.35,483.8V628 M1761.3,523.52H1905.5" stroke="#ff7f0e" stroke-width="1.2" fill="none"/>
<rect x="1796.45" y="519.62" width="7.8" height="7.8" fill="#ff7f0e"/>
</g>
<path d="M1779.22,628v-5.9 M1779.22,483.8v5.9 M1809.06,628v-5.9 M1809.06,483.8v5.9 M1838.9,628v-5.9 M1838.9,483.8v5.9 M1868.86,628v-5.9 M1868.86,483.8v5.9 M1898.82,628v-5.9 M1898.82,483.8v5.9 M1761.3,487.75h5.9 M1905.5,487.75h-5.9 M1761.3,517.48h5.9 M1905.5,517.48h-5.9 M1761.3,547.2h5.9 M1905.5,547.2h-5.9 M1761.3,576.69h5.9 M1905.5,576.69h-5.9 M1761.3,606.42h5.9 M1905.5,606.42h-5.9" stroke="#000" stroke-width="1.4" fill="none"/>
<rect x="1761.3" y="483.8" width="144.2" height="144.2" fill="none" stroke="#000" stroke-width="1.55"/>
<text x="1487.42" y="24.4" font-size="12.1" class="t">gmin = 3.5</text>
<text x="1555" y="19.8" font-size="8.23" class="t">+2.9</text>
<text x="1555" y="27.67" font-size="8.23" class="t">−1.7</text>
<text x="1649.93" y="175.4" font-size="12.1" class="t">p = 4.3</text>
<text x="1694.69" y="170.8" font-size="8.23" class="t">+0.2</text>
<text x="1694.69" y="178.67" font-size="8.23" class="t">−0.2</text>
<text x="1777.37" y="326.4" font-size="12.1" class="t">log(B[G]) = 5.8</text>
<text x="1869.45" y="321.8" font-size="8.23" class="t">+0.7</text>
<text x="1869.45" y="329.67" font-size="8.23" class="t">−0.4</text>
<text x="1923.89" y="477.4" font-size="12.1" class="t">log(R[cm]) = 7.8</text>
<text x="2025.13" y="472.8" font-size="8.23" class="t">+0.6</text>
<text x="2025.13" y="480.67" font-size="8.23" class="t">−0.9</text>
<text transform="translate(1474.89,640.75) rotate(-45)" x="-5.57" y="6.38" font-size="17.5" class="t">2</text>
<text transform="translate(1513.44,640.75) rotate(-45)" x="-5.57" y="6.38" font-size="17.5" class="t">4</text>
<text transform="translate(1551.75,640.75) rotate(-45)" x="-5.57" y="6.38" font-size="17.5" class="t">6</text>
<text transform="translate(1590.07,640.75) rotate(-45)" x="-5.57" y="6.38" font-size="17.5" class="t">8</text>
<text x="1508.26" y="685" font-size="18.2" class="t">gmin</text>
<text transform="translate(1623.64,650.59) rotate(-45)" x="-19.48" y="6.38" font-size="17.5" class="t">4.00</text>
<text transform="translate(1656.15,650.59) rotate(-45)" x="-19.48" y="6.38" font-size="17.5" class="t">4.25</text>
<text transform="translate(1688.66,650.59) rotate(-45)" x="-19.48" y="6.38" font-size="17.5" class="t">4.50</text>
<text transform="translate(1721.17,650.59) rotate(-45)" x="-19.48" y="6.38" font-size="17.5" class="t">4.75</text>
<text x="1676.52" y="685" font-size="18.2" class="t">p</text>
<text transform="translate(1778.42,646.65) rotate(-45)" x="-13.92" y="6.38" font-size="17.5" class="t">5.4</text>
<text transform="translate(1808.26,646.65) rotate(-45)" x="-13.92" y="6.38" font-size="17.5" class="t">6.0</text>
<text transform="translate(1838.1,646.65) rotate(-45)" x="-13.92" y="6.38" font-size="17.5" class="t">6.6</text>
<text transform="translate(1868.06,646.65) rotate(-45)" x="-13.92" y="6.38" font-size="17.5" class="t">7.2</text>
<text transform="translate(1898.02,646.65) rotate(-45)" x="-13.92" y="6.38" font-size="17.5" class="t">7.8</text>
<text x="1792.03" y="685" font-size="18.2" class="t">log(B[G])</text>
<text transform="translate(1933.23,646.65) rotate(-45)" x="-13.92" y="6.38" font-size="17.5" class="t">5.6</text>
<text transform="translate(1962.95,646.65) rotate(-45)" x="-13.92" y="6.38" font-size="17.5" class="t">6.4</text>
<text transform="translate(1992.68,646.65) rotate(-45)" x="-13.92" y="6.38" font-size="17.5" class="t">7.2</text>
<text transform="translate(2022.63,646.65) rotate(-45)" x="-13.92" y="6.38" font-size="17.5" class="t">8.0</text>
<text transform="translate(2052.59,646.65) rotate(-45)" x="-13.92" y="6.38" font-size="17.5" class="t">8.8</text>
<text x="1936.24" y="685" font-size="18.2" class="t">log(R[cm])</text>
<text transform="translate(1433.91,226.8) rotate(-45)" x="-19.48" y="6.38" font-size="17.5" class="t">4.75</text>
<text transform="translate(1433.91,258.62) rotate(-45)" x="-19.48" y="6.38" font-size="17.5" class="t">4.50</text>
<text transform="translate(1433.91,290.66) rotate(-45)" x="-19.48" y="6.38" font-size="17.5" class="t">4.25</text>
<text transform="translate(1433.91,322.71) rotate(-45)" x="-19.48" y="6.38" font-size="17.5" class="t">4.00</text>
<g transform="translate(1412,253.9) rotate(-90)">
<text x="-5.78" y="0" font-size="18.2" class="t">p</text>
</g>
<text transform="translate(1437.85,348.32) rotate(-45)" x="-13.92" y="6.38" font-size="17.5" class="t">7.8</text>
<text transform="translate(1437.85,378.05) rotate(-45)" x="-13.92" y="6.38" font-size="17.5" class="t">7.2</text>
<text transform="translate(1437.85,408) rotate(-45)" x="-13.92" y="6.38" font-size="17.5" class="t">6.6</text>
<text transform="translate(1437.85,437.73) rotate(-45)" x="-13.92" y="6.38" font-size="17.5" class="t">6.0</text>
<text transform="translate(1437.85,467.45) rotate(-45)" x="-13.92" y="6.38" font-size="17.5" class="t">5.4</text>
<g transform="translate(1412,404.9) rotate(-90)">
<text x="-41.37" y="0" font-size="18.2" class="t">log(B[G])</text>
</g>
<text transform="translate(1437.85,496.3) rotate(-45)" x="-13.92" y="6.38" font-size="17.5" class="t">8.8</text>
<text transform="translate(1437.85,526.03) rotate(-45)" x="-13.92" y="6.38" font-size="17.5" class="t">8.0</text>
<text transform="translate(1437.85,555.75) rotate(-45)" x="-13.92" y="6.38" font-size="17.5" class="t">7.2</text>
<text transform="translate(1437.85,585.24) rotate(-45)" x="-13.92" y="6.38" font-size="17.5" class="t">6.4</text>
<text transform="translate(1437.85,614.97) rotate(-45)" x="-13.92" y="6.38" font-size="17.5" class="t">5.6</text>
<g transform="translate(1412,555.9) rotate(-90)">
<text x="-48.26" y="0" font-size="18.2" class="t">log(R[cm])</text>
</g>
</svg>
</body></html>
